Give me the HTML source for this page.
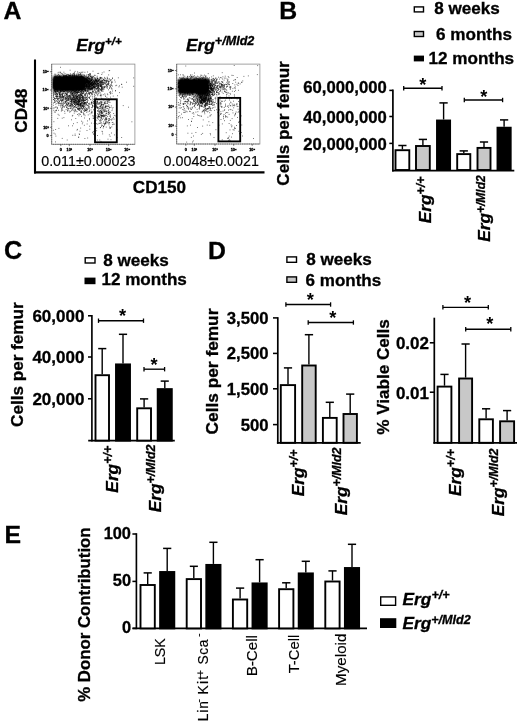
<!DOCTYPE html>
<html lang="en"><head><meta charset="utf-8"><title>Figure</title>
<style>html,body{margin:0;padding:0;background:#fff}svg{display:block;will-change:transform}</style>
</head><body>
<svg width="520" height="722" viewBox="0 0 520 722" font-family='"Liberation Sans", Arial, Helvetica, sans-serif' fill="#000">
<rect x="0" y="0" width="520" height="722" fill="#fff"/>
<text x="3.6" y="18.9" font-size="24.8" font-weight="bold" font-style="normal" text-anchor="start" stroke="#000" stroke-width=".32">A</text>
<text x="279.2" y="18.9" font-size="24.8" font-weight="bold" font-style="normal" text-anchor="start" stroke="#000" stroke-width=".32">B</text>
<text x="3.9" y="258.9" font-size="25.2" font-weight="bold" font-style="normal" text-anchor="start" stroke="#000" stroke-width=".32">C</text>
<text x="208" y="259.4" font-size="24.8" font-weight="bold" font-style="normal" text-anchor="start" stroke="#000" stroke-width=".32">D</text>
<text x="4.4" y="543.2" font-size="24.8" font-weight="bold" font-style="normal" text-anchor="start" stroke="#000" stroke-width=".32">E</text>
<g id="panelA">
<line x1="35" y1="59.5" x2="35" y2="173.5" stroke="#000" stroke-width="2.1"/>
<line x1="34" y1="172.4" x2="264.5" y2="172.4" stroke="#000" stroke-width="2.1"/>
<text x="76.3" y="51" font-size="17.3" font-weight="bold" font-style="italic" text-anchor="start" stroke="#000" stroke-width=".32">Erg<tspan font-size="11.5" dy="-5.6">+/+</tspan></text>
<text x="186" y="51" font-size="17.3" font-weight="bold" font-style="italic" text-anchor="start" stroke="#000" stroke-width=".32">Erg<tspan font-size="12.6" dy="-5.6">+/Mld2</tspan></text>
<text transform="translate(27.3 110.7) rotate(-90)" font-size="17.2" font-weight="bold" font-style="normal" text-anchor="middle" stroke="#000" stroke-width=".32">CD48</text>
<text x="132.8" y="193.3" font-size="17.1" font-weight="bold" font-style="normal" text-anchor="start" stroke="#000" stroke-width=".32">CD150</text>
<text x="41.2" y="165.8" font-size="14.3" font-weight="normal" font-style="normal" text-anchor="start" stroke="#000" stroke-width=".15">0.011±0.00023</text>
<text x="163.6" y="165.8" font-size="14.3" font-weight="normal" font-style="normal" text-anchor="start" stroke="#000" stroke-width=".15">0.0048±0.0021</text>
<defs><filter id="bl" x="-20%" y="-30%" width="140%" height="160%"><feGaussianBlur stdDeviation="1.1"/></filter></defs>
<rect x="51.7" y="64.1" width="83.2" height="80.2" fill="#fff" stroke="#8c8c8c" stroke-width="0.8"/>
<path d="M51.7,64.1V144.3H134.9" fill="none" stroke="#555" stroke-width=".8" stroke-dasharray="1.4 .8"/>
<rect x="52.9" y="75.6" width="32" height="15.5" rx="3" fill="#000" opacity="1" filter="url(#bl)"/>
<rect x="52.9" y="77.1" width="38" height="12" rx="3" fill="#000" opacity="0.55" filter="url(#bl)"/>
<path d="M88.4,76.6h.8M62,89.9h.8M59.4,85.7h.8M65.6,87h.8M61.5,81.4h.8M58.7,83.3h.8M69.8,87.7h.8M71.2,79.1h.8M54.2,76.9h.8M59.5,86.8h.8M74.7,79.5h.8M73,82.3h.8M75.3,85.1h.8M86.2,80.4h.8M65.3,89.3h.8M56.8,85.4h.8M79.9,85h.8M61.7,81.9h.8M75.1,82.3h.8M85.8,82.6h.8M73.9,83.7h.8M66.7,85.3h.8M75.2,85.4h.8M57.3,82.6h.8M63.4,83.1h.8M58.2,86.4h.8M63,88.4h.8M59.4,88.6h.8M63.3,83.5h.8M60.8,78.5h.8M66.9,84.2h.8M66.5,84.3h.8M69.6,83.9h.8M83.9,85.7h.8M82.5,84.1h.8M62.6,74.3h.8M63.5,83.7h.8M66.9,82.3h.8M79.6,85.7h.8M68.5,80.6h.8M67.2,86.9h.8M73.5,86.3h.8M74.7,85.3h.8M79.8,85.1h.8M72.6,82.3h.8M70.8,87.9h.8M67.3,79.9h.8M81.4,86.9h.8M54.7,89.7h.8M63.9,79.9h.8M70.7,84.5h.8M82.7,83.6h.8M55.4,76.6h.8M64.8,78.1h.8M93.7,84.3h.8M54.9,87.9h.8M58.8,85.5h.8M86,82.6h.8M60.1,83.6h.8M72.4,93.2h.8M71.6,89.2h.8M73.4,78.1h.8M70.5,80.6h.8M83.2,77.7h.8M78.9,85.7h.8M73.4,82.3h.8M56.8,77.3h.8M56.4,82.8h.8M74.6,79.2h.8M77.1,87h.8M89.7,79.7h.8M56.8,77.7h.8M59.5,81.8h.8M76.5,89h.8M54.5,85.7h.8M64,80.6h.8M58.9,81h.8M62.4,88.6h.8M82.5,83h.8M53.2,81.4h.8M66.6,88.1h.8M69.2,81.9h.8M76.9,80.7h.8M80.2,78.4h.8M71.4,81.9h.8M77.1,80.5h.8M66.6,84.3h.8M57.3,91.1h.8M76.3,86.5h.8M66.2,83.9h.8M65.1,86.1h.8M89,82.9h.8M94.3,84.9h.8M65.2,86.2h.8M90.8,85.7h.8M77,81h.8M62.3,84.9h.8M73.2,79.3h.8M72.4,92h.8M64.5,76.3h.8M74.6,83.3h.8M67.7,85.9h.8M68.5,82.1h.8M68.1,87.9h.8M89.5,78.9h.8M65.9,82.8h.8M60.2,82.3h.8M64,91.7h.8M87.3,86.9h.8M70.6,85.3h.8M59.7,82.7h.8M67.7,84.5h.8M75.7,83.1h.8M52.8,91.1h.8M62.3,84.6h.8M85.7,80.8h.8M76.8,81.7h.8M65.1,85.4h.8M59.5,79.3h.8M63.7,80.7h.8M78,74.5h.8M70.1,92.9h.8M67.5,82.9h.8M56.4,86.1h.8M72.4,85h.8M69.1,79.4h.8M59.2,83.7h.8M72.3,84.5h.8M77.9,80.2h.8M56.9,86.7h.8M58.8,88.8h.8M54.4,85.8h.8M76.1,77h.8M72.3,95.1h.8M70.1,86.9h.8M64.8,81.2h.8M60.3,79.9h.8M67.3,84h.8M56.6,80.4h.8M74.2,84.4h.8M89.1,82h.8M85.8,82.8h.8M86.6,79.1h.8M66.6,84.6h.8M77.7,84.9h.8M60.8,80.6h.8M77.7,77.2h.8M60.8,84.1h.8M59.3,76.6h.8M57.3,80.6h.8M74.8,85.7h.8M69.3,88.9h.8M68.1,82.6h.8M67.5,89h.8M84.9,82h.8M64,84.9h.8M68.2,89.1h.8M64.3,78.9h.8M65.3,88.6h.8M85.1,81.2h.8M56.5,87.6h.8M65.1,82.8h.8M60.4,87.5h.8M65.1,78.5h.8M60.6,88.9h.8M85.6,82.3h.8M63.6,76.3h.8M70.4,84.4h.8M86.5,77.4h.8M87.8,89.1h.8M60.8,90.8h.8M80.8,76.8h.8M53.7,89.4h.8M68,86.2h.8M82.2,87.7h.8M85.6,90.9h.8M65.9,76.4h.8M65,81.2h.8M61.3,84.4h.8M70.3,85.1h.8M64,82.1h.8M71.1,86.7h.8M56.7,80.3h.8M69.8,82.5h.8M70.3,83.8h.8M86.1,93.6h.8M70.1,84.8h.8M74.7,83.7h.8M61.4,81.8h.8M74,87.3h.8M74.2,81.5h.8M72.7,83.8h.8M52.9,84.6h.8M57,80.9h.8M63.2,80.5h.8M57.2,88h.8M79.3,81.1h.8M68,87.2h.8M82.8,82.8h.8M81,80h.8M66.5,78.8h.8M63.2,76.5h.8M53.4,86.1h.8M55.2,85.9h.8M55.3,81.6h.8M70.2,78.9h.8M54.2,81h.8M66.7,83.8h.8M68.2,88.3h.8M59.2,80.5h.8M63.3,76.3h.8M84.5,84h.8M86.7,81.7h.8M55.5,79.7h.8M63.2,75.5h.8M60.9,85.4h.8M62.1,88.8h.8M85.7,78.9h.8M74.6,77h.8M82.1,80.8h.8M88.8,81.8h.8M60,85.1h.8M63.3,83.3h.8M66.2,76h.8M79,84h.8M64.5,84.1h.8M74.1,80.7h.8M80.9,84.1h.8M80.8,77.3h.8M71.5,81.4h.8M55.4,77.3h.8M80.3,85.9h.8M71.6,74.9h.8M53.5,83h.8M59.1,85.8h.8M59.9,83.8h.8M69,82.6h.8M55.5,91.7h.8M61.9,83.3h.8M75.3,78h.8M64.5,82.4h.8M72.8,80.2h.8M71.2,87.8h.8M66.1,89.6h.8M66.3,89.9h.8M89.9,86.2h.8M63.5,82.5h.8M86.9,80.8h.8M53.8,78.5h.8M75.2,85.9h.8M67.9,78h.8M56.2,82.1h.8M86.4,84.9h.8M53.2,78.1h.8M67.4,78.4h.8M66.4,86.6h.8M69.3,78.5h.8M62.4,79.4h.8M77,86.9h.8M53.9,90.8h.8M68.6,83.2h.8M73.2,87h.8M81.1,76.1h.8M62.9,85.8h.8M61.7,86.8h.8M62.7,87.2h.8M55.9,89.1h.8M67.9,83.7h.8M61.7,82.1h.8M86.5,82.2h.8M85.1,83.4h.8M67.3,77.9h.8M72.9,81.3h.8M67.8,87.3h.8M77.8,82.5h.8M69.7,79.5h.8M75.6,76.2h.8M61.8,82h.8M54.6,91.1h.8M59.3,75.6h.8M86.9,95.9h.8M63.5,83.9h.8M82.5,81.7h.8M61.3,86.2h.8M87.2,79.9h.8M73.5,86.6h.8M71.4,89.8h.8M86.3,83.9h.8M54.4,88.9h.8M68.9,77.9h.8M63.3,78.5h.8M80.7,85.1h.8M66.4,82.6h.8M82.5,83.1h.8M69.8,82.6h.8M59.4,78.2h.8M83.7,80.5h.8M59.6,85.3h.8M73.5,78.4h.8M78.9,90.5h.8M76.5,93h.8M92.8,80.3h.8M63.6,82.8h.8M65.9,86.7h.8M65.7,83.1h.8M62.7,91.1h.8M53.1,82.3h.8M61.4,87.3h.8M82.9,85.4h.8M72.7,85.4h.8M70.1,80.1h.8M75.2,82.5h.8M88.2,78.2h.8M56.3,96.6h.8M68,83.8h.8M72.2,82.7h.8M81.7,83.7h.8M79,85.2h.8M54.7,85.8h.8M62.2,88.7h.8M80.1,83.3h.8M60.6,90.9h.8M61.1,84.7h.8M54.1,80.4h.8M85.5,80.1h.8M69.4,86.7h.8M60.3,83.8h.8M73.6,84.1h.8M64.6,78.4h.8M73.4,84.3h.8M82.8,80.9h.8M62.3,80.3h.8M72.4,88.8h.8M71.9,84.7h.8M80.4,82.4h.8M73.4,87.6h.8M66.1,91.2h.8M57.3,77.4h.8M69.5,87.4h.8M74.2,83.3h.8M66.5,89.3h.8M72.8,87h.8M58.9,81.7h.8M55.3,88.7h.8M53.8,82.8h.8M80.1,83.5h.8M62.9,78.2h.8M62.7,83.7h.8M65,82.2h.8M83.4,88.7h.8M62.6,83h.8M66,81h.8M73.6,73.9h.8M63,78.3h.8M71.3,82.5h.8M82.2,78.6h.8M74.3,78.9h.8M52.9,82.8h.8M53.9,83.5h.8M56,88.4h.8M57.9,86.3h.8M72.4,80.8h.8M61.5,84h.8M84.2,79.3h.8M68.9,88h.8M62.1,92.1h.8M52.8,87.5h.8M75.7,94.4h.8M79.8,79.1h.8M82.7,87.2h.8M60.5,83.1h.8M65.6,84.3h.8M68.6,79.2h.8M66.4,83.4h.8M78.9,83.2h.8M59.3,80.7h.8M70.5,88.2h.8M75.5,88.4h.8M87,81.5h.8M65.3,80.9h.8M79.2,78.9h.8M61.3,87.5h.8M69.8,80.7h.8M72.5,84h.8M54.7,85.7h.8M58.1,82.6h.8M97.2,88.1h.8M64.7,88.8h.8M67.2,80h.8M70.4,84.9h.8M69.6,83.9h.8M62.6,78.4h.8M56.8,84.7h.8M86.9,88.4h.8M69,80.7h.8M60.8,82.1h.8M65,81.9h.8M66.1,77.8h.8M57.2,87h.8M77.3,82.7h.8M58,85.4h.8M63.5,86.4h.8M76.6,81.8h.8M68.6,79.6h.8M80.3,80.8h.8M62.7,81.5h.8M60.1,80.2h.8M71.8,82.3h.8M68.5,77.8h.8M81.1,81.7h.8M71,81.1h.8M65.3,84.6h.8M71.5,85.6h.8M74.2,90.9h.8M63.8,86.4h.8M61.4,83.7h.8M81.3,83.9h.8M59.4,85.2h.8M79.5,82.8h.8M65,80.3h.8M79.6,85.3h.8M62.3,80.1h.8M80.7,81.8h.8M66.1,94h.8M67.8,84.2h.8M64.1,87.7h.8M74.4,86.1h.8M78,87.5h.8M69.5,82.2h.8M78.5,79.2h.8M62.4,86.8h.8M59,78.5h.8M59.7,83.4h.8M73.5,80h.8M61.7,86.6h.8M71.1,84.1h.8M72,85.2h.8M84.2,80h.8M60.5,81.5h.8M74.7,85h.8M74.7,82.8h.8M58.5,84.1h.8M62.4,78.9h.8M64.6,84.1h.8M67.5,85.4h.8M58.5,78.7h.8M57.5,88h.8M61,81.6h.8M83.9,81.2h.8M53.6,88.5h.8M78.4,81.7h.8M91.1,82.1h.8M68.6,85.1h.8M96.6,84.4h.8M64.2,88.4h.8M87.7,82.1h.8M65.4,81.4h.8M70.6,80.6h.8M90.6,86.6h.8M58.5,85.8h.8M72.4,82.4h.8M53.2,83.2h.8M54.7,74.9h.8M72.1,87.1h.8M63.8,85.6h.8M73.6,75.3h.8M82.8,81.5h.8M57.3,89.5h.8M66.9,84.8h.8M96.4,88.8h.8M62.1,90.1h.8M60.1,86.7h.8M72.1,80h.8M93.8,78.4h.8M58.9,82.6h.8M62.5,86.9h.8M67,85.5h.8M76.3,78.6h.8M94.9,86.7h.8M68.7,87.9h.8M73.6,84.3h.8M58.7,80.7h.8M79.2,84.1h.8M59.9,84.9h.8M73.1,83.2h.8M69.1,80.7h.8M75.3,85.7h.8M72.5,87.2h.8M70.2,79.3h.8M83.1,86.4h.8M59.6,81.4h.8M68.5,82.8h.8M81.6,87.7h.8M59.7,78.9h.8M62.2,83.3h.8M57.2,90.7h.8M54.8,89.7h.8M93.3,81.6h.8M73.1,79.5h.8M91.4,88.9h.8M76.6,84.8h.8M68.1,85h.8M63.4,77.7h.8M70.5,84.3h.8M66.5,77.7h.8M78.9,82.8h.8M55.7,91.3h.8M69.3,88.9h.8M73.1,90.2h.8M64.1,84.1h.8M64.1,85.4h.8M74.2,82.3h.8M74.3,92h.8M65.7,81.8h.8M66.9,78.2h.8M59.8,82h.8M74.3,88.1h.8M65.5,81.7h.8M63,78.1h.8M74.9,81.2h.8M70.6,78.5h.8M55.4,79.2h.8M76.4,82.7h.8M74.7,86.1h.8M74.7,91.5h.8M86.6,86h.8M62.4,79.3h.8M74.6,79.2h.8M63.4,77.5h.8M79.5,83.2h.8M81.7,79.7h.8M73,82.7h.8M76.3,79h.8M56,89.9h.8M74.6,82.4h.8M94.5,82.5h.8M81.4,92.8h.8M83.2,89.4h.8M55.1,83.7h.8M73.2,87.8h.8M67,88.6h.8M57.7,83.9h.8M73.8,91.1h.8M61.7,77.8h.8M85.3,87.2h.8M56.1,82.1h.8M82.6,82.4h.8M65.7,86.4h.8M72.7,81.6h.8M79.6,79.6h.8M61.5,88.3h.8M61.7,80.7h.8M54.1,89h.8M68.5,79.7h.8M77.8,78.3h.8M55.4,87.1h.8M75.4,78.2h.8M74.4,89.6h.8M85.5,90.1h.8M71.7,81.3h.8M57.3,83.1h.8M60.4,78h.8M81.7,80.4h.8M70.2,83.6h.8M59.4,83.8h.8M71.4,88.9h.8M61.1,81.9h.8M72.8,81.6h.8M67.7,86.6h.8M80.1,87h.8M70.1,82.9h.8M78.6,84.7h.8M65.6,81.5h.8M75,83.2h.8M63.7,75.3h.8M74.1,76.7h.8M68.6,87.4h.8M64.1,81.3h.8M60.2,79.4h.8M62.1,85.9h.8M71.9,92.3h.8M81.8,85.6h.8M63.2,91.4h.8M61.4,91.1h.8M75.3,85h.8M68.8,82.7h.8M65.1,84.6h.8M66.8,86.3h.8M78,83.5h.8M96.1,82.1h.8M70.6,81.6h.8M60.3,82.9h.8M71.2,85.1h.8M108.8,78.6h.8M55.7,80.4h.8M60.9,87.8h.8M73,80.5h.8M69.9,85.3h.8M78,75.9h.8M62.2,86.2h.8M82.9,84.6h.8M61.2,89.5h.8M87.4,82.4h.8M62.3,80.4h.8M58.1,87.8h.8M76.6,84.9h.8M57.5,89.8h.8M82.4,82.5h.8M64.6,85.9h.8M60,77h.8M71.2,87.4h.8M56.4,77.9h.8M80.6,82.2h.8M77.1,81.7h.8M54.7,85.7h.8M74.9,78.5h.8M84.7,85.8h.8M72.1,82.1h.8M72.2,78h.8M63.9,78.5h.8M80.2,81.8h.8M63.4,81.9h.8M82.9,88.9h.8M55.6,84.6h.8M77.1,82.5h.8M60.4,81.6h.8M72.8,89.8h.8M70.3,81h.8M64.9,85.5h.8M83,86.2h.8M74.3,79.9h.8M80.6,83h.8M80.4,86.3h.8M60.8,78.2h.8M70.8,82.6h.8M100.3,85h.8M54.7,81.4h.8M71,81.9h.8M58.3,86.1h.8M88.6,86.8h.8M68,77h.8M57.7,72.8h.8M56.1,78.3h.8M67.6,81h.8M54.8,91.3h.8M68.6,89h.8M88.9,75.7h.8M78.6,85.9h.8M96.5,83h.8M54.2,77.3h.8M61.8,80.9h.8M60.3,90.2h.8M75,85.4h.8M62.2,78.9h.8M61.5,83.1h.8M71.5,81.1h.8M72.8,76.8h.8M55.2,83.4h.8M86.3,79.3h.8M78,83.4h.8M71.8,84.4h.8M73.7,81.8h.8M70.3,79.9h.8M75.2,86h.8M77,85.9h.8M66.5,80.8h.8M63.5,72.2h.8M54.6,83.4h.8M73.5,82.7h.8M76.6,82.8h.8M57.1,86.6h.8M54.1,77.6h.8M96.5,83.1h.8M85.1,89.9h.8M61.8,88h.8M79.7,89h.8M89.2,82.8h.8M54,86.1h.8M61.8,83h.8M77.8,82.8h.8M70.9,78.9h.8M60.6,83.3h.8M87.1,87.3h.8M72.3,83.8h.8M76.1,75.9h.8M97.3,85.6h.8M72.1,78.9h.8M100.7,85.4h.8M69.7,80.1h.8M63.5,89.5h.8M67.3,82.5h.8M77.2,87.5h.8M74.3,77.6h.8M70.5,82.6h.8M62.1,81h.8M75.3,81.1h.8M84.8,83.6h.8M63.6,76.6h.8M59.4,87.9h.8M64.1,85.8h.8M68.3,80.8h.8M54.2,87.1h.8M79,80.9h.8M75.5,77.9h.8M59.9,72.8h.8M63.9,84.4h.8M56.3,87.8h.8M74.1,85.8h.8M56.6,91.1h.8M57.5,86.2h.8M87.2,91.4h.8M71.4,82.9h.8M68.6,91.2h.8M66.7,82.3h.8M76.9,81.2h.8M75.2,75.9h.8M62.3,86.9h.8M56.8,86h.8M68.3,84.6h.8M64.6,86.6h.8M80.7,76.9h.8M68.8,84.9h.8M80.5,94.7h.8M67,82h.8M71.6,84.3h.8M65.7,76.7h.8M67.4,76.6h.8M58.5,79.1h.8M57,84.2h.8M67.6,83.9h.8M65.7,81.6h.8M73.8,84.6h.8M63.8,87.1h.8M74.8,83.3h.8M54.3,84.3h.8M60.7,86.4h.8M69.7,82.5h.8M90.6,84.1h.8M61.5,83.6h.8M57.4,83.2h.8M56.1,81.8h.8M53.2,87.7h.8M54.7,80.8h.8M60.4,83.2h.8M65.3,78.2h.8M81.8,86.1h.8M59.1,77.1h.8M64.1,83.3h.8M70.5,81.6h.8M54.2,83.4h.8M59.1,79.2h.8M77.5,87.3h.8M67.4,88.5h.8M95.3,77.9h.8M71,91.4h.8M67.2,78.4h.8M74.1,84.7h.8M66.8,85.3h.8M89.3,85.2h.8M73.2,77.7h.8M62.7,86.2h.8M74.4,84.9h.8M62.4,83.3h.8M61,87.7h.8M77.2,84.7h.8M78.8,86.6h.8M70.8,84.5h.8M75.6,87.3h.8M77.7,82.6h.8M86.2,86.6h.8M84.7,82.2h.8M77.4,85.3h.8M60.6,87.2h.8M74.9,81.4h.8M59.5,81.1h.8M53.2,83.8h.8M71.9,86.8h.8M70.6,85.1h.8M81.7,84.3h.8M73.9,85.1h.8M74.9,79.6h.8M67.5,89h.8M85.7,88.8h.8M54.5,87.9h.8M70.6,76.9h.8M61.2,88.6h.8M65.9,79.3h.8M53.3,83.7h.8M64.3,82.9h.8M75.1,90.2h.8M67.8,87.5h.8M70.7,83.6h.8M56.1,85.5h.8M87.2,81.2h.8M57,79.4h.8M66.5,86.3h.8M74,86.7h.8M63.8,83.8h.8M76.2,89.9h.8M68.8,90.9h.8M88.7,82h.8M73.5,84.8h.8M71.5,85.8h.8M55.6,76.2h.8M72.3,88.5h.8M79.5,87.8h.8M71.7,85.5h.8M53.9,83.8h.8M59,82.4h.8M63.1,89.4h.8M66.4,81.5h.8M90.8,83.6h.8M64.8,89.1h.8M67.6,89.8h.8M60.3,84.5h.8M65.5,84h.8M91.3,79.1h.8M53.6,79.8h.8M59.2,85.3h.8M58.8,84h.8M86.1,79h.8M57.7,80h.8M60,72.2h.8M61.2,73.4h.8M68.9,75.7h.8M59.5,79.3h.8M60.7,87.1h.8M76.4,78.4h.8M72.9,85.6h.8M64.6,90.7h.8M55.7,85.8h.8M88,78.2h.8M74.4,76.3h.8M63.4,85.4h.8M56.4,85.1h.8M77.6,88.6h.8M56.3,83.2h.8M82.5,84.3h.8M72.5,84.7h.8M82.7,87.9h.8M53.3,85.1h.8M93.5,86.3h.8M77.2,83.5h.8M84.2,83.7h.8M91,79.8h.8M62.6,83h.8M63.5,86.3h.8M70.9,84.7h.8M68,79.9h.8M78.2,85.4h.8M58.8,81.3h.8M80.6,82.5h.8M94.9,85.9h.8M56.7,81.8h.8M74.3,86.4h.8M71,82.3h.8M54,90.2h.8M56.4,83.8h.8M88.2,79.1h.8M53.5,86.7h.8M58.4,84.2h.8M78.4,77.4h.8M62.4,79.8h.8M53,82.7h.8M84.7,86h.8M70.3,75.5h.8M57,82.8h.8M61,83.8h.8M78.2,92.1h.8M61.3,84.3h.8M69.4,84.1h.8M77.7,83.1h.8M79.1,84.5h.8M59.8,82.3h.8M61.8,85.1h.8M67.5,90.7h.8M76.3,82.2h.8M81.5,85.7h.8M60.3,90.8h.8M68.8,83.2h.8M58.5,80.7h.8M88.9,86.6h.8M71,87.7h.8M67.1,85.1h.8M79.4,83.2h.8M57.8,83h.8M61.9,84h.8M64.1,87.8h.8M74.9,84.9h.8M83.4,89.4h.8M76.7,91.4h.8M76.3,82.3h.8M63.5,90.1h.8M71.3,88.7h.8M63.4,83.3h.8M81.6,74.3h.8M58.2,79.6h.8M65.5,86.4h.8M69.6,76h.8M76.7,88.7h.8M57,80h.8M63.4,84.4h.8M55.7,80.7h.8M80.6,84.2h.8M72.4,78.5h.8M53.7,81.1h.8M73.7,86.2h.8M58.5,79.2h.8M82.7,90.1h.8M60,78.4h.8M61.5,78.2h.8M73.7,81.2h.8M57,84.6h.8M66.6,85.6h.8M68.4,85.9h.8M76,86.7h.8M56.6,83h.8M80.4,78.7h.8M70.7,79.6h.8M89.6,81.8h.8M69.1,80.2h.8M59.3,92.8h.8M59.2,81.6h.8M66.1,86.4h.8M65.3,80.1h.8M77.8,78.1h.8M67.2,82.1h.8M55.1,84.6h.8M79.4,82h.8M60.4,87.7h.8M69.5,80.9h.8M85.1,80.8h.8M82.6,84.5h.8M56.4,91.4h.8M64.5,86.7h.8M83.5,90.8h.8M78.8,81.8h.8M73,87.9h.8M77.5,85.5h.8M62,82.2h.8M57.5,80.4h.8M60.7,79.2h.8M71.9,86.9h.8M81,86h.8M75.9,80.1h.8M69.1,87.8h.8M60.9,83.6h.8M82.2,84.2h.8M68.9,91.6h.8M64.5,88.7h.8M71.8,90.4h.8M68.1,83.2h.8M85,90.3h.8M61.8,91.3h.8M64.4,78.5h.8M64.5,81h.8M58.8,81.2h.8M61.1,83.3h.8M54.3,83.6h.8M77.4,85.4h.8M63.3,86.9h.8M75.9,84.5h.8M64.5,79h.8M72.3,84.9h.8M73.8,81.2h.8M56.6,84.3h.8M63.4,89.6h.8M66.1,85.9h.8M60.2,84.1h.8M59.2,89.6h.8M71.6,91.5h.8M58.3,90.2h.8M68.5,84.6h.8M82.5,86.2h.8M66,81.5h.8M72.4,81.7h.8M53.8,79.2h.8M64.3,79.7h.8M88.7,86.3h.8M89.3,73.5h.8M73.1,85.8h.8M61.3,86.8h.8M63.5,86.2h.8M82.2,83.2h.8M55.6,78.6h.8M63.1,85.9h.8M76.8,88.7h.8M69.5,75.5h.8M69.7,80.3h.8M66.5,78.8h.8M62.7,85.7h.8M76.9,84.6h.8M72.2,83.6h.8M85.7,75.8h.8M70.6,81.8h.8M68.7,87.1h.8M59.8,78.9h.8M60.6,79.4h.8M61.3,81.1h.8M72.1,84.1h.8M72.4,75.5h.8M55.3,84.3h.8M60.1,81.4h.8M81,84.4h.8M64.4,86.8h.8M71.9,83.3h.8M72.4,81.4h.8M63,88.9h.8M72.1,81.5h.8M65.9,88.9h.8M71.3,81.3h.8M58,80.6h.8M84.1,78.8h.8M63.2,89.4h.8M64.3,84.7h.8M55,87.4h.8M81,87h.8M57.6,85.3h.8M70.2,81.4h.8M64.1,81.4h.8M76.2,84.8h.8M70.2,75.1h.8M83.7,83h.8M61.8,79.3h.8M63.1,83.2h.8M68.5,78.9h.8M83.5,85.9h.8M53,80.6h.8M79.9,85.9h.8M84,75.5h.8M78.4,77.4h.8M67.7,85.6h.8M56.8,90h.8M72.6,86.4h.8M62.1,84.2h.8M87.8,89.9h.8M61.4,81.3h.8M73.5,77.1h.8M59.9,80.3h.8M70.9,83.8h.8M60.7,85.7h.8M63,80.8h.8M55.9,77.3h.8M63.3,84.3h.8M82.1,79.3h.8M68.9,81.7h.8M86.2,87.7h.8M70,89.8h.8M80,74.6h.8M53.4,81.9h.8M55.2,79.8h.8M68.8,83h.8M53.5,80.3h.8M67.1,82.6h.8M53.1,83.7h.8M83.5,80.9h.8M75.8,83h.8M76.5,83.8h.8M62.6,93.6h.8M68.6,87.4h.8M76.9,85.1h.8M54.3,84.1h.8M82,80.5h.8M64.5,88h.8M82.2,78.9h.8M95.3,80.7h.8M86.3,87h.8M81.7,79.8h.8M61.4,94.4h.8M60,79.5h.8M62.5,82.2h.8M68.8,84.2h.8M56.2,87.7h.8M80.3,94h.8M69.9,88.8h.8M52.9,83.6h.8M56.4,83.5h.8M56.8,86.2h.8M68.2,78.2h.8M63.4,86.1h.8M71.3,82.4h.8M77.5,76.6h.8M65.7,78.8h.8M81.1,89.8h.8M71.2,84.9h.8M58.2,79.8h.8M60.3,88.6h.8M65.6,75.5h.8M72.5,83.4h.8M67.8,78.6h.8M78.4,86.1h.8M80.7,87.1h.8M64.2,81h.8M71.5,87.7h.8M77.5,84.6h.8M74.1,91.5h.8M73.7,85h.8M53.3,84.4h.8M70.5,79.7h.8M57.1,79.5h.8M71,86.5h.8M77.4,82.5h.8M56.8,87.9h.8M62.4,86.2h.8M97.8,81.4h.8M55.7,82.1h.8M58.9,88.1h.8M78.6,80.3h.8M56.7,84.6h.8M57.4,80.7h.8M55.1,93.1h.8M75.4,83.9h.8M58.3,82.8h.8M64.9,80.4h.8M83.5,86h.8M63.6,81.6h.8M67.2,84.3h.8M67.8,85.9h.8M82.3,84h.8M58.1,86.5h.8M65.9,78.9h.8M74,74.7h.8M60,78.6h.8M91.9,83.8h.8M78.6,88.5h.8M91.4,80.8h.8M68,83.8h.8M89.6,79h.8M59.2,86.5h.8M71.4,90.4h.8M67.7,79.8h.8M60.5,83.5h.8M87.9,91.7h.8M83.5,81.5h.8M57.2,80h.8M75.4,83.4h.8M67.6,84.8h.8M68.5,82.5h.8M74.4,83.3h.8M59.9,87.9h.8M69,79.8h.8M70.5,88.1h.8M58.6,81h.8M59.9,87.3h.8M77.9,88.5h.8M67,83.9h.8M97.6,81.6h.8M94.6,79h.8M56.9,77.9h.8M70.5,86.3h.8M57.6,83.4h.8M54.3,81.8h.8M55.9,87.3h.8M69.3,88.6h.8M67.7,82.8h.8M55.1,91.7h.8M64.7,82h.8M77.8,81.8h.8M86.8,79.4h.8M86.6,81.7h.8M54.8,81.8h.8M60.5,77.9h.8M85.9,88.9h.8M73.6,88.2h.8M73.3,81.9h.8M86.1,87.2h.8M68.6,75.8h.8M59.7,86.5h.8M84.9,82.2h.8M62.8,84.5h.8M67.7,82.5h.8M90.2,81.4h.8M75.4,83h.8M66.3,84.2h.8M81.6,86.9h.8M71.3,80.9h.8M58.6,82.7h.8M83.7,82.1h.8M54.6,90.9h.8M76.2,78.4h.8M68.3,84.2h.8M65.9,78.9h.8M74.8,85.6h.8M63.9,81.2h.8M84.5,83.5h.8M62.9,81.1h.8M84.6,88.3h.8M83.1,85.9h.8M72.3,86.8h.8M83.9,85h.8M74.7,71.4h.8M54.7,79.2h.8M61.9,77.5h.8M72.5,75.3h.8M53.7,89.8h.8M85.5,79.8h.8M56.4,88.1h.8M56,80.3h.8M53.1,86.6h.8M86.9,85.2h.8M76,79.7h.8M77.3,80.4h.8M87.3,80.6h.8M78.2,85.6h.8M83.2,77.1h.8M70.4,83h.8M77,80.7h.8M73.9,90.1h.8M74.8,78.3h.8M62.8,84h.8M60.8,89h.8M57.1,87.4h.8M65,77.1h.8M89.3,90.2h.8M77.9,81.8h.8M66.8,85.2h.8M70,73.8h.8M84,89.3h.8M70.6,83.8h.8M87.3,81.6h.8M89.1,88.2h.8M77.3,71.8h.8M72.7,82.5h.8M56.2,82.6h.8M64.9,89.1h.8M70.4,79.3h.8M70.8,82.4h.8M58.4,86.2h.8M69,82.8h.8M55.4,87.8h.8M62.4,90.5h.8M72.1,74.1h.8M69.4,75.5h.8M67.7,80.4h.8M75,83.6h.8M80.1,79.8h.8M61.6,85.7h.8M56.3,77.6h.8M58.9,83.1h.8M64.8,79.2h.8M55.4,82.3h.8M62.1,81.9h.8M83.1,86h.8M72.2,77.1h.8M63.5,76.5h.8M77,85.7h.8M67.8,82h.8M68.5,82.6h.8M79.4,82.2h.8M69.9,76.8h.8M67.5,78.1h.8M74.9,84.4h.8M58.4,83.7h.8M66.2,82.3h.8M60.1,89.2h.8M85.7,82.7h.8M60.9,86h.8M65.6,87.5h.8M60.1,83h.8M72,78.8h.8M65.4,87.7h.8M79.9,85.1h.8M54.1,83.9h.8M66.2,80.8h.8M61.2,87.6h.8M58,76.9h.8M79.8,86.2h.8M56.1,87.9h.8M56.3,83.1h.8M98.6,79.2h.8M64.8,79.2h.8M63,86.7h.8M71.7,82.8h.8M70.3,80.5h.8M59.6,94.6h.8M58.3,79.6h.8M83.3,86.5h.8M74,87.9h.8M89.8,83.5h.8M87.6,84.7h.8M56.8,85.2h.8M72.6,90.8h.8M60.1,83.6h.8M57.5,86h.8M81.4,90.7h.8M84.5,79.9h.8M67.4,79.1h.8M70.2,84.5h.8M69.6,83.3h.8M70,88.1h.8M70.4,87.6h.8M73.8,87.1h.8M56.8,83.4h.8M63.9,89.1h.8M69.3,84h.8M76.7,94.8h.8M70.7,85.2h.8M69.6,88.1h.8M57.1,81.2h.8M70.9,80.1h.8M68.5,91.4h.8M69.5,83h.8M56,80.7h.8M87.9,81.5h.8M75.6,87.9h.8M74.6,82.6h.8M66.9,80.7h.8M62,74h.8M77.8,81.1h.8M59.7,82.2h.8M61.9,81.7h.8M73.1,92.6h.8M61.6,86.6h.8M84.1,82.2h.8M86,80.4h.8M69.8,86.7h.8M77.9,90.5h.8M58.9,83.3h.8M79.1,89.4h.8M61.4,82.4h.8M69,78.9h.8M72.7,83.3h.8M67.2,87.5h.8M64.3,81.3h.8M61.5,82.3h.8M76.3,83.9h.8M56.8,86h.8M68.1,79.8h.8M82.4,81.3h.8M54.2,83.5h.8M90.1,80.1h.8M68.8,88.2h.8M62.6,83.9h.8M78,88.2h.8M59.5,81.8h.8M57.4,79.9h.8M79.4,86.4h.8M74.4,88.1h.8M67.2,77.1h.8M77.9,92.3h.8M65,87.9h.8M62.2,86.3h.8M90.6,78.9h.8M60.1,86.6h.8M70.3,81.6h.8M93.7,82.4h.8M73.6,86.5h.8M58.4,80.8h.8M54.6,82h.8M81.5,91.1h.8M76.6,77.1h.8M86.8,80.6h.8M64.5,78.8h.8M76.5,84.7h.8M66.7,79.2h.8M84.3,83h.8M69.4,83.7h.8M56.7,85.5h.8M70.5,84h.8M67.8,84.4h.8M57.8,83.4h.8M62.7,80.1h.8M54.9,83.7h.8M74.2,80.5h.8M69.5,84h.8M66,87.5h.8M58.1,84.3h.8M84.2,78.4h.8M74.9,81.6h.8M58.1,79.3h.8M68.5,82h.8M77.8,86.5h.8M68.6,83h.8M62.6,81.1h.8M71,81.5h.8M93.4,83.7h.8M57.3,75.7h.8M61.4,81.4h.8M68.7,87.1h.8M73.9,78.8h.8M85,76.9h.8M86.7,89.8h.8M72,81.9h.8M67.1,82.1h.8M81.2,81.9h.8M62.2,86.8h.8M82.8,85.5h.8M71.4,81.4h.8M60.4,82.2h.8M59.9,76.8h.8M60.8,83.8h.8M84.1,80.7h.8M57.6,83.6h.8M63.1,82.5h.8M67.9,81.9h.8M53.5,82.9h.8M69.6,75.1h.8M73.5,81.9h.8M63.1,84.1h.8M86.2,84.2h.8M66.9,74.7h.8M66,86h.8M63.5,85.2h.8M58.5,85.2h.8M65.7,85h.8M68.3,86.7h.8M79.2,81.5h.8M87.7,82.7h.8M56.8,85.1h.8M87.4,77.8h.8M67.5,85.4h.8M74,80.2h.8M53,81.1h.8M70.9,80.4h.8M54.1,84h.8M75.2,78.4h.8M66.9,80.9h.8M60.9,80h.8M71,89h.8M69.7,83h.8M68.5,76.9h.8M59.8,83.4h.8M77.8,86.4h.8M73.9,88.7h.8M56.3,87h.8M76.3,83.1h.8M58.1,93.2h.8M67.7,82.9h.8M65.3,76.8h.8M65.4,90.9h.8M77,88.9h.8M83.3,92.8h.8M82.9,83.6h.8M74.1,85.2h.8M71.5,85.4h.8M62.7,80.5h.8M82.7,77.6h.8M81.6,83.4h.8M72,85.9h.8M89,81.6h.8M69,76.7h.8M63.5,79.6h.8M84.3,82.7h.8M57.4,82h.8M77.7,81h.8M81.8,78.5h.8M70.2,89.8h.8M68.7,83.5h.8M73.6,84.7h.8M70.5,83.8h.8M58.2,78.9h.8M60.6,81.2h.8M80.2,80.7h.8M61.4,78.4h.8M70.5,83.5h.8M77.3,79.7h.8M80.9,83.2h.8M55.2,84.5h.8M95.8,89.7h.8M79.5,77.6h.8M75.9,89.2h.8M55.4,89.9h.8M94,81.4h.8M76.1,84.2h.8M82.2,87.8h.8M63.5,79.4h.8M92.5,89.8h.8M86.9,77.6h.8M66.1,85.7h.8M93.7,83.8h.8M53.5,79.9h.8M78.9,80.4h.8M75.9,83.2h.8M76.4,81.8h.8M58,82.3h.8M62.4,81.7h.8M79.7,86.2h.8M81.1,84.3h.8M66.2,83.9h.8M63.4,84.7h.8M60,84.7h.8M84.3,88.5h.8M64.7,83.7h.8M59.4,84.2h.8M60.7,78.3h.8M62,87.7h.8M52.7,79.5h.8M60.3,83.9h.8M64.6,80.7h.8M75.1,86.4h.8M91.4,78.7h.8M66.1,80.9h.8M60.9,89h.8M70.6,78h.8M55.7,80.8h.8M72.7,83h.8M75.7,83.6h.8M61.9,87.6h.8M70.6,84.8h.8M79.1,86.5h.8M57.8,82.2h.8M55.7,83.6h.8M64.3,83.3h.8M67.8,81.7h.8M75.2,81.8h.8M68.5,75.9h.8M63.5,76.9h.8M72.8,79.9h.8M79.2,81.1h.8M78.4,78.3h.8M93.3,91.1h.8M57.4,79.2h.8M68.7,84.6h.8M56.6,79.9h.8M73.8,85.3h.8M82.2,82.8h.8M59.2,79.5h.8M71.9,86.5h.8M66.8,87.4h.8M72.4,94.1h.8M68.6,87.8h.8M59.5,79.2h.8M70.8,81.9h.8M64.6,73.6h.8M93.1,86.3h.8M66.4,83.5h.8M77.7,90.5h.8M68.4,85.6h.8M87.7,86.6h.8M71.1,80.2h.8M61.6,80.7h.8M71.1,83.6h.8M73.9,75h.8M71.7,75.3h.8M66.1,83.7h.8M59,92.3h.8M64,84.2h.8M86.6,84.5h.8M73.6,83.3h.8M58.8,81.6h.8M75.8,77.5h.8M97.6,83.4h.8M69,81.4h.8M68.7,86.3h.8M79.2,80.4h.8M58.4,83.6h.8M55.7,77h.8M75.8,80.1h.8M70,82.2h.8M59.5,82.1h.8M62.1,83.9h.8M58.5,84.3h.8M85,93.4h.8M54.5,83h.8M69.8,87.5h.8M58.2,85.1h.8M72.4,82.7h.8M65,89.6h.8M66.2,76.6h.8M66.4,84.9h.8M92,84.8h.8M72.5,86.4h.8M64.5,81.3h.8M62.2,87.3h.8M84.6,83.6h.8M63,82.1h.8M69.6,78.9h.8M77,89.5h.8M91.9,94h.8M93.4,86.1h.8M64.1,87.8h.8M69.3,86.2h.8M76.1,83.1h.8M76.8,81.6h.8M75.1,84.6h.8M62.3,88h.8M57.8,82.9h.8M87.3,89.4h.8M63.7,82.5h.8M67.1,89.9h.8M79.2,82.5h.8M74.6,83.8h.8M60.3,88.9h.8M67.6,85.2h.8M67.6,79.5h.8M77.6,83.8h.8M71.8,87.4h.8M53.1,85.5h.8M64.2,79.2h.8M66,81.7h.8M67.9,84.1h.8M59.9,82.4h.8M73.2,88.5h.8M89.3,84.6h.8M57.1,86.1h.8M71.9,83.2h.8M59.8,82.3h.8M85.7,84.4h.8M82,85.7h.8M65.7,86.7h.8M57.7,86.6h.8M75.9,87h.8M64.9,75.5h.8M63.6,87.4h.8M94,81.3h.8M80,78.5h.8M83.8,77.4h.8M78,80.1h.8M83.8,77.4h.8M85.4,83h.8M73.7,79.4h.8M74,80.6h.8M72.2,80.9h.8M71.2,79.1h.8M68.1,79.2h.8M78.2,81.9h.8M59,77.9h.8M62.1,81.8h.8M65,81.5h.8M63.4,80h.8M78.1,83.2h.8M58.7,72.2h.8M81.8,85.2h.8M61.8,84.7h.8M53,94.7h.8M64.3,75.9h.8M63.1,84h.8M68.7,86.3h.8M79.6,86.2h.8M69.8,82h.8M86.8,78.6h.8M73,89.5h.8M52.9,86h.8M79.5,79.1h.8M62.3,83.1h.8M67,77.8h.8M83.6,84.1h.8M80.1,81.9h.8M70.1,84.6h.8M70.2,84.8h.8M82,86.6h.8M69.8,90.7h.8M57.1,91.8h.8M58.1,74.5h.8M54.1,84.2h.8M82,87.2h.8M54.6,85h.8M78.4,89.1h.8M73.9,83.6h.8M57.3,87.8h.8M78.6,79.2h.8M82.4,78.9h.8M70.5,76.9h.8M62.9,86.1h.8M75.8,85.6h.8M56.2,89.6h.8M72.4,84.6h.8M85.9,85.7h.8M75.4,84.9h.8M54.4,84.5h.8M60,90.9h.8M67.9,78.6h.8M57.8,85h.8M67.5,83.9h.8M53.1,85.5h.8M58.9,85.3h.8M64.7,86.7h.8M73.1,77.6h.8M60.4,83.6h.8M70.3,80h.8M73.8,83.6h.8M72.5,77.8h.8M64.4,85.8h.8M82.9,85h.8M55.8,89.8h.8M79.6,76.5h.8M78.9,78.7h.8M77.5,82.4h.8M59.3,82.8h.8M78.5,75.9h.8M72.2,78.6h.8M61.9,85.5h.8M70.9,82.9h.8M84.2,89.9h.8M78,88.5h.8M53,85.9h.8M53,84.3h.8M63.6,86.7h.8M64,84.1h.8M75.7,90.5h.8M61.8,78.4h.8M80.7,82.6h.8M59.2,83h.8M79.5,84.6h.8M58.9,76.3h.8M66.6,82.5h.8M76.9,89.5h.8M73,81.4h.8M54.9,85.8h.8M65.8,84.2h.8M65,81.8h.8M61.1,83.1h.8M65.9,89.6h.8M72.8,84.4h.8M79.1,82.7h.8M54.6,84.1h.8M55.1,88.8h.8M82.1,88.6h.8M80.1,84.8h.8M55.8,84.8h.8M57.3,89.2h.8M72.5,86h.8M68.7,80.7h.8M66.5,74.4h.8M95.4,78.6h.8M63.8,82.9h.8M64.6,84.9h.8M69.5,82.5h.8M63.7,80.8h.8M80.6,87.6h.8M64,83h.8M67.9,80.5h.8M95.4,79.1h.8M58.7,86.3h.8M68.3,85.3h.8M58.3,84.7h.8M58,84.2h.8M69.1,83.6h.8M77.3,85.3h.8M63.6,85.5h.8M78.1,81.4h.8M74.4,82h.8M89.4,83.9h.8M83.4,81.2h.8M71.4,92h.8M90.5,83.9h.8M60.5,81h.8M76.2,78h.8M59.3,84.5h.8M62.7,88.8h.8M86.8,81.3h.8M62,83.7h.8M79.5,79.3h.8M82.1,80h.8M60.4,79.8h.8M74.8,84.3h.8M99.9,89.7h.8M72.4,86.4h.8M80.1,89.7h.8M83.7,82.6h.8M61.9,80.8h.8M67.7,89.1h.8M63.6,89.3h.8M68.6,80.2h.8M61.9,83h.8M59,86.2h.8M57.9,83.5h.8M75.7,79.1h.8M67.2,76.7h.8M83.6,93h.8M74.6,87.8h.8M55.3,89h.8M56.2,88.6h.8M74.1,84.3h.8M69.8,78.5h.8M56.9,80.2h.8M61.4,90.8h.8M58.1,80.3h.8M64.7,81.8h.8M72.9,76.9h.8M73.4,81.6h.8M88.4,84.3h.8M64.8,80.9h.8M78.7,90.4h.8M69.3,79.6h.8M52.9,88.1h.8M69.9,85.4h.8M70.3,90h.8M74.6,84.8h.8M72.2,75.9h.8M67.5,78.5h.8M54.1,84.1h.8M61.8,79.9h.8M69.5,88.2h.8M74.2,76.8h.8M76.3,86.4h.8M70.5,81.9h.8M74,85.3h.8M84.4,86.9h.8M68.4,75.4h.8M58.8,80.9h.8M66.2,83.7h.8M73.8,77.9h.8M60.8,81.2h.8M84.9,82.9h.8M54.4,81.7h.8M60.8,85.7h.8M65.1,89.8h.8M78.7,78.2h.8M55.8,79.5h.8M77.4,80.6h.8M82,81.1h.8M59.4,83.1h.8M65.1,81.3h.8M58.3,86.2h.8M71.5,85.2h.8M92.1,79.8h.8M70,84.2h.8M78.5,79.3h.8M60.1,83.4h.8M77.9,81.4h.8M87,77.7h.8M56,79.4h.8M67.2,85.6h.8M78.5,80.3h.8M70.9,83.1h.8M54.6,74.1h.8M59.5,84.7h.8M73.2,73.4h.8M69.9,81.4h.8M57,84h.8M69.9,92.1h.8M66.6,79.8h.8M78.1,81.4h.8M77.8,84.7h.8M60,85h.8M68.9,82h.8M68.6,87h.8M64,86.1h.8M54.9,80.3h.8M57.3,85.6h.8M80,84.3h.8M55.2,86.6h.8M55,85.9h.8M67.1,87.5h.8M85.4,86.4h.8M59.9,77.1h.8M60.3,87.2h.8M62,80.9h.8M76.8,80.8h.8M80.3,87.8h.8M94.3,81.9h.8M79.6,88.7h.8M75,82.2h.8M62.4,79.9h.8M98,83.8h.8M82.4,80.2h.8M90.5,95.9h.8M67.9,84.5h.8M84,80.1h.8M77.2,84.9h.8M88.1,90h.8M87.1,88h.8M71.8,82.4h.8M75.1,87.8h.8M100.1,77.6h.8M90.6,85.4h.8M90.8,87.8h.8M92.3,82h.8M84.8,90.5h.8M65.1,83.2h.8M76.8,84.2h.8M79.1,79.4h.8M82.6,83.9h.8M58,84.3h.8M97.9,85.7h.8M74.3,80.1h.8M89.8,83.9h.8M57,82.9h.8M85.5,86.2h.8M72.1,82.3h.8M94.3,82.3h.8M73,95.3h.8M95,91h.8M94.9,79.9h.8M69.4,88.8h.8M70.8,80.3h.8M73.4,84.3h.8M81.1,84.1h.8M84.4,83.5h.8M70.8,83.4h.8M76.4,82.5h.8M80,86.2h.8M87.5,89.3h.8M71.9,90.5h.8M84.5,72.3h.8M86.8,91.2h.8M92.1,82.5h.8M73.6,76.8h.8M95.3,83.6h.8M97.6,94.2h.8M85.5,90.5h.8M82,89.9h.8M87.6,81h.8M77.3,91.3h.8M81.2,91.6h.8M92.1,91.5h.8M78.7,88.9h.8M79.3,82.9h.8M80.4,80.9h.8M83.7,81.1h.8M93,84.4h.8M92.6,84.5h.8M67.6,82.8h.8M82.3,81.4h.8M81,76.2h.8M91.1,82.2h.8M94,80.6h.8M78.1,86.5h.8M77.3,89.2h.8M60.4,85.3h.8M88.3,87.3h.8M86.9,85.7h.8M81.5,84h.8M67.9,79.5h.8M80.8,80.6h.8M77.1,83.7h.8M73.3,78.3h.8M79.5,87.9h.8M64.4,82.9h.8M73,84.3h.8M83.8,80.6h.8M100.8,82.5h.8M61.3,86.1h.8M86.5,86.7h.8M80.5,83.2h.8M75.8,82.1h.8M90.2,84.5h.8M66.1,78.7h.8M84.5,82.8h.8M75.4,78.3h.8M78.9,81h.8M62.2,87.2h.8M78.7,84.6h.8M86.2,79.1h.8M81.2,80.6h.8M60.6,84h.8M92.6,78.9h.8M84.8,83.9h.8M84.2,90.2h.8M88.9,84.9h.8M74.9,88.4h.8M92.2,84.1h.8M85,90.2h.8M77.4,84.1h.8M80.3,83.8h.8M90.6,88.9h.8M106,82.1h.8M75,82.3h.8M84.5,84.5h.8M71.5,82.4h.8M77.9,91.9h.8M75.5,77.8h.8M86.6,86.2h.8M82.1,80.2h.8M71.8,83.8h.8M77.1,88.7h.8M72.3,80.9h.8M77.7,73.9h.8M79,86h.8M90.1,89.5h.8M65.5,83.3h.8M94.6,81.4h.8M69.3,81.1h.8M86.5,85.1h.8M108.7,81.8h.8M79.8,76.1h.8M95.9,81.1h.8M84.6,83.4h.8M76.3,83.2h.8M96.1,84.8h.8M65.6,86.5h.8M88.5,91.1h.8M79.2,78.4h.8M90.8,86.7h.8M91.7,83.1h.8M87.3,83.3h.8M81.3,76.7h.8M93.8,87.5h.8M68.2,74.6h.8M92.6,82.1h.8M95.1,92.9h.8M76.1,81.9h.8M84.5,87.1h.8M87.6,80.4h.8M96.9,80.2h.8M84.4,86.1h.8M79.9,86.4h.8M78.3,81.8h.8M72,79.6h.8M62.6,81.3h.8M97.7,83.6h.8M95.4,80.3h.8M91.7,88.7h.8M78.2,81h.8M93.8,82.2h.8M97.6,80.7h.8M82,78.2h.8M87.4,85.9h.8M68.5,80.6h.8M85.6,85.4h.8M100.9,84h.8M94.8,95.6h.8M93.7,87.3h.8M89.2,93.2h.8M76.8,75.1h.8M70.8,84.2h.8M74.3,86.7h.8M81.2,79.4h.8M78.9,85.3h.8M90.4,81.3h.8M67.4,90.2h.8M89.5,83h.8M66.2,82.9h.8M80.7,93.3h.8M80.1,83h.8M92,79.1h.8M78.3,85.5h.8M80.1,80.4h.8M85,78.1h.8M75,85h.8M94.8,86.6h.8M78.2,77.5h.8M81.8,88h.8M93.5,77.1h.8M84.1,82.9h.8M80,88.5h.8M93,86.3h.8M89.3,78.4h.8M78.8,81.8h.8M99.3,79.9h.8M76.4,75.5h.8M98.1,87h.8M94.3,94.1h.8M83.5,79.7h.8M79.3,76.5h.8M90,81.4h.8M60.7,85.1h.8M66.8,86.2h.8M96.4,81.3h.8M74.9,89h.8M88.5,80.9h.8M91.2,85.4h.8M72.7,94.4h.8M94,85.9h.8M67,84.5h.8M81.2,86.7h.8M80,83.1h.8M59,83.8h.8M95.4,80.3h.8M65.1,78.5h.8M68.5,77.8h.8M90.3,86.6h.8M67.6,77.9h.8M83.3,85.5h.8M75.4,93.9h.8M75.1,87.3h.8M70.5,81.3h.8M76.1,85.4h.8M80.9,90.1h.8M85,81.1h.8M72.2,88.8h.8M91.5,76.8h.8M80.3,78.9h.8M88.4,88.4h.8M74.2,78.2h.8M66.9,89.8h.8M108.2,82.3h.8M74.1,85.3h.8M97.6,83.7h.8M89,79.5h.8M80.9,87.3h.8M76.2,83.6h.8M76.6,87.8h.8M94.2,77.8h.8M74,72.8h.8M87.8,83.6h.8M77.8,83.5h.8M77.9,82.6h.8M76.3,86.2h.8M68.7,84.8h.8M90.1,76.6h.8M92.5,77.9h.8M88.2,80.7h.8M72,83.1h.8M74.5,82.6h.8M72.9,84.5h.8M90.2,73.6h.8M76.5,87.2h.8M75.3,82.7h.8M84.1,84.5h.8M84.3,89.7h.8M82.2,85.9h.8M89.1,81.2h.8M71.4,81.7h.8M98.3,89.6h.8M75.3,84.2h.8M71,86.7h.8M94.9,83.9h.8M70.1,91.6h.8M81.4,95.9h.8M70.7,82.4h.8M97.1,83.9h.8M86.6,82.5h.8M96.6,80.5h.8M80.4,93.8h.8M66.8,91.3h.8M101.5,78.2h.8M98,80.5h.8M81,88.2h.8M85.3,84.8h.8M77.8,89.1h.8M63.5,81.2h.8M75.7,90.8h.8M66.8,77.4h.8M82,85.9h.8M80.6,82h.8M89.9,84.3h.8M101.3,87.6h.8M90.5,82.6h.8M78.5,82.5h.8M73.9,81.6h.8M97.3,91.9h.8M59.4,82.4h.8M60.2,87.4h.8M98.9,79.2h.8M57.9,77.2h.8M80.4,85.4h.8M96.8,76.2h.8M80.3,73.8h.8M58.9,83.9h.8M81.9,82.4h.8M79.6,87.4h.8M85.6,80.3h.8M72.6,87.3h.8M76,81.5h.8M91.8,79.4h.8M81,88.8h.8M72.3,89.1h.8M85.6,79.9h.8M89.2,82.3h.8M93.8,84.2h.8M97,86.3h.8M65.4,83.1h.8M83.7,82h.8M65.5,90.1h.8M81.9,85.3h.8M112,78.4h.8M84.3,79.5h.8M83.8,81.2h.8M72.3,88h.8M77,88.5h.8M87.4,80h.8M90.5,89.7h.8M85.4,86.6h.8M106.8,88.4h.8M63,86.3h.8M90.9,80.5h.8M62.6,79.3h.8M94.1,90.1h.8M82.2,80.8h.8M70.7,86.2h.8M79.7,88h.8M72.4,83.1h.8M85.3,88.6h.8M62.8,88h.8M90.6,92.9h.8M89,85.5h.8M78.5,84.1h.8M82.2,84.7h.8M93.6,79.7h.8M98.8,86.1h.8M85.5,81h.8M86.5,84.4h.8M60.6,86.2h.8M71.3,84.7h.8M82.3,78.8h.8M76.2,88.3h.8M67.9,85h.8M80.9,80.8h.8M97.6,84.4h.8M95.3,91.3h.8M59.6,83h.8M83.6,83.5h.8M72.6,86.9h.8M91,88.1h.8M77.4,83.5h.8M82.5,78.6h.8M85,82.5h.8M74.9,79.4h.8M64.9,90.3h.8M62.2,86.3h.8M87.9,83.3h.8M73.5,74.8h.8M77.6,81.4h.8M89.5,89.4h.8M83.5,86.1h.8M93.4,83h.8M69.7,70.2h.8M97.9,83.7h.8M85.8,81.4h.8M89.6,88.6h.8M108.4,83.5h.8M89.2,85.8h.8M81.3,88.8h.8M87.3,81.3h.8M85.4,78.8h.8M88.2,80.7h.8M78.8,86h.8M89.8,92.5h.8M98.2,87.7h.8M71.7,81h.8M90.6,93.4h.8M80.4,82.4h.8M90.5,86.2h.8M78.8,83.1h.8M98.7,88.9h.8M86.9,81.1h.8M77.4,84.3h.8M78.3,88h.8M83,83.7h.8M92.8,85h.8M88.9,85.4h.8M99,78.1h.8M79.4,85.3h.8M81.6,79.6h.8M88.7,82.1h.8M111.2,82.3h.8M83.7,82.4h.8M94.6,87.5h.8M97.4,81.7h.8M65.5,86.9h.8M78.7,83.6h.8M85.9,82h.8M82.1,81.7h.8M91,84.6h.8M89.7,85.1h.8M70,80.3h.8M71.7,84.6h.8M73.8,82.5h.8M59.3,82.8h.8M80.9,83.1h.8M76.4,79.8h.8M63.5,91.2h.8M74.2,87.8h.8M78,81.4h.8M74.8,81.6h.8M94.3,82.3h.8M80.6,89.6h.8M54.7,78.5h.8M89.7,88.2h.8M94.2,82.2h.8M99,82.5h.8M87.9,78.8h.8M82.8,86.7h.8M97.5,90.4h.8M88.5,86.8h.8M80,81.4h.8M88.4,75.9h.8M72.6,82.3h.8M85.6,86h.8M65.3,77.9h.8M82.2,85h.8M105.7,80.7h.8M73,78h.8M76,78.1h.8M78.8,89.7h.8M86.8,82.6h.8M66.5,77.3h.8M71.1,81h.8M76.2,74.2h.8M74.5,76.8h.8M64.9,76.2h.8M91.6,85.6h.8M91.1,88.8h.8M99.3,80.9h.8M84.9,89.1h.8M70.1,79.6h.8M68,89.4h.8M73,86.6h.8M62.6,85.3h.8M74.1,82.1h.8M87.2,72h.8M80.9,83.7h.8M77.9,81.1h.8M73.5,84.1h.8M96.9,86.9h.8M82.7,85.1h.8M89.5,82.6h.8M118.5,86.9h.8M74.9,83.3h.8M95.4,80.7h.8M91.3,86.6h.8M75.7,81.4h.8M83.4,80.4h.8M76.8,88h.8M74.9,82.3h.8M95.4,84.3h.8M77.6,78h.8M58.9,84.7h.8M97.8,93.3h.8M86.2,85.5h.8M73,85.3h.8M77.1,79.7h.8M87.8,87.1h.8M77.2,76.5h.8M84.1,78.7h.8M95.2,84h.8M82.7,92h.8M87.7,86.9h.8M85.7,81.2h.8M83.6,75.9h.8M72.2,85.3h.8M94.8,75.4h.8M73.9,75.4h.8M82.8,82.7h.8M64.2,82.3h.8M80.6,76.1h.8M85,79.4h.8M72.5,83.7h.8M74.2,80.9h.8M101.4,84.6h.8M92.7,86.6h.8M74.3,89.2h.8M92.1,91h.8M82.3,86.7h.8M91.5,83.8h.8M75.7,82.5h.8M87,94.2h.8M88.1,83.3h.8M81,82.5h.8M76.5,79.6h.8M102.7,91.1h.8M78.6,85.8h.8M94.8,80.2h.8M79,74.5h.8M74.4,79.6h.8M85.8,82.1h.8M63.2,82.9h.8M76.3,78.4h.8M87.1,81.6h.8M63.7,85.4h.8M73.1,89.3h.8M80.7,86.9h.8M86.3,85.7h.8M95.9,93.6h.8M93.3,83.7h.8M82.7,87.3h.8M59.6,77.2h.8M84.7,79h.8M83.1,81.5h.8M79.2,80.2h.8M84.4,76.8h.8M69.6,80h.8M91.5,82.8h.8M82.9,77.9h.8M66.9,87.2h.8M80.9,82.5h.8M88.9,87.2h.8M81.8,82.9h.8M79.6,81.3h.8M92.3,83h.8M82.5,83.3h.8M79.4,80.8h.8M82.5,85.5h.8M79.7,82.4h.8M75.3,91.6h.8M76.9,90h.8M89.1,81.4h.8M89,88.9h.8M82.5,85h.8M67.6,83.1h.8M82.3,89.7h.8M89.7,78.2h.8M91.5,83h.8M69.1,83.9h.8M89.2,87.5h.8M88.9,80.7h.8M89,84h.8M99.9,85h.8M74.1,87.2h.8M72,87.8h.8M100.4,81.7h.8M82.5,89h.8M96.6,81.6h.8M80.4,84.7h.8M83.4,86h.8M77.5,83.7h.8M92.3,88.6h.8M75.5,79.4h.8M83.1,83.7h.8M91.1,80.7h.8M79.2,92.9h.8M65.1,90.9h.8M65,82.4h.8M73.5,85.7h.8M101.3,88.2h.8M74.6,82.4h.8M86.5,74.8h.8M93.2,80.9h.8M75.8,82.3h.8M85.5,80h.8M74.8,81.5h.8M88.6,83h.8M89.6,81.9h.8M69.1,86.3h.8M83.9,87.5h.8M76.6,78.6h.8M89.1,78.6h.8M93.8,87.3h.8M82,86.1h.8M71.6,88.3h.8M71.8,81h.8M94.7,87.3h.8M90.5,87.9h.8M87.7,84.6h.8M80.9,84.1h.8M76.4,87.5h.8M89.2,74.8h.8M91.6,85.6h.8M106.1,85.4h.8M92.3,87.4h.8M83.6,88.3h.8M107.4,84h.8M59.2,80.8h.8M77.7,80.2h.8M94.8,88.2h.8M82.8,78.3h.8M81.2,80.5h.8M88.2,81.6h.8M102.4,86.8h.8M81.4,79h.8M105.6,81.9h.8M76.1,83.1h.8M73.3,85.8h.8M71.4,82.8h.8M76.6,89h.8M64.5,81.8h.8M85,85.2h.8M91.7,87h.8M80,80.5h.8M71.4,84.7h.8M78.6,82.7h.8M83.8,81.8h.8M69.1,82.4h.8M82,88.1h.8M105.3,78.3h.8M81.1,83.7h.8M76.7,92h.8M72.1,76.5h.8M96,85.4h.8M77.1,92.2h.8M82.7,84.5h.8M104.8,95.2h.8M79.5,83.2h.8M89.5,86.9h.8M88.5,83.3h.8M76.6,80.6h.8M71.8,87.2h.8M104.7,86.1h.8M97.3,78h.8M82.1,85.1h.8M109.5,87.7h.8M78.1,88.1h.8M80.9,88.2h.8M70.6,86.8h.8M84.7,90.8h.8M87.5,79.2h.8M77.7,79.8h.8M78.1,84.9h.8M70.7,87.5h.8M69.5,86.5h.8M73.6,80.6h.8M93.5,85.3h.8M82.3,87.5h.8M84,82.9h.8M98.3,85.3h.8M93.8,85.7h.8M87.8,83.2h.8M91.7,92.3h.8M76.8,83.5h.8M77.1,81h.8M102,89.4h.8M101,81.7h.8M91.7,89.2h.8M99.9,81.4h.8M83.8,87.2h.8M84.4,83.4h.8M81.4,82.1h.8M66,82.8h.8M66.1,75.4h.8M81.4,75.9h.8M69.3,87.5h.8M76.9,92.9h.8M100.2,78.6h.8M82.7,80.9h.8M76.8,87.4h.8M88.4,83.2h.8M83.7,86.4h.8M76.1,76.4h.8M66.5,85.4h.8M89.6,80.3h.8M81.6,87.9h.8M74.6,82.8h.8M66.4,86h.8M81,84.3h.8M73.3,79.9h.8M72,90.1h.8M86.3,84.4h.8M75.4,86.5h.8M88.8,94h.8M92.6,85.9h.8M76.6,78.6h.8M80.3,74.8h.8M80.2,77.6h.8M77.1,86h.8M85.4,78.3h.8M75.2,81.5h.8M74.1,81.6h.8M68.2,86.1h.8M83.1,83.6h.8M87.1,83.3h.8M90.9,80.5h.8M78.9,80.5h.8M76.6,76.6h.8M64.5,81.1h.8M82.7,88.1h.8M88.7,81h.8M85.8,81.6h.8M81.9,77.3h.8M99.4,85.7h.8M80.1,79.1h.8M69.6,84.2h.8M76.7,88.9h.8M86.5,79.7h.8M82.1,89h.8M107.5,83.9h.8M81.1,78.8h.8M88.7,89h.8M73.9,75.5h.8M69.6,85.4h.8M90.5,82.7h.8M90.6,82.4h.8M62.4,83.3h.8M87.4,77.9h.8M88.4,82.5h.8M99.4,79.9h.8M82,87.4h.8M75.1,87.5h.8M78.7,80.3h.8M89.2,86.3h.8M68.9,78.8h.8M86.2,81.1h.8M80.7,84.8h.8M75.2,87.5h.8M68.5,81.7h.8M79.8,81.2h.8M92.6,76.1h.8M88.1,85.7h.8M94,83.7h.8M62.6,81.8h.8M86.7,80.8h.8M75.7,82.5h.8M92.2,85.7h.8M83.3,85.1h.8M101.7,82.5h.8M74,81.5h.8M83.6,84.8h.8M104.4,78.7h.8M70.2,78.2h.8M71.2,80.6h.8M85.4,90h.8M101.1,87h.8M75.5,80.1h.8M93.6,86.9h.8M70.2,88.7h.8M96.2,88.9h.8M86,80.7h.8M92.7,85.8h.8M89.5,74.7h.8M80.7,81.4h.8M78.4,85.7h.8M91.1,88h.8M91.2,83.4h.8M96.1,81h.8M89.3,85.6h.8M81.6,72.4h.8M84.3,79.1h.8M79.1,84.8h.8M79.6,83.6h.8M87.9,74.6h.8M90.1,81.1h.8M84.8,88.3h.8M78.5,75.3h.8M87.9,80.9h.8M67.6,85.6h.8M90.2,76.6h.8M88.9,89.2h.8M74.2,82.6h.8M78.4,81.9h.8M93.8,87.2h.8M93,87.8h.8M81.3,86.3h.8M87.6,81.2h.8M54.8,91.5h.8M92.3,81.2h.8M99.8,84.1h.8M73.9,81.6h.8M56.8,83.3h.8M83.7,83.1h.8M94.5,87.7h.8M77.8,82.3h.8M96.5,88.5h.8M88.7,78.9h.8M82.7,80.7h.8M89.8,88.7h.8M95.1,81.2h.8M84.7,78.4h.8M68.3,79.9h.8M64.7,81.6h.8M61.2,80.3h.8M65.3,81h.8M95.9,79.9h.8M91.2,80.1h.8M69.6,79.4h.8M94.2,87.5h.8M70.1,88.5h.8M86.2,84.9h.8M84.2,87.1h.8M74.5,83.4h.8M79,87.3h.8M73.8,83.1h.8M80,80.7h.8M91.7,87.6h.8M71.2,84h.8M88,88.7h.8M69.1,80h.8M100,86.1h.8M69.1,82.1h.8M66.4,76.3h.8M77.6,72.9h.8M77.5,82.4h.8M78.1,81h.8M83.9,81.3h.8M64.1,84.1h.8M97.9,85.5h.8M73.5,82.2h.8M77,89.6h.8M73.3,86.4h.8M77.7,85.3h.8M94.2,75.3h.8M80.4,85.2h.8M86.9,77h.8M111.4,81.3h.8M94.8,83.4h.8M88.1,93h.8M66.7,84.4h.8M90.7,80.7h.8M92.5,87.9h.8M81.4,83h.8M64,88.5h.8M79.1,85.3h.8M72.2,81.1h.8M94.6,81.3h.8M86.4,81.4h.8M84.8,86h.8M72.6,82.8h.8M73.8,85.3h.8M90.6,84.5h.8M91.2,83.3h.8M97.7,83.9h.8M84.8,80.1h.8M81.8,83.6h.8M88.8,88.7h.8M71.2,85.6h.8M79.5,86.2h.8M75.5,90.7h.8M91.5,79.7h.8M67.4,84.8h.8M74.5,84.4h.8M81.1,82.1h.8M86.3,77.6h.8M79.8,79.8h.8M85,82.9h.8M78.3,80.7h.8M68.7,77.8h.8M82.1,86.5h.8M95.7,82h.8M80.7,80.8h.8M80.9,89.6h.8M84,83.5h.8M86.2,83.1h.8M82.2,93.5h.8M64.9,86.8h.8M92.3,84.3h.8M100.8,77.6h.8M72.6,81.9h.8M75.3,85.4h.8M85.3,91.3h.8M78.1,83h.8M59.3,83.3h.8M104.2,86.7h.8M71.7,85.2h.8M96.9,84.8h.8M77.9,81.6h.8M76.1,87h.8M67.3,86.9h.8M80.9,84.5h.8M84,84.5h.8M97.2,90.9h.8M82.5,77h.8M80.4,76.8h.8M82.6,87.1h.8M73.4,80.9h.8M89.7,89.5h.8M94.7,79.8h.8M82.5,72.1h.8M86.4,82.3h.8M83.7,79h.8M76.3,91.8h.8M99.6,82.4h.8M71.8,83.9h.8M90.5,90.1h.8M91.8,85.5h.8M70.9,86.6h.8M90.6,79.1h.8M65,86.4h.8M92,86.2h.8M64.4,83.2h.8M95.6,82h.8M83.9,86.8h.8M61.6,78.5h.8M67.5,81.2h.8M72.3,82.5h.8M74.1,82.8h.8M74,87.6h.8M76.2,83.5h.8M81.7,85.8h.8M68.6,88.2h.8M77.6,80.8h.8M80.7,80.2h.8M98.3,73.4h.8M96.6,77.3h.8M115.1,90.8h.8M109.5,87.2h.8M93.2,87.6h.8M98.6,92.9h.8M79.9,91.6h.8M80.4,78.2h.8M101.4,89.6h.8M100.5,86h.8M97.1,88.3h.8M121.8,87.2h.8M107.3,80.9h.8M98.7,89.3h.8M88.7,77.8h.8M91.6,83.1h.8M95.6,86.3h.8M87.6,82.6h.8M84.3,83h.8M106.8,77.2h.8M96.2,84.9h.8M80.1,73.2h.8M86.6,79.9h.8M88.9,81.6h.8M96.8,85.2h.8M92.8,83.5h.8M87.7,88.5h.8M98.5,85.6h.8M69.5,84.3h.8M109.4,81.2h.8M105.1,83.2h.8M105.7,84.4h.8M87.3,82.6h.8M91.3,83.6h.8M96.5,79.1h.8M91.3,78.3h.8M93,83.9h.8M101,86.8h.8M88.2,86.6h.8M98.1,79.2h.8M86.3,83.1h.8M104.4,86.8h.8M100.5,80h.8M78.4,81.3h.8M87.9,85.5h.8M94.7,88.3h.8M88.9,86.9h.8M89.1,85.9h.8M119.1,92.6h.8M109,88.5h.8M91.4,84.1h.8M96.2,86.1h.8M92.1,76.8h.8M91.8,88.2h.8M81.9,77h.8M110.9,87.8h.8M101,85.1h.8M110,91.7h.8M95.8,81.2h.8M121.1,84.3h.8M111.6,89.2h.8M111.4,88.6h.8M80,76.7h.8M115.2,90.7h.8M91.6,81h.8M67.5,83.5h.8M106.7,81.7h.8M101.8,81.1h.8M90.4,80.4h.8M90.9,76.1h.8M96,80.2h.8M91.9,89.8h.8M97.3,78.4h.8M91.9,88.4h.8M102.5,87.5h.8M133.3,86.3h.8M88.5,82.5h.8M99.7,92.7h.8M102,82.4h.8M105.4,86.9h.8M102,82.8h.8M98.5,90.6h.8M101.4,74.5h.8M95.8,80.8h.8M82.8,78.5h.8M101.2,86.2h.8M97.7,80.8h.8M98,91.1h.8M97.4,89.6h.8M85.5,81.7h.8M100.4,78.3h.8M96.2,86.6h.8M108.7,79.6h.8M93.2,80.2h.8M80.9,89.1h.8M90,92.4h.8M100.4,94.1h.8M86.3,81.2h.8M102.7,84.5h.8M96,80.5h.8M98.2,80.5h.8M103.6,80.9h.8M93.2,91.8h.8M103.5,89.1h.8M112.2,86h.8M97.2,78.5h.8M87.3,82.7h.8M93.4,86.5h.8M107.5,84.1h.8M108,81.7h.8M88.8,81.2h.8M100.5,81.3h.8M107.8,80.9h.8M102.5,81.6h.8M101.5,78h.8M85.8,85.1h.8M99.1,79.7h.8M83.8,87.4h.8M112.1,91h.8M101,90.3h.8M95.9,83.1h.8M95.1,85.7h.8M98.2,91.1h.8M91.7,82.1h.8M99,81.1h.8M100.9,86h.8M86.5,79.8h.8M100.3,86.4h.8M81.8,76.9h.8M92,87.6h.8M100.1,77.8h.8M96.2,84.6h.8M92.6,88.7h.8M81.9,85.9h.8M112.2,82.2h.8M80.6,82.2h.8M104.1,87.6h.8M86,85.9h.8M81.4,76.7h.8M97.1,82.1h.8M101.2,83.1h.8M98.4,88.9h.8M105.5,81h.8M93.5,83.6h.8M92.8,87.2h.8M94.4,84.4h.8M90.2,83.6h.8M93,83.2h.8M86.7,88.5h.8M91,88.1h.8M93.1,80.3h.8M97.1,81.3h.8M80.5,85.3h.8M99.8,82.7h.8M107.5,84.5h.8M98.4,90.9h.8M77.2,84.3h.8M102.3,88.4h.8M100.9,90.8h.8M115.4,85.7h.8M86.8,86.7h.8M101.5,88.8h.8M102.2,91h.8M83.3,84.2h.8M88.3,74.5h.8M91.6,82.5h.8M97.4,83.5h.8M102.5,83.9h.8M101.3,82.4h.8M86.7,86.3h.8M88.8,85.5h.8M91.8,88.8h.8M110.3,84.7h.8M82.5,85.3h.8M78.9,85.5h.8M102.7,88.7h.8M86,79.6h.8M96.5,80.9h.8M83.1,87.4h.8M104.2,87.7h.8M111,82.9h.8M86.7,84.7h.8M76,83.7h.8M94,83.2h.8M101.1,84.9h.8M110.5,85.8h.8M106.5,80h.8M89.8,88.8h.8M102.3,80.6h.8M83.1,78.6h.8M99.4,84.5h.8M100.6,81.8h.8M107.8,84.9h.8M104.1,80.8h.8M101.2,87.9h.8M104.5,83h.8M94.8,82.5h.8M105.8,82.3h.8M95.7,80h.8M104.8,80.8h.8M77.3,88.8h.8M100.7,89.4h.8M103,79.8h.8M69.1,85.5h.8M102.8,86.3h.8M98.6,88.6h.8M103.9,80.7h.8M99.5,88.5h.8M91.9,85.4h.8M92,85.4h.8M80.1,82.2h.8M84.9,95h.8M104.2,80.2h.8M92,77.8h.8M88.9,85.4h.8M92.9,83.7h.8M85.4,83.4h.8M116.3,85.3h.8M90.5,76.9h.8M103.2,79.5h.8M92.8,84.5h.8M87.8,88.5h.8M82.6,82.1h.8M108.3,83.4h.8M99.3,91.2h.8M99.8,82.9h.8M101.8,72.9h.8M95.1,84h.8M90,83.6h.8M94.7,81.8h.8M91,89.3h.8M100.5,86.7h.8M73.9,73.2h.8M97.7,79.7h.8M85.6,78.6h.8M105.9,86.8h.8M100,86.4h.8M92.1,82.2h.8M107.8,84.5h.8M71,76.2h.8M93.8,83h.8M108,81.8h.8M91.2,77.4h.8M84.5,83.5h.8M97.4,81h.8M97.3,85.4h.8M103.5,83.7h.8M101.6,83.4h.8M87.8,83.9h.8M98.9,81.9h.8M98.5,88.2h.8M82,81.1h.8M94.5,86.8h.8M103.2,84.4h.8M106.7,79.9h.8M101.5,83h.8M104.9,80.2h.8M108.9,85.4h.8M78.6,78.9h.8M91.3,80.3h.8M102.6,78.9h.8M106.3,85.6h.8M101.8,81.2h.8M102.1,80.6h.8M90.2,75.4h.8M80.9,89.3h.8M86.2,86.8h.8M103.4,89.2h.8M106.7,87.5h.8M101.2,88.7h.8M93.3,82.4h.8M94.4,84.2h.8M98.3,86.4h.8M79.2,86.6h.8M87.5,84.2h.8M96.4,82.2h.8M92.6,71.2h.8M92.9,84h.8M106.2,81.1h.8M103.5,79.8h.8M112.2,78h.8M91.8,80.9h.8M94.4,85.2h.8M88.6,84.2h.8M111.3,79.7h.8M90.6,80.1h.8M83.3,86.2h.8M92.9,81.6h.8M98.5,83.5h.8M100.3,89.7h.8M94.3,88h.8M95.7,79.8h.8M108.3,74.9h.8M103.8,82.9h.8M90.2,84.8h.8M82.2,89.2h.8M80.3,87.2h.8M106.9,86.6h.8M106.2,84.2h.8M97.2,83.2h.8M104.5,83h.8M75,78.8h.8M111.1,84h.8M85.1,94.1h.8M100.1,85.3h.8M85.2,84.2h.8M85.9,76.4h.8M90,74.5h.8M100.5,86h.8M102.1,84.7h.8M98.5,86.7h.8M82.3,86h.8M95.7,83.6h.8M91.5,85.3h.8M100.1,84.2h.8M109.8,86.4h.8M85.3,88.8h.8M114.3,80.1h.8M96.5,88.6h.8M88.7,84.4h.8M98.8,84.2h.8M87.2,91h.8M95.8,84.8h.8M94.2,89.8h.8M99.5,83.8h.8M103.3,82.7h.8M109,92.3h.8M102.5,87.7h.8M98.4,87.2h.8M110,80.4h.8M97.9,87.5h.8M75.5,84.8h.8M81.4,79.1h.8M88.5,75.3h.8M103.5,82.6h.8M100.9,88h.8M79.9,79.9h.8M103.6,72h.8M95.3,79.2h.8M91.6,77.6h.8M96.9,79.1h.8M95.3,83h.8M86.5,86.8h.8M71.6,78.1h.8M90,86.2h.8M86.6,82.3h.8M100.7,81.7h.8M108.2,89.8h.8M80.9,79.1h.8M88.2,85.1h.8M98,80.4h.8M101,80.7h.8M98.1,81.8h.8M75.7,80.2h.8M107.1,78.2h.8M94.5,80h.8M85.7,78.6h.8M109.9,86.2h.8M107.2,86h.8M91.4,94.5h.8M100,83.3h.8M92.4,84.4h.8M93.7,92.6h.8M87.7,83.3h.8M98.4,84.7h.8M83.5,91.6h.8M82.6,83.2h.8M88.4,84.3h.8M90,88.1h.8M100.6,89.8h.8M91.9,84.5h.8M96.8,87.4h.8M99.7,77.3h.8M78.9,78.3h.8M101.8,86.1h.8M109.9,79.8h.8M114.8,82h.8M90.3,87.8h.8M92,81.6h.8M100.6,90.2h.8M119,85.8h.8M102.9,94.7h.8M89.9,84.4h.8M104.1,77.4h.8M82.4,77.2h.8M102.6,87.3h.8M99.8,82.6h.8M88.5,86.7h.8M121.4,84.4h.8M88.4,87.7h.8M101.5,80h.8M101.9,84.1h.8M92.4,93h.8M91.7,85.5h.8M90.4,83.2h.8M83.4,86.4h.8M98.4,82.8h.8M106.9,78.4h.8M106.5,80.7h.8M88,76.7h.8M82.7,82.3h.8M104.7,84h.8M79,72.7h.8M97.1,82.7h.8M98.3,86.7h.8M92.2,77.8h.8M111.7,93.3h.8M83,82.2h.8M93.6,88.6h.8M97,79h.8M89.1,81.4h.8M99.7,85.3h.8M95.4,83.6h.8M99.9,81h.8M83.6,74.6h.8M94.9,89.1h.8M88.4,82.8h.8M83.7,88.7h.8M96.8,86.7h.8M66.5,81.4h.8M97.7,85.1h.8M111.1,85.3h.8M91,77.2h.8M101.8,89.1h.8M81,85.1h.8M91.1,84.5h.8M97.1,87.9h.8M103.3,82.9h.8M73.1,79.9h.8M83.4,82.6h.8M81.4,112.4h.8M78.6,94.9h.8M73.3,97.8h.8M75.6,92.3h.8M67.3,99.9h.8M74,100.2h.8M71.9,95.9h.8M101.3,102.4h.8M63.3,103.5h.8M80.2,89.4h.8M61.7,109.8h.8M70.9,94.8h.8M81.2,92.6h.8M72.4,106.1h.8M59.8,95h.8M80.1,86.8h.8M64.1,107.2h.8M78.1,91.2h.8M64.7,98.4h.8M78.8,105.9h.8M63.4,92.2h.8M67.5,99.7h.8M59,101.9h.8M69.7,89.3h.8M67.2,97.8h.8M76,99.8h.8M76.3,96.4h.8M63.8,102.2h.8M83.6,99.7h.8M54.6,98.7h.8M62.2,104.1h.8M59.8,84.7h.8M61.1,94h.8M68.7,95.3h.8M87,102.2h.8M88.6,92.6h.8M66.7,100.4h.8M58.5,98.5h.8M66.7,96.5h.8M63.5,117.6h.8M78.8,102.4h.8M72.5,105.5h.8M63.6,93.6h.8M73,89.5h.8M71.5,85.6h.8M63.1,97.8h.8M69,87.2h.8M75.8,97.2h.8M77.9,101h.8M69.8,105.7h.8M54.7,101.8h.8M78.6,97.1h.8M54.8,98.8h.8M71.6,90.2h.8M62.5,96.3h.8M63.4,99h.8M87,95.8h.8M62,93.9h.8M60.2,97.4h.8M80.6,97.3h.8M60.6,94.9h.8M65.2,93.1h.8M70.4,83.4h.8M77,102.9h.8M89.4,82.7h.8M72.3,86.7h.8M76.6,103.1h.8M77,104.4h.8M62.1,89.9h.8M73.4,108h.8M65.4,102.1h.8M53,97.5h.8M52.9,105.3h.8M97.1,101.5h.8M59.8,96.6h.8M72.8,99.5h.8M63.1,97.4h.8M93,102.8h.8M66.8,106h.8M85.8,103.4h.8M54.3,91h.8M68,100.3h.8M71.3,97.5h.8M63.9,87.9h.8M59.3,97.8h.8M77.3,99.9h.8M66.1,98.9h.8M73.1,97.8h.8M58.1,102.7h.8M54.5,100.7h.8M85.7,102.5h.8M91.1,102.3h.8M65.8,98.2h.8M59.4,96.5h.8M68.9,105.4h.8M83.1,113.6h.8M55.4,96.2h.8M85.4,103.2h.8M67.2,104.5h.8M56.6,96.1h.8M84.7,99.6h.8M79.2,96.9h.8M57.9,83.1h.8M72.9,96h.8M78.2,104.6h.8M56.8,82.3h.8M74.3,102h.8M61.9,99h.8M76.1,89.8h.8M61.9,94.8h.8M62.7,100.3h.8M75,88.3h.8M59.6,93.6h.8M69.4,112.2h.8M89.5,92.3h.8M61.5,96.4h.8M73.5,101h.8M74.3,89.1h.8M63.7,101.1h.8M69.3,83.6h.8M76.7,93.4h.8M70.8,89.8h.8M99.8,95.6h.8M61.2,101.5h.8M73.3,95.1h.8M75.8,94.7h.8M62.3,96.4h.8M66.2,90.3h.8M83.3,100.6h.8M54.8,94.3h.8M60.1,95.9h.8M62.9,98.6h.8M78.5,105h.8M54.9,94.6h.8M56.6,98.3h.8M55.9,95.4h.8M60.6,99.7h.8M75.6,96.7h.8M75.6,96.6h.8M74.4,91h.8M84.5,97.1h.8M71.8,109.9h.8M88.6,93.6h.8M70.2,96.8h.8M66.7,96.8h.8M52.9,93.6h.8M81.8,97.8h.8M55.9,100.8h.8M70.5,104.7h.8M55.6,106.8h.8M55.1,88.6h.8M82.6,105.4h.8M59.7,96.1h.8M82.2,108.5h.8M60.7,91.3h.8M73.2,105.8h.8M82.5,98.4h.8M70.7,101.9h.8M55.5,88h.8M54.6,91.9h.8M60.7,97.7h.8M79.3,96.4h.8M99.9,108h.8M71.1,110.7h.8M58.9,89.7h.8M69.2,99.9h.8M84.7,89h.8M61.6,94h.8M61.9,100.3h.8M69.6,108.3h.8M71.5,87.5h.8M96.1,98.9h.8M54.5,92.8h.8M64.1,103.4h.8M76.9,96.3h.8M75.5,89.9h.8M91,107.6h.8M74.6,96.2h.8M66.7,103.1h.8M82.8,101.3h.8M62.6,106.1h.8M68.9,95.6h.8M61.3,105.1h.8M72.5,98.7h.8M92.4,98.4h.8M61.5,100.4h.8M68.1,103.9h.8M74.1,79.1h.8M65.2,95.9h.8M78.4,99.7h.8M59.4,93.2h.8M80.9,88.5h.8M57.4,96h.8M68.9,95.4h.8M76.5,95.2h.8M58.1,110.3h.8M103.3,106.7h.8M56.4,86.2h.8M65.4,102.3h.8M78.2,87.8h.8M59.9,103.4h.8M66.2,107.3h.8M60.9,100.6h.8M65.1,89.8h.8M65.2,105.5h.8M65.6,101.2h.8M80,96h.8M62.7,107h.8M78.7,90.5h.8M58.5,98.5h.8M61.2,100.1h.8M69.6,95.7h.8M72,99.8h.8M89.6,104.5h.8M67.7,97.7h.8M92.2,100.1h.8M78.3,99.8h.8M79.2,88.8h.8M69.9,108.5h.8M59,101.4h.8M91.2,102.6h.8M67,105.5h.8M96.5,102.5h.8M70.4,88.1h.8M62.5,80.5h.8M78.1,104.4h.8M54.5,76.4h.8M80.9,99.8h.8M71.2,93.1h.8M62.3,99.5h.8M61.4,97.9h.8M69.7,93.3h.8M56.5,103.5h.8M58.9,96.8h.8M83.6,89.7h.8M70.8,86.6h.8M66.3,95h.8M57.6,96.5h.8M62.1,97.3h.8M78.6,105.4h.8M67.9,99.4h.8M69.1,89.1h.8M68.1,108.8h.8M54.3,97.7h.8M81.9,99h.8M55.3,94.1h.8M66.5,104.9h.8M80.6,104.2h.8M81.7,94.8h.8M70.7,99.2h.8M75.4,97.9h.8M58.2,91.7h.8M95,105.3h.8M77.9,92.6h.8M73.4,101.8h.8M63.2,102.3h.8M79.2,97.7h.8M65.6,103.4h.8M56.7,90.2h.8M54.5,102.5h.8M55.3,96.3h.8M63.7,96.7h.8M73.2,96.1h.8M69.9,95h.8M78.4,99.5h.8M84.6,100.3h.8M61,86.6h.8M72.6,93.8h.8M53.9,112h.8M82.5,93.5h.8M71.9,101.7h.8M58.7,92.7h.8M70.4,100.2h.8M67.1,92.5h.8M73.8,91.1h.8M100.3,102.2h.8M76.7,97.6h.8M87.4,108.4h.8M72.9,90.5h.8M68.5,100.5h.8M79.9,96h.8M56.7,96.9h.8M71.8,102.8h.8M66.6,93.6h.8M64,91.6h.8M73.9,95.9h.8M72,93.3h.8M60.2,91.1h.8M77.3,96.7h.8M59.6,85.6h.8M57.3,94.5h.8M64.6,97.8h.8M60.5,95.8h.8M75.3,87.5h.8M60.7,83.3h.8M65.3,97.4h.8M80.9,94.9h.8M68.9,103.1h.8M95.7,98h.8M66,94.4h.8M89.1,97.4h.8M65.4,101.7h.8M71,91.7h.8M65.2,101.2h.8M53.5,92.9h.8M74.6,98.6h.8M57.6,99.3h.8M57.1,93.4h.8M57.3,98.9h.8M81.4,100.1h.8M77.2,85.3h.8M65.8,97.1h.8M58.6,98.8h.8M68.6,98.6h.8M56.2,93h.8M62.9,87.5h.8M66.5,96.3h.8M79.7,88.5h.8M92.3,94.8h.8M79.3,95.2h.8M62.1,105.4h.8M80.3,94.3h.8M71,98.1h.8M74.7,104.1h.8M60.1,93h.8M74.3,98.8h.8M58.5,102h.8M85.2,102.7h.8M73,90.3h.8M64.2,86.9h.8M90.5,99.7h.8M86,108.8h.8M79.4,89.3h.8M83.3,106.7h.8M66.7,95.2h.8M75,105.6h.8M73,93.9h.8M82.4,98.9h.8M53.5,82.3h.8M75.5,88.9h.8M79.5,87.1h.8M97.5,107.3h.8M88.6,97.6h.8M74.1,92.7h.8M58,92.1h.8M64.4,106.3h.8M77.5,104.5h.8M54.5,99h.8M69.8,103.4h.8M75.3,105.3h.8M79.5,100.9h.8M74.4,94.4h.8M58.9,94.7h.8M69.9,97.4h.8M63.4,96.3h.8M96.9,106.9h.8M60.6,91.2h.8M54.9,92.4h.8M69.6,95.7h.8M79.1,95.3h.8M61,110h.8M82.6,96.8h.8M56.5,101h.8M75.6,99.1h.8M57.5,99.1h.8M68.3,89.9h.8M86.7,98.4h.8M80.1,103.8h.8M60.2,90h.8M71.8,94.3h.8M95.6,98.2h.8M67.4,108.3h.8M59.5,100.3h.8M58.3,100.7h.8M75.9,82.9h.8M59.2,93.7h.8M73.9,104.1h.8M83.1,92h.8M74.9,103h.8M81.2,103.1h.8M74.1,102.2h.8M70.7,101.9h.8M70.2,107.1h.8M67.8,87.8h.8M58.9,95.5h.8M63.5,91.8h.8M95.1,108.3h.8M56.5,96.4h.8M63.4,89.1h.8M68.1,106.1h.8M60.4,98.2h.8M57.9,103.1h.8M63.8,89.5h.8M64.8,99.6h.8M56.1,98.4h.8M54.6,88.6h.8M59.7,91.9h.8M63.6,84.2h.8M89.1,98.5h.8M90.8,93h.8M56.3,96.8h.8M67.3,97.3h.8M80.6,98.1h.8M53.1,99.4h.8M83.1,104h.8M52.9,92.7h.8M79.1,99.5h.8M80.5,98.1h.8M76,90.7h.8M78.8,110.5h.8M58.1,89.9h.8M92.5,91.9h.8M82.4,97.6h.8M76.3,86h.8M56.4,93.6h.8M94,94.9h.8M54.8,107.4h.8M72,97.6h.8M77.2,92.6h.8M72.1,93.5h.8M60,94.7h.8M61.8,105.8h.8M56.8,94.4h.8M58.1,87.1h.8M63.6,96.8h.8M76.6,98.5h.8M68.3,99.1h.8M60,92h.8M61.4,103.6h.8M67.2,100.3h.8M61.9,97.6h.8M54.6,98.5h.8M81.9,90.9h.8M70.9,101.4h.8M81.5,97.3h.8M70.4,89.6h.8M61.3,108.6h.8M70.2,97.2h.8M73.4,97h.8M93.6,116.7h.8M63.5,91.7h.8M84,102.9h.8M72.5,99.9h.8M69.9,105.1h.8M77.5,106.2h.8M84.4,94.7h.8M73,102.9h.8M54.7,88.3h.8M71.1,92.8h.8M60.2,105.8h.8M62.8,106.2h.8M62,94.7h.8M69,97h.8M67.4,91.6h.8M59.3,103.6h.8M55.8,92.7h.8M89.1,97.8h.8M71.2,100.1h.8M54.3,88h.8M54.6,85.8h.8M76.6,94.9h.8M66.4,95h.8M74.7,95.9h.8M74.5,93.1h.8M66.3,107.3h.8M64.2,95h.8M54.1,100.4h.8M87.6,100.4h.8M69.5,99.3h.8M71.2,100h.8M53.8,86.1h.8M56.2,93.8h.8M66,100h.8M63,99.8h.8M64.6,90.4h.8M62.4,110.3h.8M84.6,111h.8M69.8,97.1h.8M63.7,85.4h.8M65.6,93.7h.8M71.5,104.2h.8M68.6,96.1h.8M59.6,90.9h.8M55.4,104.2h.8M54.6,101.3h.8M68.3,98.5h.8M75.3,91.6h.8M65.2,102.1h.8M79.6,97.2h.8M62.3,90h.8M66.4,101.5h.8M68.9,101.8h.8M71.6,104.7h.8M88.8,103.8h.8M80.4,106.2h.8M60.6,92.3h.8M87.2,109.8h.8M61.9,96.9h.8M63.6,91h.8M67.3,87h.8M55.4,87.5h.8M89.6,96.3h.8M98.6,102.8h.8M71.5,102.4h.8M84.2,98.1h.8M79.3,92.3h.8M58.6,97.2h.8M87.8,97.4h.8M60.5,104.7h.8M56.9,98.2h.8M56.6,107.3h.8M65.7,109.6h.8M91,102.8h.8M80,104.2h.8M70.2,106.1h.8M65.8,106h.8M85.3,98.1h.8M77.8,106.9h.8M61.5,102.9h.8M65.8,104.6h.8M69.5,96.6h.8M89.2,94h.8M59.2,78.3h.8M74.2,99.6h.8M84.2,95.6h.8M54.8,90.2h.8M73.1,100.9h.8M75.7,102.3h.8M69.8,105.1h.8M72,98.1h.8M73.7,102.7h.8M70.9,104.9h.8M53.6,90.7h.8M74.8,110.5h.8M83.2,96.4h.8M80.5,91.7h.8M70.8,102h.8M72.7,96.1h.8M79.2,101.5h.8M62.6,90.4h.8M61.8,108.1h.8M99.9,101.8h.8M53.9,102.4h.8M78.6,95.1h.8M70.3,103.6h.8M78.8,91.9h.8M59.6,103.3h.8M71.2,100.8h.8M53.7,108h.8M53.1,96.1h.8M64.8,98h.8M72.3,88.7h.8M65.6,98.8h.8M66,100.5h.8M61.8,95.6h.8M63.5,93.6h.8M75.1,100.5h.8M59.2,94.5h.8M84.1,100.6h.8M61.2,96.9h.8M74.5,102.6h.8M56.6,96h.8M67.3,102.3h.8M75.9,87.1h.8M93.2,99.6h.8M73.8,96.1h.8M77.3,98.6h.8M85.9,97.4h.8M59.6,96.9h.8M67,93.2h.8M70.3,87.5h.8M77.1,96.7h.8M83.4,110.5h.8M62.2,95.5h.8M72.1,93.6h.8M86.3,92h.8M65.5,97.8h.8M66.2,104.3h.8M73,91.5h.8M93.7,86.5h.8M66.8,94.9h.8M57,91.5h.8M68.1,102.9h.8M73.5,101.5h.8M84.3,102.4h.8M53,95h.8M57.4,99.7h.8M60.2,100.4h.8M56.2,94.1h.8M74.9,92.1h.8M59.2,94.2h.8M60.1,99.2h.8M64.5,87.2h.8M67.7,96.2h.8M85.1,95.1h.8M58.8,90.8h.8M61.5,103.1h.8M75.9,97.5h.8M62.3,93.7h.8M82.5,96.1h.8M80.5,91.9h.8M74.7,104.8h.8M61.9,107.4h.8M67.2,82.9h.8M60.8,98h.8M74.6,98.6h.8M53.4,84.1h.8M74.3,101h.8M67.5,95.6h.8M78.4,100.9h.8M56.5,97.3h.8M89.6,113.9h.8M80,114.4h.8M54.2,98.7h.8M94.4,97.3h.8M81.9,106.6h.8M68,98.4h.8M76.7,96.6h.8M62.8,96.5h.8M82,100.2h.8M73.3,99.2h.8M83.5,100.7h.8M63.3,96.9h.8M65.9,86.2h.8M74.6,86.1h.8M96.1,104.7h.8M67.9,103.3h.8M64.5,95.5h.8M70.2,101.5h.8M82.1,106.4h.8M67.1,111h.8M66,94.3h.8M79.1,101.3h.8M53.3,95.9h.8M66.5,99h.8M85.4,107.7h.8M79.7,94.6h.8M81.7,92.6h.8M80.3,102.8h.8M72.1,95.6h.8M69.9,111.4h.8M92.2,102.8h.8M71.1,93.9h.8M76.6,89.3h.8M68.2,97h.8M75.9,100.5h.8M76.2,100.4h.8M62.1,101h.8M87.8,93.7h.8M57.2,101.3h.8M65,98.9h.8M53,103.1h.8M54,94h.8M81.8,91h.8M82.8,112.7h.8M66.2,98.2h.8M57.5,102.4h.8M52.9,92h.8M61,89.8h.8M71.3,101.9h.8M67.2,94.2h.8M84.7,104.7h.8M83.6,106.2h.8M77.6,108h.8M81.7,104.4h.8M76.5,103.6h.8M86.6,99.5h.8M85.9,109.7h.8M82.7,97.2h.8M94.1,106.5h.8M79.8,108.7h.8M86.8,100.9h.8M85.2,98.8h.8M76.7,93.2h.8M75.8,95.6h.8M86.1,110.7h.8M74.3,94.6h.8M80.4,101.3h.8M69.1,97.9h.8M71.5,95.8h.8M80.7,110h.8M73.1,96.4h.8M71.8,108.9h.8M78.3,109.3h.8M73.1,103.3h.8M73.2,99h.8M77.1,104.5h.8M72.4,100.9h.8M73.5,107h.8M82.1,105.5h.8M80.3,97.9h.8M72.9,99.3h.8M78.9,103.9h.8M72.6,99.5h.8M85.9,110.3h.8M69.7,96h.8M82.7,102h.8M80.6,93.7h.8M79.1,108.8h.8M78.2,97.8h.8M84.8,100.5h.8M81.1,105.4h.8M77.7,97.8h.8M76.8,93.3h.8M74.8,90.2h.8M84.4,108.9h.8M73.5,107.4h.8M71.9,94h.8M79.5,98.9h.8M68.5,92.4h.8M79.8,104.4h.8M84.7,110.4h.8M84.4,105.7h.8M81.4,94.1h.8M80.1,103.7h.8M83.1,98.8h.8M78.2,102.5h.8M78.1,102.4h.8M76.1,92.7h.8M84.6,115.7h.8M65.6,92.4h.8M80.4,107.6h.8M82.7,102.2h.8M83.5,104.8h.8M79.8,103.9h.8M80.9,107h.8M77.1,114.5h.8M89.2,110.9h.8M86.2,92.4h.8M71.2,103.4h.8M80.7,108.5h.8M84.8,109.6h.8M82.9,105.6h.8M79.1,107.7h.8M77.3,101.6h.8M71.8,106.8h.8M83.1,107.9h.8M80.3,100.1h.8M84.4,97.4h.8M80.4,104.7h.8M73.3,97.5h.8M74.6,102.3h.8M79.6,104.7h.8M72,104.9h.8M80.1,104.6h.8M86.8,109.7h.8M88.3,103.7h.8M88.6,108.1h.8M71.9,116h.8M79.2,101.7h.8M83.1,100.9h.8M68.9,106.5h.8M80.2,101h.8M83,99.1h.8M74.5,98.7h.8M75.1,99.1h.8M75.3,101.7h.8M71.2,104.1h.8M77.9,103.2h.8M82.1,96.8h.8M86,104.6h.8M62,100.2h.8M67.6,104h.8M76.1,102.6h.8M75.5,92.5h.8M75.4,100.6h.8M71.8,103.3h.8M76.8,103.8h.8M87.3,98.1h.8M75.5,98.9h.8M80.7,111.6h.8M80.1,99.3h.8M86.4,102.8h.8M76.8,96.9h.8M77.9,103.2h.8M83.4,104.3h.8M82.3,109h.8M82.6,102.9h.8M91,104h.8M82.7,101.9h.8M84.3,109.2h.8M68,103.4h.8M78.1,95.7h.8M81.8,93.4h.8M80.4,106.3h.8M82.7,101.7h.8M84.1,103.8h.8M84.6,107.1h.8M73.9,111.5h.8M85.3,110.3h.8M78.1,100.9h.8M74.8,93.3h.8M78.3,95.5h.8M77.6,103.8h.8M77.8,103.2h.8M88.8,109h.8M84,102.8h.8M75.8,103.1h.8M80.6,99.3h.8M82.4,99.5h.8M74.7,99.1h.8M86.3,112.3h.8M76.1,104.5h.8M65.9,103.4h.8M86.8,90.5h.8M78.6,103.8h.8M77.5,100.2h.8M85,110.4h.8M74.6,109.3h.8M77.5,108.4h.8M76.6,102.1h.8M79.4,98h.8M87.2,105.2h.8M78.6,113.7h.8M67,98.6h.8M68,99.8h.8M82.3,109.2h.8M84.6,104h.8M74.2,93.4h.8M78.8,110.4h.8M88.5,104h.8M76.9,98.5h.8M70.1,94h.8M76.2,107.5h.8M92.3,115.8h.8M74.9,106.7h.8M78.2,100.6h.8M81.5,106.7h.8M84.4,102h.8M79.4,100.9h.8M78.3,104.5h.8M84.7,102.4h.8M72.5,108.3h.8M73,97h.8M74,104.5h.8M77.4,96.2h.8M74.7,93h.8M77.1,109h.8M77.4,98.9h.8M78.9,101.8h.8M81.5,103.4h.8M75.4,103.7h.8M80.2,105.8h.8M71.6,98.9h.8M88.2,106.2h.8M63.1,104.7h.8M68.3,92.7h.8M80.5,105.2h.8M76.6,104.5h.8M75.5,102h.8M80.7,100.3h.8M74.9,109.4h.8M79.8,105.5h.8M83.2,103.5h.8M78,101.5h.8M77.6,104.2h.8M81.1,95.3h.8M76.1,92.5h.8M77.8,96.4h.8M71.3,99.9h.8M82.1,98.2h.8M72.9,101.7h.8M85.2,97h.8M66.9,108h.8M76.6,104h.8M84.2,103.8h.8M68.1,83.7h.8M78,108.4h.8M78.8,109.2h.8M78.5,115.8h.8M68.4,96.6h.8M70.9,96.1h.8M92.9,101.7h.8M89.1,111.1h.8M79.3,97h.8M77.6,99.8h.8M86.3,97.8h.8M78.8,114.2h.8M75.8,102.1h.8M76.4,97.9h.8M84.8,103.1h.8M69.7,98.5h.8M86.5,93.9h.8M75.8,105.2h.8M78.6,102.1h.8M74.3,97.3h.8M70.2,92.7h.8M76.3,98.4h.8M85.2,100.4h.8M79,104h.8M81.2,116.3h.8M79.6,106.3h.8M75.6,97.6h.8M73.2,92.6h.8M86.2,99.5h.8M82.9,100.2h.8M73.9,96.1h.8M80.7,107.1h.8M80.8,112.3h.8M79.6,94.8h.8M78.7,109h.8M82.2,102.8h.8M80.4,105.4h.8M76,90.4h.8M81.2,101.5h.8M81.3,100.4h.8M75.4,99.9h.8M91.4,101.8h.8M77.8,95.3h.8M72.7,101.8h.8M83.6,98.7h.8M79.5,101.6h.8M79,108.7h.8M76.7,111.6h.8M79.9,103.5h.8M75.9,104h.8M71.5,106h.8M75.3,95.7h.8M72,99.9h.8M82.3,104.2h.8M82.7,105.9h.8M77.9,109.5h.8M73.6,110.5h.8M87,102.2h.8M76,99.1h.8M65.2,86h.8M74.2,101.3h.8M79,100.4h.8M81.6,102.6h.8M82.1,95.2h.8M77.3,100.9h.8M84.4,111h.8M76.4,107.7h.8M74.5,100.3h.8M81.4,103.2h.8M77.6,92.5h.8M83.7,108.8h.8M84.9,95.2h.8M85.7,97.8h.8M82.2,96.7h.8M77.6,105.6h.8M79.3,99.8h.8M73.9,102.4h.8M80.7,112.1h.8M81.6,105.5h.8M81.3,95.6h.8M76.5,101.9h.8M80.1,98.7h.8M84.2,100.3h.8M81.2,95.3h.8M79.5,104.8h.8M77,99.5h.8M76.9,101.5h.8M75.7,96.1h.8M90.9,112.5h.8M80.4,95.3h.8M80.2,98h.8M80.1,92h.8M83.3,107.8h.8M74.2,106.5h.8M81.6,100.2h.8M78.6,103h.8M82.2,105.7h.8M79.1,98.3h.8M81.1,108.3h.8M83.3,106.7h.8M78.8,99.8h.8M71.7,93h.8M70.7,101.6h.8M72,104.6h.8M77.5,98.6h.8M68.4,104.3h.8M76.7,102.8h.8M78.8,102h.8M81.1,102.4h.8M77,101.8h.8M64.7,99.3h.8M72.6,109.8h.8M74.5,103.6h.8M80.4,103.9h.8M75.5,110.7h.8M68.7,97.1h.8M73,100.1h.8M70.8,105.8h.8M79.4,105.1h.8M69.4,90.2h.8M81.1,104h.8M70.6,99.1h.8M81.4,107.3h.8M83.1,107.4h.8M77.4,104h.8M67.8,90.4h.8M77.6,97.1h.8M73.7,103.8h.8M74.9,100h.8M77.6,109.4h.8M78.6,108.6h.8M74.1,99.5h.8M85.8,104.3h.8M75.1,102.3h.8M93.2,103.6h.8M82.9,99.6h.8M83,114.7h.8M76.9,96.4h.8M86.9,105.6h.8M79.1,98.6h.8M82,96.2h.8M76.5,106.9h.8M72,98.5h.8M84,118h.8M84.5,103.1h.8M75.6,111.7h.8M81.8,100.7h.8M70.7,98.9h.8M84.3,103.7h.8M81.3,110.9h.8M82.9,97.7h.8M93.2,101.3h.8M75.3,100.2h.8M78.7,98h.8M73.8,101.8h.8M78.7,100.3h.8M83.2,97.8h.8M89.5,103.1h.8M80.4,96.6h.8M69.8,105.5h.8M78.4,100.6h.8M83.9,102.9h.8M70,98.5h.8M68.3,108.8h.8M74.6,101.5h.8M82.9,100.2h.8M86.7,96.3h.8M77.3,108.6h.8M82.9,91.5h.8M74.4,104.3h.8M88.4,105.7h.8M76.5,97.4h.8M76.2,101.5h.8M78.4,106.3h.8M80.5,103.8h.8M74.3,106.7h.8M78.4,94.4h.8M74.4,97.6h.8M76.4,98.2h.8M73.5,97.8h.8M78,101.3h.8M84.3,114.2h.8M80.5,111.1h.8M88.8,106.6h.8M86.6,101.8h.8M71.4,99.1h.8M83.8,111.5h.8M71.2,107.1h.8M85.8,99.6h.8M87.8,107.3h.8M81.8,100.5h.8M82.2,97.9h.8M74.3,97.8h.8M83.7,106.5h.8M82.7,103.5h.8M95.5,117.5h.8M106.8,108.4h.8M100.6,115.7h.8M97.5,108h.8M101.8,112.4h.8M105.4,105.4h.8M96.1,103.5h.8M94.6,103.7h.8M101.1,115.3h.8M101.1,116.8h.8M109.2,100.5h.8M99.8,108.4h.8M106.5,100.9h.8M99.7,106.9h.8M103.9,111h.8M99.9,127.7h.8M99.3,113.7h.8M107.8,118.8h.8M98.9,111.1h.8M102.8,110.1h.8M105.3,122.1h.8M102.1,115.9h.8M97.4,99.4h.8M103.6,110.7h.8M96.7,108.1h.8M101.1,111.3h.8M107.8,106.5h.8M100.7,103.6h.8M87.6,111.8h.8M97.2,113.8h.8M101.3,95h.8M100.1,95.2h.8M98.5,117.1h.8M113.9,115.4h.8M107.6,102.2h.8M100.9,102.8h.8M96.9,103.2h.8M104.7,103.2h.8M92,112h.8M98.7,114.4h.8M98.2,114.8h.8M103.2,126.4h.8M106,111.3h.8M101.4,123.9h.8M110.6,98.9h.8M106.3,110.9h.8M97.4,110.5h.8M96.4,102.9h.8M105.6,106.7h.8M96.5,107.4h.8M99.2,111.8h.8M103.4,126.3h.8M100.7,117.8h.8M92.2,96.8h.8M103.9,102.8h.8M100.6,96.9h.8M94.5,114.6h.8M101.6,112.8h.8M97.3,108.2h.8M108.5,123h.8M88.7,107.7h.8M94.8,102.2h.8M103.3,109.9h.8M100.9,117.7h.8M104.4,104.1h.8M97.8,111.5h.8M101.1,115.5h.8M105.7,122.5h.8M108.7,118.7h.8M104.2,124.1h.8M101.4,115.9h.8M108.8,113.8h.8M100.2,106.1h.8M100.9,122.3h.8M102,113.2h.8M101.8,115.7h.8M100.6,95.6h.8M100.7,120.2h.8M105.4,113.9h.8M100.7,111.6h.8M105.2,111.3h.8M103.1,104.5h.8M108,111h.8M93.8,123.5h.8M100.2,115.9h.8M112.6,107.6h.8M105.2,110.2h.8M105.4,118.8h.8M96.1,123.7h.8M94.5,104.1h.8M92.2,105.2h.8M93.9,106.3h.8M95.6,106.2h.8M98.4,115.9h.8M96.4,101.5h.8M92.1,105.3h.8M113.3,113.5h.8M102.1,119.6h.8M110,117.2h.8M85.6,105.7h.8M101.4,106.8h.8M105.1,123.6h.8M107.9,114.4h.8M108.6,124.8h.8M100.8,101.9h.8M96.4,128.3h.8M106.6,113.9h.8M106.1,118.6h.8M104.7,120h.8M108.4,109.8h.8M101.7,113.6h.8M96.8,94.7h.8M98.4,110.2h.8M105.4,115.4h.8M100.9,101.8h.8M99.7,123.5h.8M107.2,122.7h.8M101.6,104.1h.8M90.1,99.4h.8M99.8,115h.8M107.1,101.3h.8M103.3,116h.8M112.4,118.9h.8M108.3,99h.8M93.2,134.3h.8M103,104.3h.8M105.7,111.6h.8M106.8,102.2h.8M104,103.5h.8M98.1,119.2h.8M96.8,118.1h.8M98.3,116.3h.8M111.3,120.2h.8M103.7,115.5h.8M105.8,121.1h.8M105.5,118.5h.8M96.2,106.4h.8M95.7,106.9h.8M96.9,101.7h.8M105.3,109h.8M104.1,116.1h.8M95.2,111.9h.8M106.5,103.5h.8M99.8,106h.8M101.1,111.3h.8M100.3,110.2h.8M97.4,124.2h.8M101.6,108.5h.8M105.4,123.9h.8M92,107.6h.8M98.5,123.3h.8M96.4,120.2h.8M97.5,116.9h.8M97.8,104.3h.8M109.1,107.4h.8M101.7,108.8h.8M106.5,97.3h.8M108.8,113.6h.8M100,127.5h.8M101.1,115.8h.8M108.4,104.8h.8M101.5,105.5h.8M109.2,118.8h.8M109.1,122.8h.8M105.5,106.6h.8M94.1,101.9h.8M92.1,105.9h.8M105.2,106.3h.8M105,96.5h.8M98.7,104.3h.8M104,125.1h.8M100.1,122h.8M104.4,108.1h.8M101.5,125.3h.8M99.3,120.3h.8M101.2,112.5h.8M104.4,107.2h.8M95.1,107.4h.8M107.5,111.9h.8M98.5,116.3h.8M108.1,112.5h.8M107.9,122.9h.8M105,119.8h.8M101.6,131.3h.8M107,103.4h.8M102.7,116.7h.8M103.9,111.1h.8M104.1,109.7h.8M102,111h.8M109.1,120.2h.8M104.4,102.5h.8M99.7,103.8h.8M109.2,116.1h.8M105.6,119.1h.8M104.7,101.4h.8M106.6,108.6h.8M94.5,103h.8M107.4,105.9h.8M105.3,103.4h.8M101.9,115.8h.8M100.8,118.3h.8M101.4,113.6h.8M103.4,100.1h.8M103.3,105.5h.8M96.3,130.7h.8M106.1,113.5h.8M108.3,113.9h.8M116.2,127h.8M94.4,113h.8M101.3,111.3h.8M93.4,106h.8M107.6,121.5h.8M106.3,117.6h.8M109.2,111.9h.8M90.7,109.9h.8M96.3,105.5h.8M102.9,115.9h.8M110.5,107.5h.8M105.1,107.3h.8M99.4,123.3h.8M99.1,116.7h.8M107.4,106.4h.8M102.4,102.1h.8M95.2,104.9h.8M110.1,115h.8M102.2,104.6h.8M106.4,119.5h.8M102.8,115.4h.8M102.7,112.8h.8M109,127h.8M102.5,115.9h.8M93.2,109.8h.8M112.5,122.4h.8M102,131.9h.8M106.3,121.8h.8M100.3,112.9h.8M113.1,117.4h.8M101,91.1h.8M104,123.8h.8M115.4,115.9h.8M104.5,114.9h.8M108.9,107.7h.8M101.3,104.5h.8M99.8,111.1h.8M100.3,119.9h.8M104.7,102h.8M94.4,98.6h.8M94.9,116.1h.8M104.6,115.7h.8M108.4,112.4h.8M100.9,104.5h.8M105.5,123.4h.8M113.5,124h.8M99.3,103.5h.8M97.3,111.1h.8M110.9,105.9h.8M100.3,110.5h.8M99.8,117.7h.8M110,127.9h.8M95.7,107.3h.8M102.1,115.8h.8M101.1,113.9h.8M106,119.7h.8M107.3,116.5h.8M102.5,108.3h.8M103.3,121.8h.8M94.7,126.4h.8M102.8,128h.8M107.9,100.8h.8M99.1,112.9h.8M103.5,116.5h.8M109.6,102.4h.8M109.8,119.6h.8M103.3,118.1h.8M101.8,107.8h.8M108.6,106.2h.8M98.6,112.2h.8M102.1,106.7h.8M102.8,108.9h.8M100.9,104.2h.8M96.5,115.8h.8M92.1,106.5h.8M96.3,92.6h.8M101.2,98.4h.8M97.7,113.9h.8M97.2,100h.8M100.8,107.6h.8M108.2,120.4h.8M104.6,99.1h.8M93.9,117.8h.8M104.9,122.2h.8M101.5,109.5h.8M108.5,108.9h.8M100.2,106.5h.8M109.3,122.6h.8M93.5,115.8h.8M101.2,116h.8M98.3,109.1h.8M93.9,117.9h.8M107.8,110.5h.8M94.9,119.6h.8M99.2,102.7h.8M105.9,113h.8M102.8,114.5h.8M106.2,106.1h.8M101.1,112.7h.8M108.5,120.3h.8M94.6,113.6h.8M100.5,120h.8M97.9,107.9h.8M104.6,116.2h.8M102,107.9h.8M97.4,95.7h.8M98,103.3h.8M95.5,100.8h.8M102.7,107.5h.8M104.9,117.7h.8M110.1,116.2h.8M97.2,107.4h.8M102.9,123.3h.8M106.3,115.6h.8M97.4,116.9h.8M101.5,118.4h.8M105.3,106.9h.8M95.4,92.4h.8M98.1,116h.8M91.4,103.7h.8M107.6,139.2h.8M104.2,119.9h.8M98.3,116.8h.8M117.1,95.7h.8M87.8,114.9h.8M70.7,108.7h.8M55.3,129.5h.8M113.6,124.3h.8M110.4,92.3h.8M109.7,136.3h.8M87.3,138h.8M113.7,119.1h.8M60.5,107.1h.8M92.8,133.2h.8M91.1,123.1h.8M81.1,121.2h.8M99.4,140h.8M91.3,93.4h.8M73.1,123.7h.8M78.8,133.9h.8M110.1,97.1h.8M79.9,109h.8M54.8,134.1h.8M111.9,109h.8M79.6,131.2h.8M58.5,128.4h.8M109.4,128.2h.8M102.3,133.9h.8M58.5,105.4h.8M61.8,138.4h.8M101.8,125.5h.8M109.9,93.9h.8M74.7,135.5h.8M71.1,99.9h.8M86.6,130.5h.8M103,126.7h.8M107.4,94.7h.8M76.8,122.6h.8M105.8,127.1h.8M75.4,118.5h.8M106.9,93.9h.8M67.1,110h.8M71.1,119.8h.8M78.1,137.3h.8M110.6,139.7h.8M111.4,126.9h.8M73.8,113.1h.8M104.4,93.9h.8M100.3,112.7h.8M96.9,140h.8M84.6,91.5h.8M82.4,122.2h.8M87.2,120.9h.8M56.2,110.6h.8M114.1,134.9h.8M83.9,125.3h.8M55.3,110.7h.8M94.8,101h.8M60.9,111.1h.8M86.7,124h.8M93.4,118.3h.8M84.5,138.5h.8M70.9,94.2h.8M78.4,137.1h.8M67.5,110.3h.8M108.9,134.8h.8M83.9,94.3h.8M111.6,110.6h.8M71.5,100.5h.8M66.6,91.9h.8M111.2,133h.8M59.8,90.7h.8M81.3,97.3h.8M104.7,123.6h.8M100.7,111.2h.8M72.4,135.3h.8M96.8,104.3h.8M53.5,121.7h.8M91.4,113.2h.8M100.8,105.6h.8M97,118.1h.8M108.5,112.4h.8M87.6,90.5h.8M80.3,128.1h.8M53.4,110.3h.8M112,124.6h.8M57.7,114.3h.8M99.3,116.7h.8M65,93.6h.8M101.1,126.4h.8M65.6,94.2h.8M93.3,131.4h.8M74.8,93.2h.8M89.3,126.2h.8M64.3,111.3h.8M92.7,118.3h.8M57.2,94.3h.8M81.9,123.8h.8M53.6,133.2h.8M64.5,113.3h.8M100.7,105.2h.8M111.3,119.2h.8M107.8,100.8h.8M77.1,129.4h.8M52.7,108.1h.8M105.4,107h.8M99.8,114.4h.8M72.4,115.4h.8M58,103.8h.8M85.8,108.5h.8M80.6,95.2h.8M57.4,118.4h.8M97.1,102.8h.8M96.4,91.7h.8M89,119.7h.8M68.7,110.9h.8M93.9,96.6h.8M55.2,141.9h.8M68.2,125.8h.8M99.5,121h.8M74.9,100.9h.8M72.1,125.8h.8M89.1,94.1h.8M111.8,122.6h.8M110,127.9h.8M99.1,108.6h.8M52.9,130.3h.8M108.7,102.1h.8M89.4,129.2h.8M106.8,99.8h.8M92.1,132.3h.8M97.2,135.5h.8M59.3,94.1h.8M91.1,111.8h.8M70.1,99.7h.8M61.8,118.2h.8M55.5,136.1h.8M82.9,93.4h.8M94.2,135.5h.8M110,93.3h.8M100.6,141.4h.8M74.9,107.3h.8M54.9,112.2h.8M56.8,96.3h.8M75.1,95.7h.8M55.9,110.1h.8M86.8,99.6h.8M116.8,129.8h.8M102.5,98.8h.8M112.8,96.1h.8M56.9,108.6h.8M97.4,73.5h.8M103.8,111.7h.8M122.8,105.6h.8M98.9,106.7h.8M74.7,134.1h.8M61.9,81.8h.8M53,88h.8M61.2,84.8h.8M103.7,111.8h.8M108.7,70.7h.8M84.2,84.8h.8M57.1,107.8h.8M131.5,121.8h.8M110.2,112.3h.8M76.6,130.1h.8M77.8,105.1h.8M66.8,140h.8M79.1,134.5h.8M60,67.3h.8M116.7,137.6h.8M109.3,70.5h.8M93,76.6h.8M121.3,137.5h.8M126,82.2h.8M89,118.5h.8M58.7,115.3h.8M133.3,77.9h.8M87.9,87.6h.8M117.9,77.8h.8M128.2,107.2h.8M78.1,89.1h.8M53.1,99.6h.8M80.7,72.3h.8M72.1,81h.8" stroke="#000" stroke-opacity=".82" stroke-width=".8" fill="none"/>
<rect x="95" y="99.3" width="21.8" height="43" fill="none" stroke="#000" stroke-width="1.85"/>
<text x="48.7" y="73" font-size="3.8" font-weight="bold" font-style="normal" text-anchor="end" stroke="#000" stroke-width=".32">10⁵</text>
<line x1="49.9" y1="71.7" x2="51.7" y2="71.7" stroke="#222" stroke-width="0.6"/>
<text x="48.7" y="91.3" font-size="3.8" font-weight="bold" font-style="normal" text-anchor="end" stroke="#000" stroke-width=".32">10⁴</text>
<line x1="49.9" y1="90" x2="51.7" y2="90" stroke="#222" stroke-width="0.6"/>
<text x="48.7" y="109.6" font-size="3.8" font-weight="bold" font-style="normal" text-anchor="end" stroke="#000" stroke-width=".32">10³</text>
<line x1="49.9" y1="108.3" x2="51.7" y2="108.3" stroke="#222" stroke-width="0.6"/>
<text x="48.7" y="128.6" font-size="3.8" font-weight="bold" font-style="normal" text-anchor="end" stroke="#000" stroke-width=".32">10²</text>
<line x1="49.9" y1="127.3" x2="51.7" y2="127.3" stroke="#222" stroke-width="0.6"/>
<text x="48.7" y="136.9" font-size="3.8" font-weight="bold" font-style="normal" text-anchor="end" stroke="#000" stroke-width=".32">0</text>
<line x1="49.9" y1="135.6" x2="51.7" y2="135.6" stroke="#222" stroke-width="0.6"/>
<text x="60.8" y="151.3" font-size="3.8" font-weight="bold" font-style="normal" text-anchor="middle" stroke="#000" stroke-width=".32">0</text>
<line x1="60.8" y1="144.3" x2="60.8" y2="146.1" stroke="#222" stroke-width="0.6"/>
<text x="69.3" y="151.3" font-size="3.8" font-weight="bold" font-style="normal" text-anchor="middle" stroke="#000" stroke-width=".32">10²</text>
<line x1="69.3" y1="144.3" x2="69.3" y2="146.1" stroke="#222" stroke-width="0.6"/>
<text x="90" y="151.3" font-size="3.8" font-weight="bold" font-style="normal" text-anchor="middle" stroke="#000" stroke-width=".32">10³</text>
<line x1="90" y1="144.3" x2="90" y2="146.1" stroke="#222" stroke-width="0.6"/>
<text x="108.7" y="151.3" font-size="3.8" font-weight="bold" font-style="normal" text-anchor="middle" stroke="#000" stroke-width=".32">10⁴</text>
<line x1="108.7" y1="144.3" x2="108.7" y2="146.1" stroke="#222" stroke-width="0.6"/>
<text x="127.2" y="151.3" font-size="3.8" font-weight="bold" font-style="normal" text-anchor="middle" stroke="#000" stroke-width=".32">10⁵</text>
<line x1="127.2" y1="144.3" x2="127.2" y2="146.1" stroke="#222" stroke-width="0.6"/>
<rect x="176.7" y="64.1" width="83.2" height="79.9" fill="#fff" stroke="#8c8c8c" stroke-width="0.8"/>
<path d="M176.7,64.1V144H259.9" fill="none" stroke="#555" stroke-width=".8" stroke-dasharray="1.4 .8"/>
<rect x="177.9" y="78.6" width="31" height="15.5" rx="3" fill="#000" opacity="1" filter="url(#bl)"/>
<rect x="196.7" y="90.1" width="13" height="10" rx="3" fill="#000" opacity="0.5" filter="url(#bl)"/>
<path d="M198.7,82.1h.8M191,76.7h.8M181.4,89.3h.8M202.1,93.6h.8M199.1,83.3h.8M178.1,86.2h.8M186.3,84.1h.8M212,81.6h.8M186.5,85.5h.8M198.7,89.5h.8M194.6,85h.8M191.4,83.3h.8M178.2,83.9h.8M178.6,90.8h.8M196,84.8h.8M204.2,89.1h.8M179.4,89.6h.8M188.3,88.7h.8M203.2,84h.8M197.2,88.7h.8M200.4,82.2h.8M193.6,87.4h.8M179.3,90.4h.8M189.1,88.5h.8M205.9,80h.8M192.8,86h.8M207.7,90.5h.8M196.2,85.1h.8M199.4,91h.8M214.3,86.1h.8M184.1,91.1h.8M182.5,83.1h.8M192.5,77.1h.8M198,94.8h.8M190.4,81.1h.8M190.9,85.9h.8M201.9,88.3h.8M195.7,84.2h.8M195.6,81h.8M189.8,94.7h.8M190.2,88.5h.8M203.2,85.8h.8M189.6,88.3h.8M185.6,87.1h.8M184.1,84.9h.8M189.2,85.7h.8M193,87.1h.8M196.8,87.6h.8M192.3,85.5h.8M186.7,89.7h.8M198.1,87.9h.8M178.8,87.2h.8M188.8,89.7h.8M205,79.8h.8M193.7,84.7h.8M180.9,82.4h.8M199.1,83.6h.8M187.5,79h.8M184.9,85.5h.8M205.6,84.3h.8M198.8,86.2h.8M229,98.5h.8M177.7,87.3h.8M190.8,86.5h.8M196,86.7h.8M206.6,86h.8M187.7,89.6h.8M209.8,87.7h.8M192.7,87.1h.8M182.2,85.5h.8M189.1,91.3h.8M190.5,81.5h.8M189.5,87.9h.8M183.9,94h.8M188.6,88.5h.8M202.8,79.7h.8M201.8,88.4h.8M213.9,93.9h.8M181.2,88.9h.8M178.6,83.8h.8M216.5,91.8h.8M195.8,79.5h.8M196,86.2h.8M180.9,84.2h.8M196,91.3h.8M191.9,87.3h.8M191.5,77.3h.8M205.4,89.2h.8M181.5,89.4h.8M193,89.7h.8M196.2,90.8h.8M212.6,80.4h.8M210.3,87.6h.8M180.8,88.4h.8M193.4,88.6h.8M193.5,85.3h.8M179.3,87.3h.8M186.7,81.9h.8M194.8,80.9h.8M192.3,85.4h.8M209.9,85.1h.8M197.5,85.7h.8M197.3,91h.8M183.3,82.3h.8M194.6,91.3h.8M196.1,84.1h.8M210.1,85.6h.8M186.6,86.9h.8M183.2,77.1h.8M213.2,90.7h.8M213.2,91.2h.8M184.7,87.8h.8M191.8,86.7h.8M189.6,80.8h.8M207,82.1h.8M198.8,89h.8M198.5,85.1h.8M181.8,79.7h.8M206.4,82.1h.8M197.3,89.6h.8M183.4,84.4h.8M181.9,90.3h.8M210.9,89.7h.8M203.5,85.7h.8M183.4,85.1h.8M196.7,90.6h.8M190.9,78.1h.8M184.9,83.3h.8M192.1,85.1h.8M198.7,82h.8M190.4,75.6h.8M198.2,88.5h.8M190.7,80.8h.8M194,82.4h.8M184.2,80.3h.8M200.2,86.3h.8M192.6,81.7h.8M187,82.9h.8M193,81.2h.8M187.9,90.8h.8M188.4,85.5h.8M197,92h.8M201.2,90.1h.8M188.4,85h.8M191.7,93.5h.8M195.9,89.8h.8M187.8,83.2h.8M184.3,83.6h.8M191.8,90h.8M212.2,90.4h.8M185.7,88.8h.8M205.6,86.3h.8M192.8,87.3h.8M204.8,80h.8M183.2,94.1h.8M201.1,90.2h.8M194.9,85.7h.8M186.5,88.9h.8M192.2,83.7h.8M180.2,84.5h.8M205,94.3h.8M185.9,88.7h.8M201.3,87.6h.8M187.8,85.9h.8M198.5,78.9h.8M197.5,91.6h.8M187.8,85.6h.8M199.5,89.4h.8M186.7,94h.8M209,93.2h.8M206.4,87.2h.8M181.5,80.4h.8M193,80.3h.8M197.6,84.1h.8M182.9,75.2h.8M211,84.4h.8M200.5,87.7h.8M192,91.7h.8M181.6,86.8h.8M180.7,80.5h.8M182,90.2h.8M200.4,79h.8M180.6,86.5h.8M201.7,87.1h.8M219,82h.8M183.2,91.3h.8M204.4,86.8h.8M194.3,87.6h.8M180.5,84.9h.8M190.1,89.9h.8M190.4,90h.8M199.8,88.4h.8M180.4,82.9h.8M187.6,79.4h.8M189.2,84.8h.8M195.1,90.4h.8M188.2,86.5h.8M205.5,90.2h.8M185,89.4h.8M192.1,91.9h.8M191.2,91.8h.8M195.4,86.5h.8M207.2,86.2h.8M191.3,81.8h.8M200.4,94.5h.8M197.1,88h.8M194,90.9h.8M185.5,90.8h.8M202.1,84.9h.8M187.1,81.7h.8M186.7,87h.8M187.5,82.4h.8M181,85.7h.8M193.2,83.3h.8M180.2,83.1h.8M199.5,88h.8M200.6,86.6h.8M190,87.3h.8M178.8,82.3h.8M202.6,88.3h.8M195.8,83.1h.8M179.3,87.9h.8M205.8,81.8h.8M207.7,87.5h.8M196.8,85.8h.8M188.3,80h.8M193.3,84.2h.8M199.9,84.2h.8M200.1,85.3h.8M190,87.5h.8M183.2,90.4h.8M197.4,87.8h.8M211.1,87.4h.8M180.8,84.8h.8M187.6,83.2h.8M179.4,87.9h.8M184.9,83.5h.8M200.6,90h.8M194.3,86.1h.8M187.7,84.3h.8M189.5,87.2h.8M180.7,86.2h.8M198.7,89.8h.8M183.5,82.1h.8M183.1,81.2h.8M189.5,89.6h.8M207.3,87.3h.8M189,82.8h.8M184.4,88.5h.8M215,85.3h.8M189.2,90.2h.8M205.2,79.4h.8M195.2,86.9h.8M197.4,78.4h.8M193.8,79.3h.8M183.7,86.4h.8M193.7,83.7h.8M187.1,84.7h.8M190.4,86.4h.8M200.9,90.8h.8M192.3,92.7h.8M188.3,83.5h.8M182.7,84.5h.8M186.9,80.7h.8M190.2,82.1h.8M202.8,83.2h.8M200.3,88.6h.8M187.5,91.2h.8M185.8,87.8h.8M193.3,83.1h.8M196.3,87.2h.8M199.6,81.7h.8M190.4,87.7h.8M193.4,79.2h.8M182.6,84.7h.8M184.8,86.4h.8M195.4,85.8h.8M199.9,89.7h.8M183.7,89.4h.8M186.6,79.1h.8M197,88.1h.8M189.6,82.6h.8M218.8,83.9h.8M191.7,91.5h.8M181.4,88.6h.8M187.5,87.5h.8M183.7,87.9h.8M188.3,81.8h.8M193.6,86.6h.8M207.4,85.4h.8M206.4,91.4h.8M196.7,87.6h.8M195.7,84.6h.8M180.6,86.1h.8M188.7,80.9h.8M195.5,83.5h.8M189.5,84.6h.8M214.8,82.3h.8M190.3,85h.8M185.9,90.1h.8M187.1,85.6h.8M201.1,84.9h.8M184.2,86.3h.8M186.1,85.9h.8M185.6,89.2h.8M199.7,92h.8M180,89.7h.8M201.7,81.7h.8M180.6,91.2h.8M186.7,78.1h.8M195.2,84h.8M194.6,81h.8M190.7,82.6h.8M199.8,83.4h.8M183.3,99.2h.8M210.5,87.1h.8M191.1,85.2h.8M179.5,86.6h.8M185.7,86.1h.8M188.5,90.5h.8M208.5,83h.8M195.3,87.2h.8M201.2,87.6h.8M217.6,85.5h.8M198,84h.8M180.6,87.3h.8M200.1,88.9h.8M181.7,92.9h.8M204.1,85.6h.8M198,94h.8M204.1,94h.8M180.4,89.6h.8M194.3,81.7h.8M199.5,84.7h.8M191.2,84.1h.8M185.9,84.6h.8M186.2,88.2h.8M185.4,85.6h.8M197.3,86.6h.8M187,92h.8M197.5,95.7h.8M190.1,90.3h.8M184.2,86h.8M185.1,89.1h.8M195.1,82.9h.8M199,85.9h.8M215.8,79.1h.8M194.4,84.2h.8M189.6,80.7h.8M180.9,90.8h.8M198.9,81.8h.8M194.7,82.2h.8M178.5,91.9h.8M187.2,93.5h.8M211.2,86.8h.8M202.8,84.2h.8M183.9,86.4h.8M190.7,89.9h.8M184.6,84.4h.8M183.7,84.4h.8M197.1,89.5h.8M188.6,79.9h.8M202.6,84.4h.8M198.8,84.6h.8M184.1,83.6h.8M190.7,87.4h.8M181.2,87.5h.8M190.5,88.5h.8M197,86.4h.8M193.2,89.9h.8M188.7,81.2h.8M197.9,91h.8M177.9,87.7h.8M191.1,82.4h.8M196.6,82.9h.8M188.2,81.2h.8M191,87.6h.8M188.9,92.8h.8M184.3,82.7h.8M183.5,77.8h.8M192.1,98.9h.8M189.6,79h.8M207.9,87.9h.8M179.9,79.7h.8M208,86.3h.8M202.7,84h.8M189,82.5h.8M205.3,83.5h.8M189.4,87.4h.8M198.3,86h.8M201.2,84.7h.8M181,87.9h.8M194.9,83.5h.8M188.3,88h.8M204.6,85.7h.8M185.5,82.1h.8M187.9,91.3h.8M194.5,87.2h.8M192.7,82.7h.8M188.8,83.7h.8M200,83.2h.8M180.6,95.3h.8M200.2,82.7h.8M190.8,82.5h.8M192.5,85.9h.8M193.9,89.1h.8M191.1,86h.8M189.7,87.2h.8M214.1,79.3h.8M212.3,88.5h.8M179.2,80.9h.8M187.6,81.1h.8M183.6,86.8h.8M188,86.6h.8M204.1,91h.8M200.4,88.1h.8M204.3,91.5h.8M212.5,92h.8M181.7,77.4h.8M186.8,78.9h.8M185.4,86.4h.8M193.7,85.4h.8M202.7,84h.8M181.4,82.8h.8M186.7,83.8h.8M186.2,87.4h.8M195.6,87.9h.8M184.5,87.3h.8M184.5,81.6h.8M180.9,82.1h.8M187.1,87.2h.8M181.8,84.4h.8M187.2,76.4h.8M203.6,87.6h.8M188.2,90.9h.8M194,88.5h.8M189.4,83h.8M195.5,89.2h.8M180.3,84.4h.8M186.5,82h.8M180.8,80.3h.8M205.2,82.3h.8M221.5,88h.8M205.5,83.8h.8M183.9,87.4h.8M193.3,81.8h.8M186.9,88h.8M192.9,85.7h.8M211.3,81.5h.8M190.5,91.2h.8M197.1,85.3h.8M185.3,82.8h.8M198.5,85.1h.8M191.4,84.6h.8M185.9,83.2h.8M202.2,84.4h.8M184,80.9h.8M181.5,83.6h.8M205.2,85.1h.8M191,93.2h.8M180.4,82.4h.8M183.5,86.5h.8M202.5,90.5h.8M183.4,83.7h.8M191.4,85h.8M207,88.5h.8M206.8,81.4h.8M204.5,87.4h.8M196.9,81.7h.8M181.3,88h.8M183.2,81.3h.8M181.7,88.3h.8M189.4,88.6h.8M184.4,82.7h.8M211.4,88.4h.8M186.6,81.8h.8M191.6,89h.8M181.2,87.5h.8M189.6,88.9h.8M183.9,78.7h.8M190.1,83.4h.8M193.9,79.6h.8M200.3,83.5h.8M205.9,82.7h.8M198.2,81.4h.8M188.5,86.8h.8M183,88.1h.8M207.1,83.2h.8M184.6,91.8h.8M185.5,92.1h.8M191.9,90h.8M199.4,79.4h.8M208.3,88.3h.8M196.4,86.7h.8M196.3,87.3h.8M187.3,77.8h.8M182.7,80.8h.8M201.9,92.1h.8M187.8,81.3h.8M189.4,88.9h.8M199.2,83.7h.8M195.5,80.4h.8M196.5,90.1h.8M193,83.4h.8M183.1,81.4h.8M183.4,83.7h.8M188.3,79.9h.8M189.9,88.5h.8M201.1,83.4h.8M191.2,85.4h.8M204.2,84.5h.8M198.9,87.6h.8M182.3,89.5h.8M183.9,82.5h.8M188.2,90.8h.8M179.1,77.7h.8M191.6,94.9h.8M199.5,87.4h.8M189.8,90h.8M178.8,95.1h.8M206.4,83.3h.8M183.6,82.9h.8M192.6,92.2h.8M191,90.9h.8M182.3,87.2h.8M194.8,82.1h.8M184.9,79.9h.8M197.5,89.1h.8M183.5,84.4h.8M203.4,93.2h.8M207.5,87.1h.8M208.1,80.6h.8M178.8,85.4h.8M224.1,85.9h.8M192,81.6h.8M218.2,92.7h.8M198,92.7h.8M197,76.2h.8M188.1,84.2h.8M195.7,86.3h.8M184,85.9h.8M193.6,80.8h.8M193.2,82.9h.8M180.6,87.2h.8M196.3,84.8h.8M182.5,74.8h.8M182.7,83.2h.8M196.4,90.8h.8M187.3,83.5h.8M178.3,87.1h.8M193.5,88h.8M190.6,84.9h.8M191.4,86.3h.8M182.5,92.7h.8M191.1,82.1h.8M190.8,88.3h.8M200.3,85.9h.8M189.4,88.4h.8M209.5,81.3h.8M187.8,85.3h.8M197.6,87.7h.8M210,92.6h.8M186.7,88.7h.8M206.8,84.4h.8M188.1,84.1h.8M185.9,86.9h.8M211.7,83.2h.8M208.3,88.4h.8M195.2,86.2h.8M185.4,95.3h.8M200.1,82.6h.8M184.6,92.3h.8M211,88.8h.8M177.9,74.8h.8M188.6,85.3h.8M204.8,89.3h.8M189.5,86.5h.8M203.8,85.5h.8M195.4,82.7h.8M195.1,90.3h.8M195.6,76.8h.8M191.2,86.2h.8M184.7,91.8h.8M199.4,88h.8M198.8,84.2h.8M203.8,83.8h.8M193.5,89.3h.8M199.7,90.7h.8M185.3,85.1h.8M199,92h.8M201.1,85.2h.8M187.8,93.2h.8M193.8,90.9h.8M191.2,87.2h.8M192.9,87.6h.8M185.5,79h.8M191.2,88.9h.8M182.3,95h.8M191.3,84.8h.8M182.8,82.5h.8M190.4,92.3h.8M194.7,90.8h.8M185,89.7h.8M195.6,91.5h.8M193.7,90.5h.8M187.5,90.9h.8M189,88.3h.8M194.3,90.7h.8M193.4,84.2h.8M198,86.7h.8M188.5,85.7h.8M187.5,94.5h.8M211.6,85.7h.8M185.8,88.3h.8M198.3,85.4h.8M189.2,88.2h.8M195,92.5h.8M193.2,89.9h.8M178.6,87.5h.8M192,85.7h.8M207.2,85.7h.8M188.1,85.6h.8M193.7,77.3h.8M191.9,80.7h.8M195.7,89.3h.8M178.6,83.1h.8M215.5,82.9h.8M200.1,85.5h.8M201.7,86.1h.8M205.5,76.8h.8M185.3,82.4h.8M199.7,84.5h.8M185,81.9h.8M189.8,85.8h.8M199.2,85.4h.8M204.1,81.3h.8M191.6,87.1h.8M185.6,86.9h.8M188.2,79.4h.8M208.9,84.9h.8M192.1,87.4h.8M203.9,84.7h.8M201,80.6h.8M178.1,90.3h.8M183.6,88.2h.8M198.2,84.6h.8M182.8,87.6h.8M202.3,89.1h.8M214.5,80.7h.8M181.2,85.9h.8M192.8,90.6h.8M187.6,89.3h.8M188.5,90.4h.8M181.5,92.2h.8M190.4,92.2h.8M201.6,86.9h.8M194.7,83.4h.8M183.6,92.9h.8M195.5,80h.8M199.2,85.4h.8M209.7,85.3h.8M204.3,87.7h.8M183.3,87.5h.8M200.3,76.7h.8M199,82.9h.8M180.6,89.5h.8M198.1,86.1h.8M197.9,79.8h.8M186.4,86.8h.8M180.8,80.2h.8M202.1,82.7h.8M187.9,82.7h.8M206.4,81.8h.8M187.5,84.6h.8M189.2,85.4h.8M183.8,90.8h.8M185.1,81.7h.8M197.1,90.1h.8M204.3,82.4h.8M178,83.4h.8M186.4,82.3h.8M211.4,88.3h.8M200.7,89.6h.8M188.1,84h.8M184.5,84.2h.8M191.4,86.6h.8M192.2,81.2h.8M193.2,79.4h.8M198.3,88.4h.8M220.5,83.4h.8M180,88.4h.8M197.5,86.7h.8M183.9,86h.8M199.2,84.2h.8M180.6,85.3h.8M182.8,87.8h.8M200.2,90.1h.8M181.1,87h.8M199.9,93.9h.8M185.5,84.8h.8M190.7,85.6h.8M197.6,80.2h.8M198.8,81.1h.8M189.4,91.2h.8M183.8,84.5h.8M191.9,87.5h.8M198.6,78.7h.8M197.4,91.4h.8M190.7,85.1h.8M194.2,79.4h.8M188.7,82.4h.8M199.9,87.9h.8M207.7,90h.8M184.6,89.7h.8M179.7,90h.8M199.2,90.1h.8M189.6,85.2h.8M202.4,86.2h.8M196.9,84.3h.8M183.6,83.1h.8M192.4,90.9h.8M201.4,88.5h.8M193.3,87.1h.8M214.2,79.9h.8M191.1,92.6h.8M191.3,90.4h.8M193.5,87.8h.8M198.3,85.7h.8M183.6,85.1h.8M197.5,86.8h.8M189.6,87.3h.8M184.9,84.1h.8M180,88.3h.8M187.3,98.8h.8M213.5,79.8h.8M192.1,84.9h.8M198.6,86.4h.8M212.1,86.4h.8M212.1,86.8h.8M191.8,88.2h.8M206.5,86h.8M181.4,81.5h.8M202.7,87.5h.8M207.4,85.8h.8M200,91.1h.8M217.9,82.2h.8M205.9,82.5h.8M182.7,80.7h.8M186.8,92.1h.8M185,82.2h.8M200.9,85.9h.8M191.8,91.1h.8M199.3,85.3h.8M183.3,79.3h.8M184.2,79.3h.8M178.7,89.3h.8M192.8,89.4h.8M196.7,82.7h.8M207.1,91h.8M197.4,87.8h.8M184,87.4h.8M191.5,84.4h.8M185,80.3h.8M189.4,90.4h.8M206,90.4h.8M187.3,78.3h.8M202.5,82.6h.8M188.8,87.2h.8M193.2,86.9h.8M183.1,81.6h.8M201,80.6h.8M180.8,89.7h.8M207.6,87.2h.8M185.8,86.8h.8M200.3,88.8h.8M187,91.5h.8M180.4,91.1h.8M196.6,90.3h.8M190.4,88.3h.8M181.9,78.9h.8M198,85.3h.8M197.4,87.1h.8M179.7,93h.8M211.2,87.4h.8M193.4,89h.8M203.2,81.5h.8M190.9,82.2h.8M179.2,91.4h.8M180.2,85.6h.8M198.9,85.5h.8M202,82.8h.8M187.8,79.9h.8M205.7,84.8h.8M191.9,76.8h.8M204.9,86.9h.8M192.4,82.1h.8M198.3,84.9h.8M188.4,90.2h.8M186.5,80.8h.8M196.1,88.9h.8M188.1,92.1h.8M193.9,87.4h.8M178.3,85.5h.8M194.5,90.2h.8M195.3,84.8h.8M195.8,83.6h.8M190.4,86.6h.8M188.3,89.9h.8M181.8,88.5h.8M189.9,83.4h.8M192,79.9h.8M187.7,88.1h.8M204,86h.8M204.6,84.9h.8M187.6,84.4h.8M190.7,81.9h.8M195.5,77.9h.8M184.2,95.9h.8M208,81.8h.8M220.5,84.2h.8M180.5,84h.8M187.7,80.9h.8M179.7,80.7h.8M180,81.1h.8M204.2,89.5h.8M188.6,88.6h.8M184.8,85h.8M191.6,89.5h.8M203.4,83.6h.8M202.2,90.2h.8M194.6,82.4h.8M185,89.8h.8M200.7,81.1h.8M188.4,81.6h.8M194.7,80.8h.8M182.9,78.7h.8M200.7,84.8h.8M197.7,88.1h.8M179.9,93h.8M198.8,89h.8M180.2,87.2h.8M181.3,79.8h.8M184.9,88.5h.8M201.8,82.3h.8M222,82.5h.8M191.4,85h.8M209.3,80.9h.8M188.3,91.8h.8M183.1,84h.8M178.8,87.7h.8M203.7,87.8h.8M214.1,91.3h.8M192.8,87.8h.8M203.9,83.3h.8M188.7,83.8h.8M191.2,85.9h.8M205,90.1h.8M220.7,85.3h.8M190.6,87h.8M192.3,82.6h.8M182.9,82h.8M182.1,90h.8M180,78.2h.8M186,85.6h.8M181.4,90.8h.8M184.3,79.1h.8M181.2,85.2h.8M194.9,89.7h.8M195.6,86.6h.8M183,85h.8M201.6,86.9h.8M183.1,82.5h.8M203.6,85.5h.8M197.6,79.9h.8M193.5,80.8h.8M184.2,87.1h.8M179.1,82.9h.8M189.7,85h.8M187.6,90.6h.8M189.9,85.5h.8M209.9,83.8h.8M187.1,81.3h.8M193.4,89.9h.8M192.4,86.1h.8M186.4,85.4h.8M181,90.2h.8M187.7,84.1h.8M197.1,81.8h.8M206.3,86.3h.8M195.6,86.9h.8M224,91.1h.8M209.2,88.2h.8M195.6,84h.8M198.8,82.7h.8M189.5,86.3h.8M180.9,83.1h.8M218.2,89h.8M195.5,88.8h.8M192.5,85.6h.8M205.9,91h.8M178.7,87.9h.8M182.6,83.9h.8M190.1,90h.8M200.8,87.3h.8M197.3,89.8h.8M188.7,94.8h.8M194.8,86h.8M185.7,82.1h.8M193.5,83.2h.8M194.4,87.5h.8M191.3,81.3h.8M181.8,79.4h.8M186.6,86.8h.8M202.4,87.6h.8M213.9,94.3h.8M218.4,85.3h.8M181.9,84.3h.8M179,87.3h.8M184.3,87.7h.8M207.1,88.5h.8M181.2,82.9h.8M184.6,84.1h.8M178.9,88.9h.8M185.1,93h.8M203.7,89.2h.8M196.9,87.4h.8M181.1,87.4h.8M193.2,82.3h.8M184,86.8h.8M203.6,84.9h.8M197.3,84h.8M185.5,81.2h.8M190.7,82.9h.8M195,88.6h.8M207.5,93.8h.8M182.7,80.5h.8M209.3,84.1h.8M198.7,88.8h.8M206.6,85h.8M211.4,80.7h.8M197.5,81.9h.8M183.5,88.3h.8M187.1,85.7h.8M188,87.5h.8M201.1,81.6h.8M178.5,86h.8M205.5,75.8h.8M186.2,91.6h.8M178.4,87.3h.8M187.5,90.9h.8M186.7,86.9h.8M186.4,95.2h.8M200.5,91.3h.8M197.3,84.3h.8M188.5,88h.8M181.3,82.3h.8M216,87.6h.8M199.2,87.6h.8M193.2,83h.8M190.2,85.1h.8M194.6,86.7h.8M194.2,91.3h.8M197.1,84.3h.8M195.1,90h.8M192.9,82.5h.8M197.5,85.9h.8M188.6,89.3h.8M189.5,81.9h.8M198.2,87.7h.8M192.8,80.8h.8M182.2,83.3h.8M202.5,83.9h.8M198.3,85.9h.8M182.9,87.3h.8M193.8,86.1h.8M196,85.7h.8M187.3,80.9h.8M198.9,88h.8M185.6,91.4h.8M199.9,94.9h.8M223.5,87.6h.8M189,87.4h.8M202.1,85.8h.8M194.4,80.3h.8M202.6,92.1h.8M200.9,87.9h.8M202.4,93h.8M193.1,82.1h.8M209,82h.8M186.2,83.2h.8M192.5,87.8h.8M198.9,90.2h.8M194.8,85.1h.8M200.8,87.4h.8M183.3,97.9h.8M182.7,88.1h.8M178,86.6h.8M195.7,88.4h.8M204.1,83.1h.8M217.2,90.5h.8M213.7,86h.8M196,87.7h.8M216.5,86.4h.8M202.9,89.4h.8M193.9,79.5h.8M200.5,85.1h.8M210,85.4h.8M194.4,85.5h.8M185.3,87h.8M205.5,88.3h.8M193.3,83.8h.8M190.5,81.5h.8M198.9,81h.8M202.4,89.1h.8M221.1,84.7h.8M192.3,88.4h.8M204,83.6h.8M196.2,86.9h.8M192.4,85.8h.8M194.9,83.8h.8M205.2,86.1h.8M179.7,88h.8M186,88.7h.8M199.7,89.1h.8M196,80.6h.8M196.8,86.2h.8M200.5,86.9h.8M180.5,93.5h.8M199.9,88.7h.8M185,88.2h.8M180.3,82.7h.8M186.3,88.4h.8M198.4,90.6h.8M196.3,87h.8M195,90.7h.8M181.9,86.8h.8M192.9,91.3h.8M193.6,86.8h.8M194.5,86.8h.8M190.5,88.5h.8M189,87.8h.8M187.9,84.6h.8M184.9,84.2h.8M186.3,88.6h.8M182.1,83.3h.8M189.4,87.6h.8M205.8,85.7h.8M198.9,86.1h.8M186.5,91.5h.8M189.3,84.7h.8M198.8,80.1h.8M189,85h.8M210,86.3h.8M182.3,88.3h.8M203,84.2h.8M187.5,83.8h.8M191,88.4h.8M200.9,87.1h.8M192.1,80.8h.8M188.5,84.7h.8M197,85.3h.8M185,88.2h.8M181.9,84.5h.8M198.3,80.6h.8M193,89.1h.8M180.1,74.8h.8M189.7,87.8h.8M189.4,83.8h.8M196.6,81.6h.8M206.7,82.3h.8M179.3,91.1h.8M190.5,91h.8M214.4,88.2h.8M201.5,85.5h.8M187.6,85.3h.8M203.7,77.4h.8M209.7,91.6h.8M201.8,83.4h.8M183,85.3h.8M200.7,83.5h.8M192.1,81.1h.8M190,85.2h.8M198.1,84.6h.8M196.1,80.1h.8M192,87.5h.8M197.9,84.6h.8M202.2,80.9h.8M178.5,82.9h.8M206.9,93.9h.8M206.9,89.4h.8M195.7,78.7h.8M202.8,89.5h.8M192.3,93.9h.8M199.7,87.3h.8M193.1,82.5h.8M185.9,88.9h.8M209.7,90.1h.8M191.2,81.1h.8M200.7,90.6h.8M193.3,94.3h.8M213.7,88.9h.8M195.6,85.8h.8M201.7,91.1h.8M205.7,85.5h.8M211.3,87.5h.8M192.9,90.5h.8M181.4,81.2h.8M203.2,83h.8M178.9,83.6h.8M180.9,85.7h.8M210.1,85.4h.8M180.7,83.8h.8M184.3,81.7h.8M195.6,91h.8M181.5,85.5h.8M195.8,81.4h.8M178.4,90.8h.8M201.2,81.1h.8M188.5,85.8h.8M195.2,82.2h.8M194.3,89h.8M191.6,86.2h.8M186.8,85.3h.8M190.7,81.3h.8M178.7,95.5h.8M200,93.5h.8M197.5,80.9h.8M189.8,88.3h.8M194,79.9h.8M180.6,84.1h.8M188.4,86.2h.8M198.5,85.2h.8M206.7,88.4h.8M182.2,89.8h.8M191.8,89.2h.8M180.5,91.7h.8M189.7,92.3h.8M184.7,90h.8M206.5,82.8h.8M183.5,81.1h.8M185.1,91.8h.8M180.6,81.5h.8M194.8,85h.8M208.6,91.4h.8M189.2,89h.8M184.5,94.6h.8M204.5,82h.8M189.4,87h.8M217.5,86.8h.8M186.2,85.7h.8M194.2,85.3h.8M191.6,80.5h.8M185.2,89.1h.8M189.7,84.2h.8M188.2,88h.8M188.5,87.2h.8M194.7,88.8h.8M194.6,82.6h.8M184.7,86h.8M193.2,88.4h.8M198.8,85.2h.8M215.2,81.2h.8M202,95.1h.8M203.6,83.1h.8M191,87.1h.8M188.5,85.8h.8M200.9,91.9h.8M195.5,86.9h.8M202.4,89.7h.8M184,83.1h.8M191.4,90h.8M185.2,85.2h.8M183.8,82.2h.8M230,88.8h.8M183.4,89h.8M197.1,87.8h.8M194.2,79.8h.8M184.6,82.3h.8M198.3,89.1h.8M183.6,84.1h.8M195.2,85.9h.8M197.7,87.4h.8M195.2,85.8h.8M193.9,86.9h.8M191.9,86h.8M186.9,86.8h.8M197.1,87.5h.8M203.4,93.7h.8M190.6,84.7h.8M190.2,83.3h.8M194.2,84h.8M187.4,76.4h.8M196.1,91.2h.8M209.4,91.5h.8M190,89.5h.8M212.2,88.7h.8M191.2,83.2h.8M192.1,87.7h.8M188,84.7h.8M192.3,88.2h.8M197.3,85.5h.8M188.1,88.6h.8M218.1,89.2h.8M179.4,84h.8M191.3,85.9h.8M181.1,88.3h.8M185.3,82.1h.8M179.7,85h.8M182.4,95.3h.8M187,92.5h.8M185.5,81.9h.8M187.6,91.6h.8M192.8,82.3h.8M203.9,93.8h.8M188.4,86.7h.8M179.8,88.9h.8M178.5,84.9h.8M204.2,81.5h.8M202.1,81.2h.8M187.9,86h.8M177.9,80.5h.8M181.2,81.1h.8M182.1,87.1h.8M202.6,92h.8M204.1,86.7h.8M183.7,88h.8M196.3,83.7h.8M190.8,84.9h.8M189.1,89.5h.8M190.7,89h.8M184.2,86.7h.8M212.4,94.7h.8M189.7,87.7h.8M201.5,84.6h.8M205.8,88.1h.8M183.4,90h.8M191,76.6h.8M191.2,91.4h.8M206.6,84.8h.8M197.9,90.2h.8M193.3,86.7h.8M203.9,88.4h.8M188.1,86.9h.8M195.7,89.1h.8M223.6,86.2h.8M183.2,82.5h.8M191.3,88.4h.8M201.8,93.3h.8M205.2,80.9h.8M200.4,84.7h.8M207.1,84.5h.8M195.7,89.4h.8M195.4,84.4h.8M194.6,88.6h.8M184.1,86.4h.8M189.8,84.5h.8M182.1,88h.8M194,73h.8M182.1,92.3h.8M212.7,88.1h.8M198.2,88h.8M191.5,86.5h.8M205.4,84.2h.8M207.6,83h.8M181,78.6h.8M203.4,83.1h.8M183.8,87.2h.8M204.7,81.8h.8M184.2,84.6h.8M184.7,89.4h.8M205.9,92.5h.8M196.1,85.7h.8M201.3,86.8h.8M198,81.1h.8M208,81.5h.8M177.8,79.8h.8M195.5,83.6h.8M186.2,96.6h.8M198,86.9h.8M181.1,82.3h.8M185.7,78.2h.8M191.6,91.7h.8M195.6,86h.8M187.9,85.6h.8M211,88.6h.8M184.5,90.7h.8M191.6,80.9h.8M201,81.3h.8M192.1,91.1h.8M190.1,86.9h.8M205.3,83.6h.8M195,85.9h.8M182,90.3h.8M189.3,83.5h.8M185.7,79.7h.8M184.2,86.6h.8M192.1,85.7h.8M180.9,86h.8M185.5,80.3h.8M199.7,85.7h.8M205.2,88.6h.8M181.2,81.3h.8M195.8,85.9h.8M195.1,83.6h.8M184.5,85.2h.8M198.3,93.2h.8M203.5,84.6h.8M208.2,93.6h.8M219.3,91.6h.8M185,86.6h.8M199.3,85.9h.8M207.4,83.5h.8M188,89.6h.8M179.2,89.4h.8M190,84.9h.8M194.5,78.9h.8M186.4,92.9h.8M202.8,82.1h.8M194.2,87.9h.8M195.5,88.5h.8M202,86.9h.8M217,85.6h.8M206.4,83h.8M193.7,84.9h.8M197.6,89.6h.8M201.6,85.9h.8M196.5,85.1h.8M192.5,87.6h.8M191.3,84.1h.8M196.7,85.9h.8M183.5,89.3h.8M194.5,81.9h.8M199.4,85.4h.8M187,85.8h.8M186.3,86.6h.8M210.5,82.3h.8M203.7,85.4h.8M187.6,79.6h.8M196.4,85.1h.8M180.8,86.8h.8M200.7,84.5h.8M191.2,85.2h.8M182.4,87.4h.8M197.1,84.7h.8M184.3,93.1h.8M202.4,84.4h.8M205.1,82.6h.8M207,85.9h.8M183.9,89.2h.8M178.8,81.3h.8M186.4,90.5h.8M178.4,87.3h.8M207.2,81.6h.8M179.9,89.2h.8M188.8,82.8h.8M193.3,89.4h.8M189.7,82.4h.8M186.4,87.9h.8M201.4,79.5h.8M188.8,87.1h.8M205.6,88.3h.8M191.3,86.7h.8M179.9,89.9h.8M207.5,85.7h.8M181.9,92.4h.8M191.7,87.9h.8M220.9,83.9h.8M190.5,81.2h.8M184.7,92.3h.8M186.8,84.1h.8M191.3,88.7h.8M185.1,90.7h.8M186.1,83.9h.8M200.7,88.3h.8M193.3,92h.8M194.7,83.6h.8M213.2,84h.8M181.2,82.4h.8M199,93.7h.8M202.6,88h.8M193.8,89.9h.8M188.6,83.8h.8M201.1,82.1h.8M203.9,88h.8M180.4,92.6h.8M213.7,88.5h.8M199.8,81h.8M211.3,87.1h.8M201.9,81.7h.8M198.1,79.2h.8M189,85.1h.8M194.5,88h.8M196.1,88.4h.8M179.8,89.4h.8M205.5,90.3h.8M186.2,82.4h.8M191,84.4h.8M195,88h.8M180.8,80.8h.8M184.6,87.1h.8M208.1,79.3h.8M198,90.2h.8M179.8,81.4h.8M190.8,89.5h.8M194,90.3h.8M195.5,81.5h.8M182.9,87.3h.8M189.9,89.7h.8M179.4,91.5h.8M182.3,92h.8M196.7,88.1h.8M183.4,84.8h.8M178.2,87.4h.8M193.7,84.1h.8M200.2,93.8h.8M184.2,79.9h.8M189.9,84.1h.8M202.4,78.6h.8M201.5,84.5h.8M197.3,88.6h.8M208.7,83.3h.8M203.3,84.9h.8M188.3,83.1h.8M206.6,89.5h.8M193.2,83.6h.8M190.7,84.8h.8M199.1,93.9h.8M184.4,85.3h.8M183.5,87.9h.8M199.2,86.3h.8M188.4,89.5h.8M190.9,82.4h.8M186.1,81.9h.8M192.4,86.3h.8M204.1,82.1h.8M188.7,87.5h.8M183.8,85.8h.8M183.2,88.4h.8M197.9,92.8h.8M202.8,87.5h.8M185,85.1h.8M193.3,91.9h.8M198.8,84.3h.8M195.5,81.2h.8M186.4,90.3h.8M193.3,88.5h.8M210.5,88.5h.8M193.9,81.7h.8M190.5,84.5h.8M185.4,88.5h.8M191.7,74.9h.8M185.3,90.3h.8M200.7,80.9h.8M201.7,80.6h.8M219.3,86.6h.8M197.6,82.1h.8M205.9,81h.8M207.8,80.8h.8M193.9,89.9h.8M188.6,88.3h.8M185.4,81.4h.8M198.3,88.9h.8M187.3,84.3h.8M200,83.4h.8M200.3,88.4h.8M193.1,84.4h.8M198.4,83.1h.8M179.7,82.5h.8M197.9,86h.8M185.4,89h.8M193.3,83.4h.8M181.2,92.2h.8M202,87.4h.8M189.4,84.3h.8M204.2,85.4h.8M185.1,87.3h.8M177.9,86.1h.8M197.3,83.7h.8M183.3,87h.8M181.5,87.6h.8M195.1,87.3h.8M199.7,78.3h.8M212.4,86.2h.8M184.2,90.5h.8M182.8,96.5h.8M193.8,78.9h.8M182.4,83.4h.8M201.4,82.2h.8M201.4,81.8h.8M199.6,87.2h.8M180.1,84.9h.8M186.9,86h.8M187.6,87.3h.8M198.6,93.2h.8M188.5,80.4h.8M188.6,88.1h.8M194.8,90.5h.8M189,81.5h.8M186.5,86.7h.8M205,81h.8M185.3,81.9h.8M188.9,93.4h.8M188.4,92.6h.8M211.7,89.5h.8M195.1,86.6h.8M194.1,88.2h.8M185.1,87.4h.8M189.5,85.2h.8M188.7,81.1h.8M199.8,86h.8M186.9,89.8h.8M202.7,89.5h.8M208.4,87.8h.8M189,86h.8M214.2,85h.8M181.9,81.2h.8M189.6,83.8h.8M196.9,87.4h.8M195.7,82.3h.8M187.6,84.1h.8M191.3,87.6h.8M211.4,90h.8M192.3,83.2h.8M191.8,83.9h.8M185.1,79.8h.8M189.7,84.8h.8M185,85.8h.8M191.6,85.7h.8M196.7,82.9h.8M208.2,84.8h.8M185,84.8h.8M209.7,83.3h.8M200.5,83.7h.8M181.3,90.5h.8M188.8,85.7h.8M215.4,89.1h.8M192.1,83.9h.8M200.7,88.9h.8M203.2,87.8h.8M201.4,85.2h.8M196.6,82.9h.8M197.3,83.2h.8M207.4,84.5h.8M203.4,88.2h.8M205,91.4h.8M180.5,86.4h.8M187.1,88h.8M197.9,89.2h.8M199.7,83.2h.8M198.4,93h.8M209.6,87.9h.8M204.9,87.9h.8M204.3,91h.8M198.9,86.9h.8M192.5,85.8h.8M202.1,85.5h.8M196.8,85.5h.8M206.2,86.8h.8M186.2,79.6h.8M203.5,83.1h.8M206.7,89.9h.8M184.7,90.5h.8M214.4,87.6h.8M202.7,87.6h.8M179.5,85.4h.8M206.4,91.7h.8M190.1,83.7h.8M181.1,84.8h.8M193.9,91h.8M181.3,90.2h.8M182.3,85.4h.8M188.9,83.2h.8M185,90h.8M208.6,91.1h.8M190.8,88h.8M187.8,88.1h.8M209.9,86.1h.8M202.7,92.8h.8M188.8,85.6h.8M192.2,89.4h.8M182.1,92.4h.8M180,81.9h.8M204.7,90.9h.8M202.3,93.7h.8M182.5,92.8h.8M192.8,91.3h.8M190.4,90.9h.8M179.1,82.8h.8M200.9,88.9h.8M201.2,97.1h.8M190.7,80.4h.8M178.3,82.6h.8M188.5,83.3h.8M195.1,82.7h.8M198.4,93.5h.8M196.3,93.7h.8M185,89.1h.8M205.8,84.3h.8M182.1,90.6h.8M184.1,85.6h.8M184.6,84.2h.8M181.9,83.6h.8M203.9,79.7h.8M204.7,91.1h.8M215.2,87.9h.8M207.9,88.8h.8M187.3,90.1h.8M206,82.5h.8M212.4,80.4h.8M187.4,85.9h.8M189.3,76.5h.8M184.4,91.3h.8M197.1,89.1h.8M206.7,92.5h.8M208.4,81.7h.8M185.6,80.2h.8M198.2,87.5h.8M193.2,91.5h.8M182.8,86.7h.8M193.2,83.9h.8M179.1,87.2h.8M197.3,78.8h.8M201.2,88.8h.8M192,87.3h.8M201.9,78h.8M193.7,88.2h.8M203.1,89.3h.8M184.5,83.7h.8M217,79.1h.8M203.1,88.2h.8M224.6,89.8h.8M195.6,87.6h.8M203.6,86.3h.8M195.3,87.9h.8M198.8,84.4h.8M195.3,85.3h.8M212,94h.8M181.6,88.9h.8M201.1,83.9h.8M179.2,85.8h.8M199.3,91.1h.8M186,87.2h.8M210.7,89.6h.8M181.3,88h.8M189.8,78.7h.8M177.7,84.1h.8M216.3,92.6h.8M193.6,86.4h.8M190.4,77h.8M190.8,81.1h.8M195.7,91.7h.8M200.1,85.1h.8M190,77.9h.8M191.8,86.3h.8M197.7,86.6h.8M181.9,87.3h.8M181.9,83.2h.8M194.8,88.4h.8M194.7,79.7h.8M216.5,85.7h.8M191,84h.8M188.2,83.9h.8M202.9,83.5h.8M187.7,83h.8M194,80.4h.8M185.6,86.5h.8M191.1,86.9h.8M192.5,85.6h.8M202.6,85.3h.8M197.5,87.7h.8M194.4,90.3h.8M179.6,85.7h.8M181.3,86.6h.8M203.2,92.6h.8M203,84.5h.8M211,85.3h.8M193.9,85.3h.8M212.5,85.1h.8M186.6,82.2h.8M196.4,82.3h.8M193.2,83.1h.8M187.7,81.6h.8M178.7,86.1h.8M207.4,89.9h.8M192.9,85h.8M207,85.6h.8M182.1,85.7h.8M184.9,82h.8M190.9,83.4h.8M192.8,84.3h.8M191.9,88.4h.8M202.6,84.2h.8M204.6,91.7h.8M190,88.3h.8M197.4,80.6h.8M193.2,91.8h.8M200.1,84.3h.8M178.2,87.5h.8M211.1,94.2h.8M183,86.7h.8M196.1,86.6h.8M184.3,83.8h.8M197.3,84h.8M207.3,81.7h.8M180.9,89.3h.8M200.1,90.2h.8M189.7,94.9h.8M190.7,83h.8M201.9,84.5h.8M204,90.4h.8M196.4,94.1h.8M184.4,80.2h.8M205.6,79.7h.8M217.3,83h.8M187.7,87.5h.8M189.3,95.6h.8M205.2,84.5h.8M186.1,89.8h.8M187.1,83.7h.8M178.3,86.7h.8M184.6,85.1h.8M197.8,94.2h.8M195.3,81.1h.8M191.3,84.8h.8M196,88.1h.8M193.2,81.7h.8M185.2,80.1h.8M204.3,83.7h.8M185.7,87.6h.8M198.3,85.2h.8M178.8,86.7h.8M182.9,89.7h.8M187.8,91.4h.8M187,88.6h.8M208.9,86.8h.8M211.9,82.9h.8M195.4,81h.8M211.4,80.2h.8M182.2,94.8h.8M183.1,84.3h.8M220.5,86.5h.8M188.4,87.3h.8M192.4,84h.8M179.3,81h.8M187.5,93.5h.8M181.3,81.6h.8M189.6,86.5h.8M178.3,81.4h.8M183.8,86.7h.8M193.1,76.3h.8M190.8,86h.8M187.2,83.7h.8M198.6,89h.8M180.6,94.7h.8M190.2,74.8h.8M206.7,93.4h.8M185.9,83.2h.8M196.7,90.7h.8M199.3,82.9h.8M193.6,86.9h.8M197.3,88.9h.8M190.6,83.4h.8M183.2,87.8h.8M190.2,83.9h.8M189.3,83.4h.8M227.1,86.2h.8M195.6,85.9h.8M186.9,91.8h.8M192.4,92.5h.8M177.9,83.6h.8M188.8,84.9h.8M219,86h.8M189.1,89.6h.8M220.1,91.1h.8M191.7,95.1h.8M192.5,86.9h.8M188.4,82.9h.8M184.1,85h.8M195.1,83.4h.8M178.3,83h.8M194.6,90.4h.8M212.8,90.9h.8M181.9,78.6h.8M188.7,83.9h.8M188.7,83.5h.8M188.4,87.5h.8M201.2,88h.8M212.6,78.5h.8M185.3,88.1h.8M204.3,92.7h.8M192.7,83.6h.8M201.9,82.8h.8M212.6,85.1h.8M195.8,84.8h.8M197,88.5h.8M189.6,80.9h.8M192.9,86.3h.8M186.2,89h.8M197.9,85.1h.8M210.3,88.7h.8M201.2,86.9h.8M185.7,85.9h.8M179.2,92.1h.8M194.1,88.1h.8M180.4,85.7h.8M190.2,84.5h.8M200.4,87.2h.8M183.3,85.6h.8M198.3,83.8h.8M202.3,82.8h.8M184.9,87.1h.8M219.8,87.8h.8M204.7,93.6h.8M185.5,81.3h.8M198.3,84h.8M194.4,84.7h.8M185.8,93.7h.8M206.4,83.4h.8M189.7,85.7h.8M182.7,85.8h.8M186.6,87.9h.8M207.2,82.9h.8M194.5,84.3h.8M190.3,82.3h.8M197.6,86.2h.8M196.9,86.3h.8M186.4,80h.8M180,91.4h.8M198.8,83.1h.8M200,95h.8M186.3,90.9h.8M194.5,88.3h.8M196.7,83.4h.8M188.7,85.7h.8M179.3,92.5h.8M199.9,88.8h.8M184.8,87.9h.8M183.6,92.7h.8M178.4,82.6h.8M192.2,89h.8M196.8,82.3h.8M182.9,83.1h.8M201.3,92.4h.8M188.9,84.1h.8M180.1,86.8h.8M194.8,81.9h.8M190.6,83.7h.8M199.2,83h.8M187,89.1h.8M195.3,91.2h.8M187.6,87h.8M199.6,86.9h.8M188.8,97.7h.8M184.8,88.3h.8M190.9,85.3h.8M196.6,84.8h.8M216.4,89.2h.8M195.1,91.2h.8M200,87.9h.8M196.5,86.8h.8M204.8,87.2h.8M208.8,82.8h.8M188.5,86.9h.8M210.8,85.6h.8M192.2,93.9h.8M208.4,86.9h.8M200.9,83.1h.8M203.3,80.6h.8M206.4,81.5h.8M191.2,89.1h.8M208,89.6h.8M196.3,91.4h.8M210.3,84.5h.8M198.8,93.1h.8M214.6,98.2h.8M192.2,94.5h.8M206.7,82.9h.8M213,95h.8M198.4,93.4h.8M203.3,96.4h.8M196.7,85.6h.8M203.2,77.3h.8M198.2,88.6h.8M208.1,82.4h.8M191.8,85.1h.8M192.6,89.5h.8M207,85.4h.8M205.3,81.4h.8M201.8,83.8h.8M207.2,89.5h.8M211.1,89.6h.8M202.8,85.6h.8M198.6,82.8h.8M201,85.1h.8M205.2,92.1h.8M200.1,88.1h.8M188.3,83.9h.8M199.7,85.2h.8M201.7,89.8h.8M206.3,85.6h.8M211,89.3h.8M212.1,85h.8M212.9,75.8h.8M195.4,88.9h.8M198.9,82.7h.8M201.8,82.5h.8M200.1,86.9h.8M205,90.6h.8M193.8,89.8h.8M201.5,92.8h.8M204.2,92h.8M198.6,87.8h.8M207.9,87.6h.8M208.2,90.6h.8M203.3,80.8h.8M208.5,82.2h.8M205.9,87.9h.8M200,80.2h.8M195.8,77.9h.8M209.1,85.5h.8M210.3,83.6h.8M203.9,83.7h.8M195.6,96.9h.8M194.6,83.1h.8M213.3,89.2h.8M212.5,84.7h.8M207,93.6h.8M200,85.2h.8M199,88.4h.8M193.2,91.5h.8M194.4,84.2h.8M203.8,85.3h.8M197.2,85.5h.8M206.8,90.7h.8M202,91.9h.8M208.5,83.7h.8M206.1,85.8h.8M195.2,87.2h.8M198.8,93h.8M201.3,86.5h.8M201.4,84.8h.8M195.7,82.3h.8M216,79.8h.8M210.2,90h.8M199.3,77.8h.8M203.5,83.5h.8M196.5,96h.8M193.5,93h.8M205.9,82.8h.8M208.5,80.3h.8M194.7,90.8h.8M204.5,85.7h.8M201.4,88.3h.8M192.6,93h.8M211.6,92.3h.8M216.9,88.5h.8M206.7,84.6h.8M202.2,85.7h.8M201.8,88.5h.8M193.8,92.4h.8M193.2,89.5h.8M195.7,82.1h.8M202.3,82.1h.8M205.1,87.8h.8M198.4,80.2h.8M206.8,80.4h.8M198.6,91.8h.8M191.9,87.8h.8M206.8,89.7h.8M198.2,87.4h.8M206.7,81.4h.8M205.7,95.6h.8M205,83.3h.8M212.3,89.7h.8M195.2,84.8h.8M212.6,99.6h.8M213.8,86.8h.8M199.1,88.6h.8M207,90.1h.8M204.2,83h.8M190,90.1h.8M199.3,94.2h.8M203,90.9h.8M199.5,91.4h.8M203.9,89.6h.8M203.7,85h.8M205.5,94.6h.8M200.2,90.6h.8M203.2,87.8h.8M205.9,86.7h.8M200.4,90.9h.8M199.3,93.3h.8M203.2,84.2h.8M209,77.8h.8M202.3,87.8h.8M211.7,85.3h.8M215,83.1h.8M202.2,94.3h.8M207.3,79.4h.8M200.7,88.8h.8M195.9,84.3h.8M193.6,91.2h.8M195.9,87.5h.8M204.6,83.8h.8M215,81.8h.8M195.1,81.8h.8M216.5,92.4h.8M207.1,93h.8M199.2,88.9h.8M191.5,90.4h.8M202.1,85.6h.8M201.3,83.5h.8M201.3,75.3h.8M199.3,89.4h.8M196.8,85.3h.8M210.3,95.8h.8M206.2,87.4h.8M196,84.8h.8M210.6,84.2h.8M211.5,96.6h.8M196.3,91.1h.8M199.2,81.6h.8M196.1,81.6h.8M209,92.3h.8M205.4,86h.8M209.8,84.7h.8M192.6,84.5h.8M194.4,81.3h.8M184.4,76.2h.8M199.7,88.6h.8M192.8,94.7h.8M193.9,84.1h.8M199.1,79.8h.8M198.4,93.3h.8M202.6,85.7h.8M195.5,90.3h.8M206.8,80.1h.8M200,91.1h.8M196.2,83.1h.8M203.1,88.6h.8M208.6,92.8h.8M213.8,81.5h.8M203.3,88.9h.8M208,85.5h.8M204.8,89.2h.8M217.5,88h.8M202.3,91h.8M196.2,81.5h.8M201.9,84.6h.8M193.9,79.9h.8M209.9,86.7h.8M201.4,84.9h.8M191.3,82.1h.8M203.3,83.5h.8M211.4,90.5h.8M197.9,79.5h.8M206.6,86.5h.8M215.7,89.9h.8M207.2,87.8h.8M203.2,90.7h.8M211.6,83.1h.8M197.6,87.4h.8M211.5,82.2h.8M209.6,88h.8M202.6,83.4h.8M204,87h.8M200.7,88.9h.8M196.6,87h.8M209.6,90.7h.8M205.9,89.6h.8M204.1,87.2h.8M205.6,82.4h.8M205.4,89.5h.8M216.4,91h.8M201.7,92.8h.8M191.5,85.3h.8M203.9,86.7h.8M207.5,89.2h.8M194.4,89.2h.8M212.7,88.4h.8M199.5,84.6h.8M198.6,89.7h.8M206.2,88.7h.8M197.5,81.9h.8M213.1,90.1h.8M193.6,85.4h.8M195.8,85.7h.8M197.2,84.7h.8M194.3,84.3h.8M206.5,87.3h.8M202.7,82.6h.8M205.5,87.2h.8M198.7,89.4h.8M205.8,89.8h.8M198.4,76.9h.8M219.6,96.9h.8M207.5,85.9h.8M199.4,92.4h.8M203.5,85h.8M203.3,88.5h.8M190.3,83.4h.8M201.5,88.5h.8M202.2,86.9h.8M204.5,82.2h.8M205.8,89h.8M205.2,82.5h.8M204.2,92h.8M213.4,80.8h.8M202.5,87.4h.8M205,86.8h.8M207.8,73.6h.8M204.7,88.1h.8M202.2,94h.8M195.6,88.6h.8M201.9,90.2h.8M204,84h.8M208.2,84.9h.8M203.4,87.7h.8M204.8,83.5h.8M208.4,85.8h.8M198.5,80.5h.8M212.7,89.6h.8M207.3,81.6h.8M204.2,75.1h.8M215.5,77.9h.8M199.7,91.3h.8M203.8,87.1h.8M203.1,87.4h.8M196.5,78.5h.8M214.1,92.6h.8M198.7,83.2h.8M198.3,94.5h.8M192,83.3h.8M200.4,75.2h.8M199.4,93h.8M190,86.2h.8M207.6,95.5h.8M209.3,85.6h.8M201.8,83.8h.8M208.4,88.5h.8M201.8,83h.8M222.3,85h.8M198.9,81.6h.8M201.7,93.3h.8M192.4,88.8h.8M205.6,83.9h.8M201.6,82.2h.8M200.6,88.4h.8M204.4,84.1h.8M204.5,83.8h.8M198.1,85.2h.8M199.3,93.5h.8M203.7,80.2h.8M210.2,88.6h.8M210.1,86.7h.8M196.3,93.4h.8M206.9,84.7h.8M208.1,89.7h.8M211.8,90h.8M199,89.4h.8M205.8,83.4h.8M202.6,82.5h.8M203.9,86.8h.8M201.5,88.4h.8M198.8,80.1h.8M204.9,84.5h.8M203.1,87.6h.8M199.1,89.7h.8M209.9,91.5h.8M211.5,92.7h.8M206.6,90h.8M192.9,88.3h.8M194.2,86h.8M204.7,82h.8M198.3,83.4h.8M205,88.2h.8M209.2,84.1h.8M200.6,85.3h.8M212.5,93.8h.8M216,94.5h.8M204.7,93.2h.8M209.3,82h.8M200.8,93.4h.8M206.5,91h.8M207.6,83.3h.8M204.7,89.1h.8M188.8,84h.8M209.8,87h.8M199.1,92.6h.8M189,93.8h.8M205.6,89h.8M204.4,86h.8M200.6,87.2h.8M197.3,87.3h.8M199.6,89.6h.8M205.2,89.6h.8M209.7,91.8h.8M200.8,91.8h.8M191,84.9h.8M204.5,81.4h.8M195.4,82.6h.8M213.5,89.8h.8M199.2,97.5h.8M200.3,90.9h.8M204.2,101.2h.8M194.5,87.3h.8M201.9,80.6h.8M205.9,86.4h.8M203.7,92.3h.8M203,90.1h.8M208.1,92.9h.8M212.2,90.6h.8M201,84.2h.8M187.3,93.4h.8M189.2,86.4h.8M207.2,87.4h.8M202.8,81.5h.8M206.3,81.9h.8M200,92.4h.8M214.9,85.8h.8M197.5,91h.8M211.6,79.4h.8M204.6,93.1h.8M187.8,89.4h.8M205.3,84.3h.8M205.9,84h.8M212.8,95.5h.8M203,84.7h.8M202.3,84.4h.8M202.9,84.4h.8M192.1,81.6h.8M209.6,88.2h.8M207.1,95.2h.8M204.2,87.4h.8M205.7,91.4h.8M187.3,92.2h.8M205.9,89.4h.8M196.9,95.3h.8M199.9,90.4h.8M203.4,95.1h.8M210.7,81.9h.8M202,80.1h.8M207.6,87.8h.8M208.6,90.8h.8M201.6,91.3h.8M202.6,76h.8M201.7,85h.8M212.8,86.7h.8M203.8,85.7h.8M205,78.9h.8M207.5,83.5h.8M212.1,93.7h.8M210.2,85.5h.8M197,86.3h.8M186,86.1h.8M202.1,83.6h.8M208.1,80.8h.8M203.6,97.9h.8M207.6,92.4h.8M201.7,90.9h.8M202.7,81.2h.8M207.7,86.3h.8M214.7,89.8h.8M198.1,88.7h.8M213.2,80.4h.8M215.8,82.8h.8M211.7,90.8h.8M209.6,91.3h.8M203.5,87.6h.8M195.7,88.8h.8M206.1,94.8h.8M198.1,80h.8M190.3,83.5h.8M193.8,87.2h.8M197.6,91.5h.8M190.7,88.4h.8M216.3,80.2h.8M214,82.2h.8M199,88.7h.8M190.2,88.9h.8M184.8,83.5h.8M196.7,86.9h.8M205.6,89.5h.8M209.2,90.3h.8M197.4,91.7h.8M200.1,90.1h.8M212.9,88.1h.8M202.4,93.5h.8M204.6,83.6h.8M195.6,78h.8M202.8,93.7h.8M209.9,92.9h.8M201.2,91.9h.8M194,90.6h.8M200.5,89.8h.8M200.8,81.1h.8M201.6,94.4h.8M205.2,84.3h.8M197.5,84.1h.8M208.1,87.6h.8M211.7,85.4h.8M189,88.4h.8M193.7,84.2h.8M204.9,89.3h.8M223.3,88h.8M211.2,88.7h.8M206.5,86.7h.8M209.7,88.5h.8M198,84.6h.8M201.3,84.6h.8M198.5,87.2h.8M204.1,86.2h.8M200.5,95.9h.8M199.1,82.1h.8M202.2,78.7h.8M195.1,89.9h.8M195.2,80.6h.8M219.6,89.5h.8M217.8,88.9h.8M202.8,85.6h.8M199.7,85.9h.8M200.3,84.5h.8M196.9,91.6h.8M207.8,85.3h.8M199.9,85.3h.8M203.3,80.1h.8M213.2,84.6h.8M195.1,83.2h.8M211.9,91.2h.8M210.3,92h.8M196,86.9h.8M203,82.3h.8M188.9,83.2h.8M202.1,89.6h.8M196.3,91.6h.8M200.8,86.6h.8M192.1,89.3h.8M198.7,87.2h.8M207.3,83.5h.8M198.2,86.1h.8M207,87.3h.8M195.8,87.6h.8M207.9,80h.8M205.2,90.6h.8M186.6,85.3h.8M197.2,83.1h.8M193.6,91.5h.8M198.1,83.5h.8M199.2,80.8h.8M209.6,91.5h.8M205,83.4h.8M194.2,75.8h.8M198.9,89.2h.8M203,88.5h.8M192.5,87.6h.8M201.6,92h.8M207.2,91h.8M204.6,82.6h.8M195.7,88.2h.8M201.4,77.9h.8M209.8,98h.8M201.5,78.8h.8M201.4,88h.8M197.2,90.2h.8M204,88h.8M204.1,82.4h.8M216.5,83.4h.8M198.8,89.2h.8M201.7,89.8h.8M203,87.9h.8M201.2,93.6h.8M208.3,90.2h.8M198.6,82h.8M214.6,84.5h.8M191.8,83.5h.8M194.9,81.8h.8M203.2,83.3h.8M193.7,91h.8M201.5,91.4h.8M214.8,85.5h.8M202.3,87.2h.8M213.1,88.1h.8M207.4,81.1h.8M192.2,86.4h.8M197.6,91.4h.8M203.5,79h.8M201.6,77.6h.8M200.6,90h.8M204.7,96.6h.8M204.2,85.1h.8M204.7,81.5h.8M200,89.4h.8M203.7,88.6h.8M210.9,88.6h.8M198.8,89.7h.8M193.4,86.9h.8M194.7,83.3h.8M201.6,92.1h.8M214.2,94.8h.8M214.2,86.8h.8M200,78.4h.8M193.6,86.9h.8M202.9,80.6h.8M210.5,87.7h.8M204.4,90.2h.8M206.6,84h.8M197.6,91.3h.8M211.8,88.8h.8M204.9,95.4h.8M205.3,90.1h.8M196.3,86.1h.8M194.9,88.6h.8M205.3,77.7h.8M208,95.2h.8M197,80.9h.8M195.2,87.2h.8M197.2,87.3h.8M204.7,91.7h.8M203.8,89h.8M208.4,90.1h.8M206.8,88.7h.8M210.6,79.8h.8M197.9,86.6h.8M200.3,79.6h.8M193.4,87.2h.8M199.9,87.8h.8M196.2,90.4h.8M199.8,92.2h.8M209.9,86.7h.8M199.4,89.5h.8M209.3,84.7h.8M206.1,90.4h.8M206.4,92.1h.8M203.7,87h.8M207,82.3h.8M216.1,91.7h.8M193.1,89.2h.8M214,87.8h.8M196.7,87.9h.8M198.4,85.8h.8M208.2,93.3h.8M192.4,84.2h.8M202.2,84.3h.8M202.5,88.2h.8M208.7,79h.8M210.8,84.4h.8M213,87.8h.8M198.7,83.8h.8M210.8,89.4h.8M201.4,84.5h.8M206.5,88h.8M203.4,78.2h.8M204.2,91h.8M198.9,87.2h.8M207.6,80.2h.8M190.8,90.1h.8M203.3,91.6h.8M201.1,85.2h.8M208.6,91.9h.8M201.5,87.8h.8M201.8,83.5h.8M201.3,86.4h.8M206.6,91.5h.8M201.5,83.4h.8M206,85.2h.8M195.5,84.5h.8M197.2,82.5h.8M195.4,87.4h.8M208.2,86.6h.8M194.8,84.9h.8M217.8,94.6h.8M196.7,86.4h.8M196.2,81.4h.8M207.7,88.6h.8M210.6,92.6h.8M203.8,85.4h.8M202.1,91.3h.8M204.4,83.3h.8M194.8,95.2h.8M202.4,87.5h.8M209.2,93.7h.8M187.2,84.7h.8M203.2,84.7h.8M205.5,79.1h.8M211.3,76.9h.8M201.5,82.4h.8M198.9,90.8h.8M203.1,81.4h.8M204.6,89.8h.8M198.8,89.6h.8M197.9,86.2h.8M199.7,85.3h.8M206,83.9h.8M210.7,91.7h.8M199.5,86h.8M202.2,89.4h.8M193.2,86.4h.8M208.3,82.3h.8M191.6,85h.8M196.2,85.9h.8M208.8,94.6h.8M216,80.2h.8M203.9,84.6h.8M204.5,95h.8M204.3,90h.8M210.5,88.9h.8M201.1,83.1h.8M220,90.4h.8M211.1,84.1h.8M188.7,83.8h.8M202.7,82.8h.8M202.3,88h.8M197.1,86.7h.8M205.8,85.4h.8M198.6,88.7h.8M206.1,80.7h.8M212.3,85.7h.8M204.9,79.4h.8M187.7,82.3h.8M210.2,83.5h.8M208.6,82.4h.8M208.8,81.2h.8M209.7,83.6h.8M202,95.1h.8M197.4,86.8h.8M202.3,84.2h.8M206.4,87.8h.8M202.2,90.2h.8M206.1,84.7h.8M205,79.6h.8M202.6,84.9h.8M204,81h.8M193.1,91.3h.8M195.8,84.9h.8M205.8,90.7h.8M205.7,87.2h.8M194.7,90.6h.8M207.6,78.6h.8M200.3,97.7h.8M207.2,77.9h.8M195.9,87h.8M188.8,89.3h.8M195,90.5h.8M203.8,83.4h.8M211.4,92.7h.8M203.8,86.3h.8M205.8,80.7h.8M194,84.8h.8M199.2,83.2h.8M211.3,94.5h.8M213.7,91.8h.8M207.9,92.2h.8M201,89.4h.8M195.6,90.1h.8M198.6,87.7h.8M199.2,91.1h.8M204,95.8h.8M204.7,86.1h.8M203.4,85.2h.8M216.1,81.4h.8M234.9,86.9h.8M228.4,81.8h.8M235.2,90.3h.8M224.8,88.7h.8M227.3,86.3h.8M206.3,88.8h.8M229.6,87.6h.8M206,78.1h.8M224.8,76.2h.8M220.2,87.9h.8M221.8,81.6h.8M234.8,79.6h.8M213.6,79.3h.8M235.3,82.2h.8M241.1,82.3h.8M226.4,82.3h.8M221.1,85.9h.8M223.7,80.1h.8M214.7,93.8h.8M224.3,84.6h.8M221.4,87.2h.8M221.6,84.9h.8M225.3,91.7h.8M197.3,85.1h.8M221.7,92.1h.8M237.9,83h.8M221.7,86.3h.8M212,83.1h.8M212.5,81.8h.8M213,84.1h.8M207.3,83.9h.8M219,79.1h.8M229.8,89.2h.8M214,91.8h.8M211.3,83h.8M214.4,83.3h.8M219,84h.8M238.1,90.3h.8M224.1,85h.8M230.3,87.1h.8M227.8,76.5h.8M242.4,80.9h.8M234.5,84.9h.8M236.6,84.3h.8M237.9,83.3h.8M236.8,77.5h.8M223.8,88.4h.8M210.5,83.4h.8M226.2,86.4h.8M230.5,87h.8M233.4,80.4h.8M221.9,86h.8M229.2,82h.8M227.6,79.8h.8M216.6,92.7h.8M224.2,91.5h.8M219.6,83.4h.8M220.4,86.5h.8M200.9,84h.8M222.5,85.8h.8M226.6,92.3h.8M221.3,84.9h.8M219.9,77.5h.8M222.8,86.7h.8M226,87.3h.8M222.5,76.8h.8M229.5,87.1h.8M217.8,81.8h.8M228.2,84.1h.8M221.2,81.7h.8M227.8,84h.8M227.3,80.3h.8M210.9,89.6h.8M211.4,79.3h.8M225.4,78.1h.8M219.7,87.7h.8M220.8,77.8h.8M237.6,85.5h.8M231.5,75.3h.8M227.1,81.2h.8M226.8,93.9h.8M218.1,90.1h.8M228.5,77.6h.8M215.6,82.2h.8M226.3,92.6h.8M209.1,80h.8M243.5,76.4h.8M222.3,84.5h.8M226.4,90.3h.8M227.7,82.4h.8M232.7,75.5h.8M241.6,82.3h.8M216.9,83.1h.8M216.8,87.4h.8M247.9,75.9h.8M222.5,82.2h.8M223.3,89.6h.8M226.2,84.4h.8M215.3,78.4h.8M231.9,91.2h.8M218,77.2h.8M205.1,76.3h.8M232.4,83.5h.8M221.8,72.7h.8M234.8,79.7h.8M214.9,90.1h.8M225.2,84.3h.8M213.2,78.4h.8M225.7,89.6h.8M224.1,86.8h.8M217,86.5h.8M228.9,84.8h.8M223.9,78.1h.8M221.7,89.8h.8M222.5,87.3h.8M221,84.6h.8M219,87.3h.8M212.8,92.8h.8M211.5,87.8h.8M222,79h.8M226.7,79h.8M223.7,89.2h.8M229.1,84.3h.8M229.7,86.7h.8M227.2,83.8h.8M214.1,84.2h.8M224.9,92.3h.8M214.7,83.6h.8M234,91.5h.8M206.3,90.1h.8M233.9,87.8h.8M216,87.2h.8M232.5,88.6h.8M219.9,87.2h.8M222.8,84.1h.8M205.9,80.5h.8M218.9,93.3h.8M223.4,85.5h.8M216.5,95.9h.8M202.8,100.7h.8M207.1,105h.8M198.8,96h.8M199,95h.8M206.2,96h.8M193.2,100.5h.8M204.1,101.4h.8M205.4,97.9h.8M207.6,99.3h.8M198.9,107h.8M202,95.2h.8M201.6,102.4h.8M209.7,95.6h.8M205.5,103.5h.8M204.4,105.4h.8M198.9,98.2h.8M200.3,103.5h.8M206.5,103.1h.8M203.9,100.2h.8M207.8,108.7h.8M206.7,95.8h.8M203.6,99.4h.8M201.5,89.9h.8M201.7,99.6h.8M200.4,102h.8M207.1,94.5h.8M207.5,100.9h.8M203.5,100.9h.8M200.1,92.3h.8M201.1,88.7h.8M201.9,96.2h.8M199.8,102.1h.8M202.1,103.5h.8M204.7,105.9h.8M205.6,97.3h.8M201.6,102.9h.8M209.3,96.3h.8M204.8,108.4h.8M204.6,93.3h.8M207.9,97.2h.8M209.5,100.3h.8M210.5,98.4h.8M201.8,103.6h.8M200.5,100.5h.8M192.9,99.6h.8M204.9,104.5h.8M202.1,100h.8M198.5,93.9h.8M208,98.4h.8M201.3,99.4h.8M203.2,97h.8M206.7,98.2h.8M203.4,99.5h.8M200.8,93h.8M209.7,99.1h.8M208.1,99h.8M191.8,102.9h.8M197.7,95.7h.8M209.5,92.8h.8M201.9,103.5h.8M193.3,95.9h.8M209.5,100.5h.8M201.7,101.4h.8M210.1,101.2h.8M201.1,99.8h.8M206,95.8h.8M208.8,103h.8M199.8,96.2h.8M200.3,92.8h.8M202.2,99.6h.8M203.7,96.8h.8M202.8,103.2h.8M201.6,102.4h.8M199.9,92.9h.8M204.4,101h.8M208.7,91.9h.8M204,112.3h.8M207,94.3h.8M207.2,101.1h.8M203.2,94.6h.8M208.7,100.2h.8M202.8,110.7h.8M194.5,99.3h.8M198.6,99.4h.8M200.9,102.4h.8M202.6,97.4h.8M206.3,95.4h.8M199.1,91h.8M204.4,98h.8M203.3,101.1h.8M203.9,100.6h.8M200.8,94.8h.8M209.2,95.2h.8M200.4,97.4h.8M209.3,101.4h.8M191.6,96.6h.8M206,93.6h.8M203.3,110.6h.8M200.7,100.9h.8M206.7,109.2h.8M203.3,93.6h.8M202.2,97h.8M195.2,99.8h.8M201.5,95.2h.8M203.4,101.8h.8M199.3,94h.8M200.8,88.7h.8M205.8,98.9h.8M205.3,104.7h.8M205.6,100.9h.8M208,99.7h.8M209,102.6h.8M204,105.6h.8M203.7,91.8h.8M209.2,104.2h.8M201.5,99h.8M199,107.3h.8M212.5,102.6h.8M212.1,94.5h.8M207.2,99.8h.8M199.8,97.9h.8M205.2,101.4h.8M203.2,98.1h.8M197.2,99.2h.8M205.4,100.2h.8M208,98.6h.8M204,98.6h.8M204.8,103.1h.8M205.2,105.5h.8M200.2,94.8h.8M207.8,91.9h.8M206,105h.8M197.4,96.7h.8M206.3,90.4h.8M197.3,99h.8M204.1,97.2h.8M208.8,102.1h.8M209.3,100.9h.8M201.6,96.3h.8M208.6,94.6h.8M202.3,95.9h.8M206,103.6h.8M205.9,92.3h.8M207.4,99.9h.8M207.3,102h.8M199.4,106.2h.8M200.8,102.3h.8M204.2,96h.8M204.9,87.6h.8M209.5,103h.8M209.4,94.6h.8M204.4,99.4h.8M201.1,102.4h.8M199.7,105.5h.8M204.6,97.7h.8M211.1,100.5h.8M201.4,99.5h.8M204.7,98.3h.8M208.9,91h.8M203.3,88.9h.8M202.8,100.5h.8M205.1,108.4h.8M207.9,96.2h.8M203.6,99.1h.8M193.7,96.7h.8M197.5,93.8h.8M201.1,101.4h.8M201.5,100.3h.8M205.5,98.2h.8M212.4,95.5h.8M205,98.4h.8M205,96.8h.8M200.5,98.5h.8M199.5,92h.8M204.4,91.3h.8M212.6,101.7h.8M201,94.6h.8M195.3,95.5h.8M196.4,97.9h.8M202,93.5h.8M204.9,100.4h.8M204.3,104.5h.8M199,93.5h.8M201.3,96h.8M205.8,102.1h.8M191.9,107.2h.8M203.3,101h.8M205,93.3h.8M200.9,98.2h.8M207.5,108.6h.8M209.5,110.4h.8M202,103.9h.8M205.4,99.9h.8M204,98.4h.8M201.3,102.2h.8M199.3,101.7h.8M204.8,99.1h.8M199.7,93.8h.8M201.9,99.1h.8M208,99.4h.8M210.6,98.9h.8M212.5,92.1h.8M194.1,101.3h.8M202.6,100.2h.8M200.5,90.6h.8M205.1,98.7h.8M200.4,96.9h.8M197.2,102.3h.8M201.7,112h.8M209.5,98.7h.8M200.5,90.5h.8M207.1,94.6h.8M203.3,100.5h.8M206.2,95.6h.8M197.8,104.1h.8M209.4,106.7h.8M206.4,94.4h.8M215.4,98.5h.8M205.2,104.1h.8M202.1,91.3h.8M198.5,104.3h.8M212.8,101.9h.8M207.5,103h.8M204.1,98.8h.8M202.5,100.7h.8M202.6,99.7h.8M202.2,90h.8M198.5,94.2h.8M210.8,98.2h.8M208.3,107.1h.8M203.3,91.8h.8M203.7,100.8h.8M199.2,99.6h.8M203.9,100.2h.8M204.8,109.7h.8M203.1,89.9h.8M204.4,113.8h.8M203.4,98.2h.8M201.1,105.8h.8M206.9,101.9h.8M205.1,97.2h.8M208.1,100.3h.8M206.1,91.1h.8M204.2,102.4h.8M204.7,94.8h.8M207.6,98.9h.8M199.7,103.1h.8M199.6,97.4h.8M209.4,101.9h.8M201.9,102.4h.8M208.9,106.7h.8M200.5,95.9h.8M199.5,96.4h.8M209.9,99.1h.8M214,104.3h.8M204.7,101.3h.8M211.3,90.7h.8M206.9,102.4h.8M205.3,93.2h.8M200.8,91.9h.8M202.3,95.4h.8M201.9,99.6h.8M200.3,100.9h.8M200.6,97.5h.8M204.8,95.3h.8M209.1,99.6h.8M207.3,103.9h.8M203.6,97h.8M198,102.8h.8M205.2,103.8h.8M200.1,92.3h.8M208.9,98.8h.8M205.7,95.4h.8M200.5,102.5h.8M200.2,92.5h.8M204.3,89.1h.8M195.1,92.6h.8M204.2,110.8h.8M205.5,99.7h.8M205.3,104.1h.8M210.3,108h.8M202.2,92.8h.8M201.9,100.6h.8M200.6,96.8h.8M201.1,102.6h.8M207.8,85.6h.8M209.7,96h.8M202.5,100.6h.8M204.1,79h.8M205.8,98.1h.8M210,109.9h.8M204.1,91.6h.8M205.5,103.2h.8M200.6,103h.8M206.6,109h.8M199,100h.8M206.7,95.4h.8M207.8,88.2h.8M196.1,103.1h.8M200.5,97.2h.8M215,102.1h.8M200.8,98h.8M203.2,89h.8M207.7,101h.8M201.3,100.9h.8M205.6,99.5h.8M207.9,97.7h.8M198.9,95.9h.8M202.7,90.9h.8M203.7,95.2h.8M203.7,102.3h.8M207,105.2h.8M208.5,101.4h.8M203.2,89.6h.8M204.7,102.2h.8M201.7,101.7h.8M202.8,94.9h.8M198.8,102h.8M207.7,100.7h.8M199,95.8h.8M203,92.5h.8M206.1,103.7h.8M203,98.2h.8M201.2,99.1h.8M203.3,101.8h.8M199.5,99.6h.8M203.2,98.8h.8M198.3,93.7h.8M202.5,99h.8M203.3,93.6h.8M199,109h.8M202.5,97.5h.8M214.1,102.5h.8M207.8,111.2h.8M200.1,101.6h.8M194.6,98h.8M199.6,101.9h.8M198.5,103.6h.8M201.1,103h.8M198.2,97.8h.8M204.2,109.4h.8M206.1,97.6h.8M213.6,105.2h.8M211,102h.8M199.3,86.2h.8M209.8,98.6h.8M196.8,98.8h.8M201.2,102.5h.8M205.4,101.7h.8M197.5,88.9h.8M202.9,101h.8M205.1,93.4h.8M196.7,99.9h.8M201.1,105.8h.8M207.1,108.7h.8M199.9,95.8h.8M196,91.8h.8M205.7,105.6h.8M203,99.8h.8M201.4,98.5h.8M200.7,101.6h.8M206.4,100.3h.8M205.3,98.1h.8M209.7,94.7h.8M206.5,93.9h.8M203,102.4h.8M200.6,97.6h.8M209.9,104.2h.8M201.3,104.2h.8M206.3,104.9h.8M202.5,93.3h.8M206.2,96.2h.8M210,97.6h.8M202,106.6h.8M212.4,103.8h.8M204.1,92.1h.8M209.4,93h.8M206.2,98.8h.8M200.3,100.8h.8M204,99.4h.8M196.3,92.9h.8M198.4,104.1h.8M209.6,96.8h.8M203.6,94.3h.8M207,103.5h.8M205.2,106h.8M209.8,98.4h.8M196.8,93.6h.8M210.2,88.9h.8M206.3,98.1h.8M204.7,101.1h.8M199.4,98.1h.8M203.9,100.1h.8M200.3,96.3h.8M204.2,91.8h.8M197.5,104.9h.8M207.2,90.1h.8M199.3,102h.8M199.5,100.5h.8M208.1,95.1h.8M199.8,97.8h.8M204.2,92.3h.8M205.3,93.8h.8M200.4,102h.8M201.9,98.8h.8M204.7,94.7h.8M211.4,103.3h.8M197.9,101.2h.8M201.1,94.3h.8M200.3,98.8h.8M198.2,103.1h.8M196.8,99.4h.8M204.3,100.6h.8M200.4,90.5h.8M200.8,96.1h.8M202.5,104.5h.8M204.6,106.3h.8M206.5,104.7h.8M201.8,93.5h.8M201,100h.8M199.7,106.2h.8M201.8,91.2h.8M202,88.8h.8M201.4,100.1h.8M202.4,98.4h.8M204.8,92.9h.8M196.6,89.7h.8M200.6,100.7h.8M209.3,94.5h.8M207.9,96.8h.8M197.2,101.8h.8M212.3,89.1h.8M192.3,104.5h.8M205.6,97.1h.8M208.3,95.7h.8M204.2,106h.8M202.1,85.6h.8M203.6,111.4h.8M202.7,88.7h.8M203.9,96.4h.8M201.4,100h.8M200.9,81.4h.8M205,99.8h.8M206.2,90.9h.8M209.9,100.1h.8M205.1,106.4h.8M204.8,101.5h.8M205.7,97.8h.8M199.6,104.3h.8M198.7,108.6h.8M198.3,100.2h.8M187.2,101.6h.8M185.3,94.7h.8M186.7,108h.8M180.9,98.2h.8M190.2,102.8h.8M212.8,107.6h.8M182.5,88.5h.8M178.8,104.9h.8M179.4,115.8h.8M221.5,106.9h.8M200.7,97.1h.8M190.3,109.2h.8M207.5,117.2h.8M181.6,96.8h.8M194.1,106h.8M188.4,99.8h.8M211.5,104h.8M184.5,101.8h.8M202.7,101.3h.8M180.1,97.5h.8M186.7,111.8h.8M189.8,111.6h.8M195.6,103.9h.8M194.2,101.1h.8M203.5,107.1h.8M181.5,86.8h.8M206.1,102.9h.8M222.6,111.1h.8M192.2,103.4h.8M178.8,107.9h.8M183.4,107h.8M184.5,99.1h.8M193.5,97.8h.8M183.8,112.4h.8M197.3,101.1h.8M181.1,114.1h.8M183.3,103.9h.8M205.9,99.6h.8M201.2,97h.8M191.7,118.7h.8M204.2,94.7h.8M211.8,94.5h.8M200.8,102.8h.8M208.6,108.6h.8M183.5,112.4h.8M190.6,98.4h.8M194.3,105.2h.8M186.8,106.5h.8M187.5,95.2h.8M204.8,107.2h.8M183.6,98.4h.8M191.4,93.2h.8M200.9,116.4h.8M220.8,103.7h.8M199.3,95.7h.8M182.8,106.7h.8M207.8,99.6h.8M187.8,107.4h.8M188.3,100.6h.8M218.3,93.4h.8M201.8,91.2h.8M192.4,98.8h.8M196.9,102.1h.8M200.9,98.8h.8M202.8,119.9h.8M190.2,93.6h.8M189.7,108.1h.8M195.8,98.2h.8M185.2,97h.8M212.4,102.4h.8M208.3,108.6h.8M219.8,99h.8M185.2,87.5h.8M203.4,102.5h.8M190.9,102.4h.8M191,121.3h.8M219.2,109.9h.8M189.8,89h.8M204.9,100h.8M180.3,94.5h.8M211.2,92.3h.8M184.3,92.3h.8M211.1,99h.8M203.6,101.3h.8M179.9,93.3h.8M201.9,97.2h.8M191.9,98.9h.8M216.1,103.6h.8M211.1,101.4h.8M212.6,100h.8M225.1,100.2h.8M199.3,115.8h.8M211.2,104.2h.8M208.4,104.5h.8M194.2,96.2h.8M207.6,103.8h.8M210.5,104.5h.8M194.7,94.9h.8M209.5,101.7h.8M194.8,107.7h.8M201.1,106.4h.8M193.6,96.7h.8M211.6,99.8h.8M184.5,93h.8M193.5,114h.8M181.2,97.3h.8M198.9,100.8h.8M186.7,99.6h.8M181.3,90.4h.8M193.9,103.3h.8M190.3,95.1h.8M186.6,105h.8M182.4,103.9h.8M204.7,102.9h.8M182.3,96.4h.8M200.3,96.5h.8M204.5,87.8h.8M207.3,100.4h.8M182.1,117.7h.8M201.6,90.2h.8M193.2,97.4h.8M194.3,105.7h.8M210.8,110.6h.8M228.2,92.9h.8M210.5,96.9h.8M202.4,99.6h.8M193.6,106.5h.8M220.6,100.8h.8M205,110.3h.8M187,103h.8M193.3,100.2h.8M183.1,104h.8M195.5,92.9h.8M210.8,101.6h.8M179.8,103.2h.8M206.2,100.6h.8M188.5,101.6h.8M188,108.4h.8M184.8,93.4h.8M196.9,100.8h.8M199.5,105.7h.8M192.7,89.9h.8M190.7,108.1h.8M221.4,107h.8M210.8,114.7h.8M189.9,101.6h.8M209.2,104.5h.8M185.6,96.9h.8M193.4,116.5h.8M197.5,111.7h.8M209.2,107.6h.8M180.3,103.7h.8M196.6,96.8h.8M193,101.8h.8M189.5,85.6h.8M196.3,93.1h.8M189.5,97.8h.8M180.4,100.7h.8M195.6,101.1h.8M179.7,105.6h.8M203.6,107.2h.8M212,108.2h.8M212,105.4h.8M206.6,108.4h.8M209.3,112.7h.8M195.1,104.1h.8M194.1,91.1h.8M193.1,103.6h.8M186.2,105.5h.8M191.8,90.5h.8M211.4,104.4h.8M202.9,110h.8M191.3,99.1h.8M207.1,101.7h.8M182,95.1h.8M191.1,109.5h.8M202.9,98.4h.8M180,101.9h.8M204.5,98.4h.8M195.7,98.2h.8M210.6,97.8h.8M193.5,99.5h.8M195.5,112.1h.8M184.4,95h.8M183,94.7h.8M205.4,99.8h.8M183.4,110h.8M187.3,106.5h.8M180.4,108.2h.8M202.1,111.4h.8M180.8,107.5h.8M207.4,95.7h.8M189.6,104.9h.8M183,97.2h.8M184.5,103.6h.8M236.7,106.4h.8M194.5,104h.8M184.8,103.7h.8M194.8,100.2h.8M189.9,103.9h.8M184.9,112.2h.8M207.8,99.7h.8M220.4,104.6h.8M190.3,102.8h.8M205.9,97.1h.8M214,110.4h.8M197.9,115.5h.8M205.6,110.8h.8M201.3,106h.8M187.4,101.9h.8M220.1,102.6h.8M188.1,100.6h.8M209.3,97.8h.8M186.9,125.9h.8M201.1,102.6h.8M226,94.6h.8M182.3,95.8h.8M188.8,90.2h.8M225.4,117.3h.8M183.3,104.3h.8M184.4,90.1h.8M179.5,99.6h.8M199.8,102.1h.8M185.1,101.2h.8M188.1,109.3h.8M210.6,97.9h.8M178.1,105h.8M187,99.8h.8M196.4,103.2h.8M213.3,104.9h.8M202.4,105.7h.8M193.5,101.6h.8M220,114.4h.8M183.8,101.7h.8M207.6,101.1h.8M179.3,96.3h.8M182.4,109.5h.8M187.7,103.7h.8M179.2,94.3h.8M185.9,102h.8M195.5,96.6h.8M206,109.4h.8M195.1,102.4h.8M214.6,107.1h.8M193,112.7h.8M187.8,99.2h.8M196.7,109.4h.8M192.2,108h.8M216.3,109.7h.8M185,101.5h.8M186.4,101.5h.8M195.3,103.2h.8M189.2,94.8h.8M185.7,111.2h.8M195.9,101.2h.8M180.3,117.8h.8M178.1,102.6h.8M237.2,117.5h.8M229.7,109.4h.8M229.1,100h.8M229.7,105.7h.8M220.6,119.5h.8M233.8,105.8h.8M225.3,116.2h.8M221.9,123.9h.8M230.3,102.1h.8M225.8,132.7h.8M223,116.9h.8M224.9,106.5h.8M234.6,114.7h.8M226.2,112.5h.8M223.9,101.2h.8M224.2,120.7h.8M221.3,106.8h.8M237.7,112.4h.8M234.3,115.8h.8M238.7,121.9h.8M228.6,95.9h.8M220,97.4h.8M226.3,84.6h.8M235.7,112h.8M229.6,93.4h.8M233.7,104.3h.8M234.4,105.2h.8M222.8,93.4h.8M220,113.8h.8M231.8,105.9h.8M218.7,94.4h.8M233.3,107.8h.8M232.6,112.9h.8M220.5,111.7h.8M230.2,105.7h.8M219.9,103.5h.8M239.3,121.4h.8M236.7,99h.8M227.7,105.7h.8M218.7,115.8h.8M235.1,128.4h.8M225.1,105.3h.8M239.5,104.5h.8M223.9,110.4h.8M225.1,113.2h.8M230.6,102.8h.8M224.3,109.7h.8M237.7,109.2h.8M230.6,109.7h.8M239.7,113.1h.8M226.9,106.4h.8M236.7,103.8h.8M221,101.7h.8M223.6,114.5h.8M211.5,101.2h.8M233.2,101.2h.8M223,118.7h.8M228.7,114.4h.8M222.6,85.3h.8M225.2,104.1h.8M238.4,111.4h.8M233.7,130.1h.8M235.2,114h.8M235.2,113.4h.8M227.3,117.1h.8M231.1,98.5h.8M230.1,94.2h.8M221.1,113.7h.8M227.4,112.6h.8M239.4,111h.8M231.6,125.9h.8M236.5,104.9h.8M234.1,96.1h.8M225.8,116.5h.8M228,110.1h.8M226.1,96.1h.8M232.9,105.5h.8M233.9,94.8h.8M231.9,104.1h.8M229.9,120.4h.8M231.3,126.8h.8M229,104h.8M226.1,98.1h.8M221.9,88.9h.8M234.8,88.3h.8M205.9,111.1h.8M207.2,111.8h.8M193.1,136h.8M195.5,132.5h.8M215.3,99.9h.8M241.4,125h.8M239,133.7h.8M232.2,133.7h.8M206.8,125.1h.8M229.7,140.4h.8M222.1,101.3h.8M197.3,105.1h.8M199.9,103.1h.8M227,138.3h.8M191.9,113.2h.8M209.5,100.8h.8M209.8,133.5h.8M191.5,133.3h.8M238,101.5h.8M234.1,128.6h.8M237.6,106.5h.8M196.9,100.3h.8M200.7,115.9h.8M230.7,124.9h.8M231.7,118.6h.8M198.9,105.1h.8M236.2,125.5h.8M216.7,92.4h.8M236.1,104.1h.8M197.6,94.3h.8M215.5,129.7h.8M189.1,111.3h.8M178.7,112.4h.8M210.2,134.8h.8M183.1,104h.8M184.4,96.7h.8M223.8,107.5h.8M188,119.5h.8M183.9,108.5h.8M209.6,116.2h.8M197.1,127.5h.8M231.2,137.1h.8M187.5,94.9h.8M178.1,116.5h.8M209.4,125.3h.8M182.3,96.6h.8M189.9,104.1h.8M195.5,102.4h.8M209.7,108.8h.8M218.6,125.2h.8M229.6,129.9h.8M212.4,122.6h.8M238,122.3h.8M210.4,108.5h.8M184.5,110.2h.8M232.3,110.3h.8M217.4,112.4h.8M192,142h.8M223.2,116.1h.8M228.7,123.5h.8M228.8,136.1h.8M228.4,140.5h.8M177.8,118h.8M232.7,129.7h.8M201.5,96.4h.8M209.8,115.4h.8M187.5,133.2h.8M220.4,106.1h.8M196.9,105.3h.8M190.2,125.2h.8M228,107.3h.8M242,136h.8M191,121.4h.8M228.9,139.8h.8M221.8,139.8h.8M200.9,134.4h.8M213.6,137.5h.8M240.9,132.5h.8M227.9,138.4h.8M215.4,97.4h.8M257.3,65.6h.8M256.9,74.6h.8M253.1,138.5h.8M202.3,126.1h.8M185.4,66h.8M202.3,133.4h.8M197.1,114.9h.8M239.7,83.9h.8M234,127.3h.8M190.9,137.4h.8M216.6,88.3h.8M206.3,82.3h.8M233.8,65.5h.8M208.5,121.7h.8M186.3,142.1h.8M225,115.8h.8M238.4,131.3h.8M228.3,137.6h.8M192.9,140.9h.8M240.8,115.9h.8" stroke="#000" stroke-opacity=".82" stroke-width=".8" fill="none"/>
<rect x="218.4" y="97.9" width="21.8" height="43.5" fill="none" stroke="#000" stroke-width="1.85"/>
<text x="173.7" y="71.8" font-size="3.8" font-weight="bold" font-style="normal" text-anchor="end" stroke="#000" stroke-width=".32">10⁵</text>
<line x1="174.9" y1="70.5" x2="176.7" y2="70.5" stroke="#222" stroke-width="0.6"/>
<text x="173.7" y="90.1" font-size="3.8" font-weight="bold" font-style="normal" text-anchor="end" stroke="#000" stroke-width=".32">10⁴</text>
<line x1="174.9" y1="88.8" x2="176.7" y2="88.8" stroke="#222" stroke-width="0.6"/>
<text x="173.7" y="108.4" font-size="3.8" font-weight="bold" font-style="normal" text-anchor="end" stroke="#000" stroke-width=".32">10³</text>
<line x1="174.9" y1="107.1" x2="176.7" y2="107.1" stroke="#222" stroke-width="0.6"/>
<text x="173.7" y="127.4" font-size="3.8" font-weight="bold" font-style="normal" text-anchor="end" stroke="#000" stroke-width=".32">10²</text>
<line x1="174.9" y1="126.1" x2="176.7" y2="126.1" stroke="#222" stroke-width="0.6"/>
<text x="173.7" y="135.7" font-size="3.8" font-weight="bold" font-style="normal" text-anchor="end" stroke="#000" stroke-width=".32">0</text>
<line x1="174.9" y1="134.4" x2="176.7" y2="134.4" stroke="#222" stroke-width="0.6"/>
<text x="185.8" y="151" font-size="3.8" font-weight="bold" font-style="normal" text-anchor="middle" stroke="#000" stroke-width=".32">0</text>
<line x1="185.8" y1="144" x2="185.8" y2="145.8" stroke="#222" stroke-width="0.6"/>
<text x="194.3" y="151" font-size="3.8" font-weight="bold" font-style="normal" text-anchor="middle" stroke="#000" stroke-width=".32">10²</text>
<line x1="194.3" y1="144" x2="194.3" y2="145.8" stroke="#222" stroke-width="0.6"/>
<text x="215" y="151" font-size="3.8" font-weight="bold" font-style="normal" text-anchor="middle" stroke="#000" stroke-width=".32">10³</text>
<line x1="215" y1="144" x2="215" y2="145.8" stroke="#222" stroke-width="0.6"/>
<text x="233.7" y="151" font-size="3.8" font-weight="bold" font-style="normal" text-anchor="middle" stroke="#000" stroke-width=".32">10⁴</text>
<line x1="233.7" y1="144" x2="233.7" y2="145.8" stroke="#222" stroke-width="0.6"/>
<text x="252.2" y="151" font-size="3.8" font-weight="bold" font-style="normal" text-anchor="middle" stroke="#000" stroke-width=".32">10⁵</text>
<line x1="252.2" y1="144" x2="252.2" y2="145.8" stroke="#222" stroke-width="0.6"/>
</g>
<g id="panelB">
<rect x="414.3" y="6.9" width="9.2" height="5" fill="#fff" stroke="#000" stroke-width="1.4"/>
<rect x="414.3" y="31.5" width="9.2" height="5" fill="#c8c8c8" stroke="#000" stroke-width="1.4"/>
<rect x="413.8" y="55.6" width="10.2" height="5.8" fill="#000" stroke="#000" stroke-width="0"/>
<text x="434.3" y="14.4" font-size="17.1" font-weight="bold" font-style="normal" text-anchor="start" stroke="#000" stroke-width=".32">8 weeks</text>
<text x="436" y="39.8" font-size="17.1" font-weight="bold" font-style="normal" text-anchor="start" stroke="#000" stroke-width=".32">6 months</text>
<text x="428.6" y="64.2" font-size="17.1" font-weight="bold" font-style="normal" text-anchor="start" stroke="#000" stroke-width=".32">12 months</text>
<line x1="392.9" y1="89.5" x2="392.9" y2="171.4" stroke="#000" stroke-width="1.7"/>
<line x1="392.1" y1="170.6" x2="514.3" y2="170.6" stroke="#000" stroke-width="1.7"/>
<line x1="389.3" y1="90.4" x2="392.8" y2="90.4" stroke="#000" stroke-width="1.55"/>
<text x="386.8" y="93.4" font-size="16.7" font-weight="bold" font-style="normal" text-anchor="end" stroke="#000" stroke-width=".32">60,000,000</text>
<line x1="389.3" y1="116.5" x2="392.8" y2="116.5" stroke="#000" stroke-width="1.55"/>
<text x="386.8" y="122.8" font-size="16.7" font-weight="bold" font-style="normal" text-anchor="end" stroke="#000" stroke-width=".32">40,000,000</text>
<line x1="389.3" y1="143.4" x2="392.8" y2="143.4" stroke="#000" stroke-width="1.55"/>
<text x="386.8" y="150" font-size="16.7" font-weight="bold" font-style="normal" text-anchor="end" stroke="#000" stroke-width=".32">20,000,000</text>
<text transform="translate(288.9 123.5) rotate(-90)" font-size="17.1" font-weight="bold" font-style="normal" text-anchor="middle" stroke="#000" stroke-width=".32">Cells per femur</text>
<line x1="402.4" y1="145.5" x2="402.4" y2="149.3" stroke="#000" stroke-width="1.4"/>
<line x1="398.3" y1="145.5" x2="406.5" y2="145.5" stroke="#000" stroke-width="1.5"/>
<rect x="395.5" y="150.2" width="13.8" height="19.8" fill="#fff" stroke="#000" stroke-width="1.9"/>
<line x1="422.9" y1="139.4" x2="422.9" y2="145.1" stroke="#000" stroke-width="1.4"/>
<line x1="418.8" y1="139.4" x2="427" y2="139.4" stroke="#000" stroke-width="1.5"/>
<rect x="416" y="146" width="13.8" height="24" fill="#c8c8c8" stroke="#000" stroke-width="1.9"/>
<line x1="443.6" y1="102.9" x2="443.6" y2="119.5" stroke="#000" stroke-width="1.4"/>
<line x1="439.4" y1="102.9" x2="447.7" y2="102.9" stroke="#000" stroke-width="1.5"/>
<rect x="437" y="120.5" width="13.1" height="49.5" fill="#000" stroke="#000" stroke-width="1.9"/>
<line x1="463.8" y1="150.9" x2="463.8" y2="153.2" stroke="#000" stroke-width="1.4"/>
<line x1="459.6" y1="150.9" x2="467.9" y2="150.9" stroke="#000" stroke-width="1.5"/>
<rect x="457.2" y="154.1" width="13.1" height="15.9" fill="#fff" stroke="#000" stroke-width="1.9"/>
<line x1="484" y1="142" x2="484" y2="147" stroke="#000" stroke-width="1.4"/>
<line x1="479.9" y1="142" x2="488.1" y2="142" stroke="#000" stroke-width="1.5"/>
<rect x="477.5" y="147.9" width="13" height="22.1" fill="#c8c8c8" stroke="#000" stroke-width="1.9"/>
<line x1="504.1" y1="119.9" x2="504.1" y2="126.7" stroke="#000" stroke-width="1.4"/>
<line x1="500" y1="119.9" x2="508.2" y2="119.9" stroke="#000" stroke-width="1.5"/>
<rect x="497.5" y="127.7" width="13.2" height="42.3" fill="#000" stroke="#000" stroke-width="1.9"/>
<line x1="403.7" y1="88.2" x2="442" y2="88.2" stroke="#000" stroke-width="1.35"/>
<line x1="403.7" y1="86" x2="403.7" y2="90.4" stroke="#000" stroke-width="1.3"/>
<line x1="442" y1="86" x2="442" y2="90.4" stroke="#000" stroke-width="1.3"/>
<text x="422.8" y="91.3" font-size="18.3" font-weight="bold" text-anchor="middle">*</text>
<line x1="464.3" y1="100" x2="502.6" y2="100" stroke="#000" stroke-width="1.35"/>
<line x1="464.3" y1="97.8" x2="464.3" y2="102.2" stroke="#000" stroke-width="1.3"/>
<line x1="502.6" y1="97.8" x2="502.6" y2="102.2" stroke="#000" stroke-width="1.3"/>
<text x="483.7" y="103" font-size="18.3" font-weight="bold" text-anchor="middle">*</text>
<text transform="translate(431 176.3) rotate(-90)" font-size="17.3" font-weight="bold" font-style="italic" text-anchor="end" stroke="#000" stroke-width=".32">Erg<tspan font-size="12.6" dy="-5.6">+/+</tspan></text>
<text transform="translate(490.4 175.3) rotate(-90)" font-size="17.3" font-weight="bold" font-style="italic" text-anchor="end" stroke="#000" stroke-width=".32">Erg<tspan font-size="12.0" dy="-5.6">+/Mld2</tspan></text>
</g>
<g id="panelC">
<rect x="85.2" y="257.8" width="9.8" height="5.2" fill="#fff" stroke="#000" stroke-width="1.4"/>
<rect x="84.5" y="277.6" width="11" height="6.6" fill="#000" stroke="#000" stroke-width="0"/>
<text x="103.2" y="265.7" font-size="17.1" font-weight="bold" font-style="normal" text-anchor="start" stroke="#000" stroke-width=".32">8 weeks</text>
<text x="101.4" y="285.4" font-size="17.1" font-weight="bold" font-style="normal" text-anchor="start" stroke="#000" stroke-width=".32">12 months</text>
<line x1="91.9" y1="315.1" x2="91.9" y2="441.4" stroke="#000" stroke-width="1.65"/>
<line x1="88.2" y1="440.6" x2="174.8" y2="440.6" stroke="#000" stroke-width="1.65"/>
<line x1="88" y1="315.8" x2="91.9" y2="315.8" stroke="#000" stroke-width="1.55"/>
<text x="84.4" y="322" font-size="17.0" font-weight="bold" font-style="normal" text-anchor="end" stroke="#000" stroke-width=".32">60,000</text>
<line x1="88" y1="357" x2="91.9" y2="357" stroke="#000" stroke-width="1.55"/>
<text x="84.4" y="362.6" font-size="17.0" font-weight="bold" font-style="normal" text-anchor="end" stroke="#000" stroke-width=".32">40,000</text>
<line x1="88" y1="398.8" x2="91.9" y2="398.8" stroke="#000" stroke-width="1.55"/>
<text x="84.4" y="405" font-size="17.0" font-weight="bold" font-style="normal" text-anchor="end" stroke="#000" stroke-width=".32">20,000</text>
<text transform="translate(23.2 364.7) rotate(-90)" font-size="17.1" font-weight="bold" font-style="normal" text-anchor="middle" stroke="#000" stroke-width=".32">Cells per femur</text>
<line x1="102.2" y1="348.6" x2="102.2" y2="374.3" stroke="#000" stroke-width="1.4"/>
<line x1="98.2" y1="348.6" x2="106.3" y2="348.6" stroke="#000" stroke-width="1.5"/>
<rect x="95.5" y="375.2" width="13.5" height="65.4" fill="#fff" stroke="#000" stroke-width="1.9"/>
<line x1="123" y1="334.3" x2="123" y2="363.5" stroke="#000" stroke-width="1.4"/>
<line x1="118.9" y1="334.3" x2="127.1" y2="334.3" stroke="#000" stroke-width="1.5"/>
<rect x="116" y="364.4" width="14" height="76.2" fill="#000" stroke="#000" stroke-width="1.9"/>
<line x1="144.1" y1="398.9" x2="144.1" y2="407.4" stroke="#000" stroke-width="1.4"/>
<line x1="140" y1="398.9" x2="148.2" y2="398.9" stroke="#000" stroke-width="1.5"/>
<rect x="137.2" y="408.3" width="13.8" height="32.3" fill="#fff" stroke="#000" stroke-width="1.9"/>
<line x1="164.8" y1="381.1" x2="164.8" y2="388.2" stroke="#000" stroke-width="1.4"/>
<line x1="160.7" y1="381.1" x2="168.8" y2="381.1" stroke="#000" stroke-width="1.5"/>
<rect x="157.7" y="389.1" width="14.1" height="51.5" fill="#000" stroke="#000" stroke-width="1.9"/>
<line x1="98.5" y1="320.7" x2="143.5" y2="320.7" stroke="#000" stroke-width="1.35"/>
<line x1="98.5" y1="318.5" x2="98.5" y2="322.9" stroke="#000" stroke-width="1.3"/>
<line x1="143.5" y1="318.5" x2="143.5" y2="322.9" stroke="#000" stroke-width="1.3"/>
<text x="122.6" y="321.7" font-size="18.3" font-weight="bold" text-anchor="middle">*</text>
<line x1="144" y1="369.2" x2="164.6" y2="369.2" stroke="#000" stroke-width="1.35"/>
<line x1="144" y1="367" x2="144" y2="371.4" stroke="#000" stroke-width="1.3"/>
<line x1="164.6" y1="367" x2="164.6" y2="371.4" stroke="#000" stroke-width="1.3"/>
<text x="154" y="371.4" font-size="18.3" font-weight="bold" text-anchor="middle">*</text>
<text transform="translate(117.6 445.6) rotate(-90)" font-size="17.3" font-weight="bold" font-style="italic" text-anchor="end" stroke="#000" stroke-width=".32">Erg<tspan font-size="12.6" dy="-5.6">+/+</tspan></text>
<text transform="translate(160.6 444.6) rotate(-90)" font-size="17.3" font-weight="bold" font-style="italic" text-anchor="end" stroke="#000" stroke-width=".32">Erg<tspan font-size="12.4" dy="-5.6">+/Mld2</tspan></text>
</g>
<g id="panelD">
<rect x="286.9" y="256.9" width="9.6" height="5.4" fill="#fff" stroke="#000" stroke-width="1.4"/>
<rect x="286.9" y="276.9" width="9.6" height="5.4" fill="#c8c8c8" stroke="#000" stroke-width="1.4"/>
<text x="306.3" y="265" font-size="17.1" font-weight="bold" font-style="normal" text-anchor="start" stroke="#000" stroke-width=".32">8 weeks</text>
<text x="305.6" y="286" font-size="17.0" font-weight="bold" font-style="normal" text-anchor="start" stroke="#000" stroke-width=".32">6 months</text>
<line x1="277.8" y1="317.2" x2="277.8" y2="443.7" stroke="#000" stroke-width="1.7"/>
<line x1="276.9" y1="442.8" x2="360.7" y2="442.8" stroke="#000" stroke-width="1.7"/>
<line x1="273" y1="317.9" x2="277.8" y2="317.9" stroke="#000" stroke-width="1.55"/>
<text x="268.6" y="324.4" font-size="16.7" font-weight="bold" font-style="normal" text-anchor="end" stroke="#000" stroke-width=".32">3,500</text>
<line x1="273" y1="353.4" x2="277.8" y2="353.4" stroke="#000" stroke-width="1.55"/>
<text x="268.6" y="358.8" font-size="16.7" font-weight="bold" font-style="normal" text-anchor="end" stroke="#000" stroke-width=".32">2,500</text>
<line x1="273" y1="388.8" x2="277.8" y2="388.8" stroke="#000" stroke-width="1.55"/>
<text x="268.6" y="395" font-size="16.7" font-weight="bold" font-style="normal" text-anchor="end" stroke="#000" stroke-width=".32">1,500</text>
<line x1="273" y1="424.6" x2="277.8" y2="424.6" stroke="#000" stroke-width="1.55"/>
<text x="268.6" y="430.8" font-size="16.7" font-weight="bold" font-style="normal" text-anchor="end" stroke="#000" stroke-width=".32">500</text>
<text transform="translate(218 371.5) rotate(-90)" font-size="17.3" font-weight="bold" font-style="normal" text-anchor="middle" stroke="#000" stroke-width=".32">Cells per femur</text>
<line x1="288" y1="367.9" x2="288" y2="384.2" stroke="#000" stroke-width="1.4"/>
<line x1="283.9" y1="367.9" x2="292.1" y2="367.9" stroke="#000" stroke-width="1.5"/>
<rect x="280.8" y="385.1" width="14.3" height="57.7" fill="#fff" stroke="#000" stroke-width="1.9"/>
<line x1="308.9" y1="334.7" x2="308.9" y2="364.6" stroke="#000" stroke-width="1.4"/>
<line x1="304.8" y1="334.7" x2="313.1" y2="334.7" stroke="#000" stroke-width="1.5"/>
<rect x="302.2" y="365.5" width="13.5" height="77.3" fill="#c8c8c8" stroke="#000" stroke-width="1.9"/>
<line x1="329.8" y1="402.3" x2="329.8" y2="417" stroke="#000" stroke-width="1.4"/>
<line x1="325.7" y1="402.3" x2="333.9" y2="402.3" stroke="#000" stroke-width="1.5"/>
<rect x="322.9" y="417.9" width="13.8" height="24.9" fill="#fff" stroke="#000" stroke-width="1.9"/>
<line x1="350.2" y1="394.1" x2="350.2" y2="413.1" stroke="#000" stroke-width="1.4"/>
<line x1="346.1" y1="394.1" x2="354.3" y2="394.1" stroke="#000" stroke-width="1.5"/>
<rect x="343.5" y="414" width="13.4" height="28.8" fill="#c8c8c8" stroke="#000" stroke-width="1.9"/>
<line x1="285.9" y1="304.5" x2="330.6" y2="304.5" stroke="#000" stroke-width="1.35"/>
<line x1="285.9" y1="302.3" x2="285.9" y2="306.7" stroke="#000" stroke-width="1.3"/>
<line x1="330.6" y1="302.3" x2="330.6" y2="306.7" stroke="#000" stroke-width="1.3"/>
<text x="310.2" y="306.1" font-size="18.3" font-weight="bold" text-anchor="middle">*</text>
<line x1="308.2" y1="322.5" x2="353.4" y2="322.5" stroke="#000" stroke-width="1.35"/>
<line x1="308.2" y1="320.3" x2="308.2" y2="324.7" stroke="#000" stroke-width="1.3"/>
<line x1="353.4" y1="320.3" x2="353.4" y2="324.7" stroke="#000" stroke-width="1.3"/>
<text x="332.8" y="324.2" font-size="18.3" font-weight="bold" text-anchor="middle">*</text>
<text transform="translate(304 449.6) rotate(-90)" font-size="17.3" font-weight="bold" font-style="italic" text-anchor="end" stroke="#000" stroke-width=".32">Erg<tspan font-size="12.3" dy="-5.6">+/+</tspan></text>
<text transform="translate(346.5 447.5) rotate(-90)" font-size="17.3" font-weight="bold" font-style="italic" text-anchor="end" stroke="#000" stroke-width=".32">Erg<tspan font-size="12.4" dy="-5.6">+/Mld2</tspan></text>
<line x1="434.3" y1="317.7" x2="434.3" y2="443.7" stroke="#000" stroke-width="1.7"/>
<line x1="433.4" y1="442.8" x2="517" y2="442.8" stroke="#000" stroke-width="1.7"/>
<line x1="429.8" y1="342.8" x2="434.3" y2="342.8" stroke="#000" stroke-width="1.55"/>
<text x="429" y="348.6" font-size="17.0" font-weight="bold" font-style="normal" text-anchor="end" stroke="#000" stroke-width=".32">0.02</text>
<line x1="429.8" y1="392.2" x2="434.3" y2="392.2" stroke="#000" stroke-width="1.55"/>
<text x="429" y="398.8" font-size="17.0" font-weight="bold" font-style="normal" text-anchor="end" stroke="#000" stroke-width=".32">0.01</text>
<text transform="translate(388.8 377) rotate(-90)" font-size="17.1" font-weight="bold" font-style="normal" text-anchor="middle" stroke="#000" stroke-width=".32">% Viable Cells</text>
<line x1="444.5" y1="374.4" x2="444.5" y2="385.7" stroke="#000" stroke-width="1.4"/>
<line x1="440.4" y1="374.4" x2="448.6" y2="374.4" stroke="#000" stroke-width="1.5"/>
<rect x="437.6" y="386.6" width="13.8" height="56.2" fill="#fff" stroke="#000" stroke-width="1.9"/>
<line x1="465.6" y1="344" x2="465.6" y2="377.6" stroke="#000" stroke-width="1.4"/>
<line x1="461.5" y1="344" x2="469.7" y2="344" stroke="#000" stroke-width="1.5"/>
<rect x="459.1" y="378.5" width="13" height="64.3" fill="#c8c8c8" stroke="#000" stroke-width="1.9"/>
<line x1="486.1" y1="408.8" x2="486.1" y2="418.4" stroke="#000" stroke-width="1.4"/>
<line x1="482" y1="408.8" x2="490.2" y2="408.8" stroke="#000" stroke-width="1.5"/>
<rect x="479.3" y="419.3" width="13.6" height="23.5" fill="#fff" stroke="#000" stroke-width="1.9"/>
<line x1="507.1" y1="410.6" x2="507.1" y2="420.4" stroke="#000" stroke-width="1.4"/>
<line x1="503" y1="410.6" x2="511.2" y2="410.6" stroke="#000" stroke-width="1.5"/>
<rect x="500.1" y="421.3" width="14" height="21.5" fill="#c8c8c8" stroke="#000" stroke-width="1.9"/>
<line x1="442.9" y1="307.3" x2="488.3" y2="307.3" stroke="#000" stroke-width="1.35"/>
<line x1="442.9" y1="305.1" x2="442.9" y2="309.5" stroke="#000" stroke-width="1.3"/>
<line x1="488.3" y1="305.1" x2="488.3" y2="309.5" stroke="#000" stroke-width="1.3"/>
<text x="467.6" y="309.1" font-size="18.3" font-weight="bold" text-anchor="middle">*</text>
<line x1="465.7" y1="329.2" x2="510.8" y2="329.2" stroke="#000" stroke-width="1.35"/>
<line x1="465.7" y1="327" x2="465.7" y2="331.4" stroke="#000" stroke-width="1.3"/>
<line x1="510.8" y1="327" x2="510.8" y2="331.4" stroke="#000" stroke-width="1.3"/>
<text x="489.9" y="330.4" font-size="18.3" font-weight="bold" text-anchor="middle">*</text>
<text transform="translate(461 449) rotate(-90)" font-size="17.3" font-weight="bold" font-style="italic" text-anchor="end" stroke="#000" stroke-width=".32">Erg<tspan font-size="12.6" dy="-5.6">+/+</tspan></text>
<text transform="translate(503.5 448.5) rotate(-90)" font-size="17.3" font-weight="bold" font-style="italic" text-anchor="end" stroke="#000" stroke-width=".32">Erg<tspan font-size="12.4" dy="-5.6">+/Mld2</tspan></text>
</g>
<g id="panelE">
<line x1="136.4" y1="533.2" x2="136.4" y2="629.2" stroke="#000" stroke-width="1.65"/>
<line x1="132.6" y1="628.4" x2="367" y2="628.4" stroke="#000" stroke-width="1.65"/>
<line x1="132.4" y1="534" x2="136.4" y2="534" stroke="#000" stroke-width="1.55"/>
<text x="131" y="539.2" font-size="16.4" font-weight="bold" font-style="normal" text-anchor="end" stroke="#000" stroke-width=".32">100</text>
<line x1="132.4" y1="581.4" x2="136.4" y2="581.4" stroke="#000" stroke-width="1.55"/>
<text x="131" y="586.4" font-size="16.4" font-weight="bold" font-style="normal" text-anchor="end" stroke="#000" stroke-width=".32">50</text>
<line x1="132.4" y1="628.4" x2="136.4" y2="628.4" stroke="#000" stroke-width="1.55"/>
<text x="131" y="633.4" font-size="16.4" font-weight="bold" font-style="normal" text-anchor="end" stroke="#000" stroke-width=".32">0</text>
<text transform="translate(90.4 614.6) rotate(-90)" font-size="16.8" font-weight="bold" font-style="normal" text-anchor="middle" stroke="#000" stroke-width=".32">% Donor Contribution</text>
<line x1="147.7" y1="572.9" x2="147.7" y2="584" stroke="#000" stroke-width="1.4"/>
<line x1="143.6" y1="572.9" x2="151.8" y2="572.9" stroke="#000" stroke-width="1.5"/>
<rect x="140.5" y="585" width="14.3" height="43.4" fill="#fff" stroke="#000" stroke-width="1.9"/>
<line x1="167.2" y1="548.4" x2="167.2" y2="571" stroke="#000" stroke-width="1.4"/>
<line x1="163.1" y1="548.4" x2="171.3" y2="548.4" stroke="#000" stroke-width="1.5"/>
<rect x="160.1" y="572" width="14.2" height="56.4" fill="#000" stroke="#000" stroke-width="1.9"/>
<line x1="193.8" y1="566.3" x2="193.8" y2="578.1" stroke="#000" stroke-width="1.4"/>
<line x1="189.8" y1="566.3" x2="197.9" y2="566.3" stroke="#000" stroke-width="1.5"/>
<rect x="186.7" y="579.1" width="14.3" height="49.3" fill="#fff" stroke="#000" stroke-width="1.9"/>
<line x1="213.4" y1="542.3" x2="213.4" y2="563.9" stroke="#000" stroke-width="1.4"/>
<line x1="209.3" y1="542.3" x2="217.5" y2="542.3" stroke="#000" stroke-width="1.5"/>
<rect x="206.3" y="564.9" width="14.2" height="63.5" fill="#000" stroke="#000" stroke-width="1.9"/>
<line x1="240.1" y1="588.1" x2="240.1" y2="598.5" stroke="#000" stroke-width="1.4"/>
<line x1="236" y1="588.1" x2="244.2" y2="588.1" stroke="#000" stroke-width="1.5"/>
<rect x="232.9" y="599.5" width="14.3" height="28.9" fill="#fff" stroke="#000" stroke-width="1.9"/>
<line x1="259.6" y1="559.7" x2="259.6" y2="582.4" stroke="#000" stroke-width="1.4"/>
<line x1="255.5" y1="559.7" x2="263.7" y2="559.7" stroke="#000" stroke-width="1.5"/>
<rect x="252.5" y="583.4" width="14.2" height="45" fill="#000" stroke="#000" stroke-width="1.9"/>
<line x1="286.2" y1="582.8" x2="286.2" y2="588.2" stroke="#000" stroke-width="1.4"/>
<line x1="282.1" y1="582.8" x2="290.4" y2="582.8" stroke="#000" stroke-width="1.5"/>
<rect x="279.1" y="589.2" width="14.3" height="39.2" fill="#fff" stroke="#000" stroke-width="1.9"/>
<line x1="305.8" y1="561.3" x2="305.8" y2="572.4" stroke="#000" stroke-width="1.4"/>
<line x1="301.7" y1="561.3" x2="309.9" y2="561.3" stroke="#000" stroke-width="1.5"/>
<rect x="298.7" y="573.4" width="14.2" height="55" fill="#000" stroke="#000" stroke-width="1.9"/>
<line x1="332.5" y1="570.9" x2="332.5" y2="580.5" stroke="#000" stroke-width="1.4"/>
<line x1="328.4" y1="570.9" x2="336.6" y2="570.9" stroke="#000" stroke-width="1.5"/>
<rect x="325.3" y="581.5" width="14.3" height="46.9" fill="#fff" stroke="#000" stroke-width="1.9"/>
<line x1="352" y1="544.3" x2="352" y2="567" stroke="#000" stroke-width="1.4"/>
<line x1="347.9" y1="544.3" x2="356.1" y2="544.3" stroke="#000" stroke-width="1.5"/>
<rect x="344.9" y="568" width="14.2" height="60.4" fill="#000" stroke="#000" stroke-width="1.9"/>
<text transform="translate(165 638.2) rotate(-90) scale(1.03 1)" font-size="13.8" font-weight="normal" text-anchor="end" stroke="#000" stroke-width=".15">LSK</text>
<text transform="translate(256.5 635) rotate(-90) scale(1.1 1)" font-size="13.8" font-weight="normal" text-anchor="end" stroke="#000" stroke-width=".15">B-Cell</text>
<text transform="translate(299.2 634.8) rotate(-90) scale(1.07 1)" font-size="13.8" font-weight="normal" text-anchor="end" stroke="#000" stroke-width=".15">T-Cell</text>
<text transform="translate(345.9 633.6) rotate(-90) scale(1.1 1)" font-size="13.8" font-weight="normal" text-anchor="end" stroke="#000" stroke-width=".15">Myeloid</text>
<text transform="translate(208.3 721.3) rotate(-90)" font-size="13.8" font-weight="normal" letter-spacing="0.9" stroke="#000" stroke-width="0.15">Lin</text>
<text transform="translate(202.3 702.4) rotate(-90)" font-size="9.6" font-weight="normal" letter-spacing="0.0" stroke="#000" stroke-width="0.3">-</text>
<text transform="translate(208.3 694.5) rotate(-90)" font-size="13.8" font-weight="normal" letter-spacing="1.2" stroke="#000" stroke-width="0.15">Kit</text>
<text transform="translate(203.9 676) rotate(-90)" font-size="10" font-weight="normal" letter-spacing="0.0" stroke="#000" stroke-width="0.3">+</text>
<text transform="translate(208.3 664.6) rotate(-90)" font-size="13.8" font-weight="normal" letter-spacing="0.6" stroke="#000" stroke-width="0.15">Sca</text>
<text transform="translate(202.3 636.8) rotate(-90)" font-size="9.6" font-weight="normal" letter-spacing="0.0" stroke="#000" stroke-width="0.3">-</text>
<rect x="380.7" y="596.9" width="14.9" height="8.4" fill="#fff" stroke="#000" stroke-width="1.4"/>
<rect x="380" y="618.2" width="16.3" height="9.8" fill="#000" stroke="#000" stroke-width="0"/>
<text x="402.6" y="605" font-size="17.3" font-weight="bold" font-style="italic" text-anchor="start" stroke="#000" stroke-width=".32">Erg<tspan font-size="12.6" dy="-5.6">+/+</tspan></text>
<text x="402.4" y="629.2" font-size="17.3" font-weight="bold" font-style="italic" text-anchor="start" stroke="#000" stroke-width=".32">Erg<tspan font-size="12.6" dy="-5.6">+/Mld2</tspan></text>
</g>
</svg></body></html>
